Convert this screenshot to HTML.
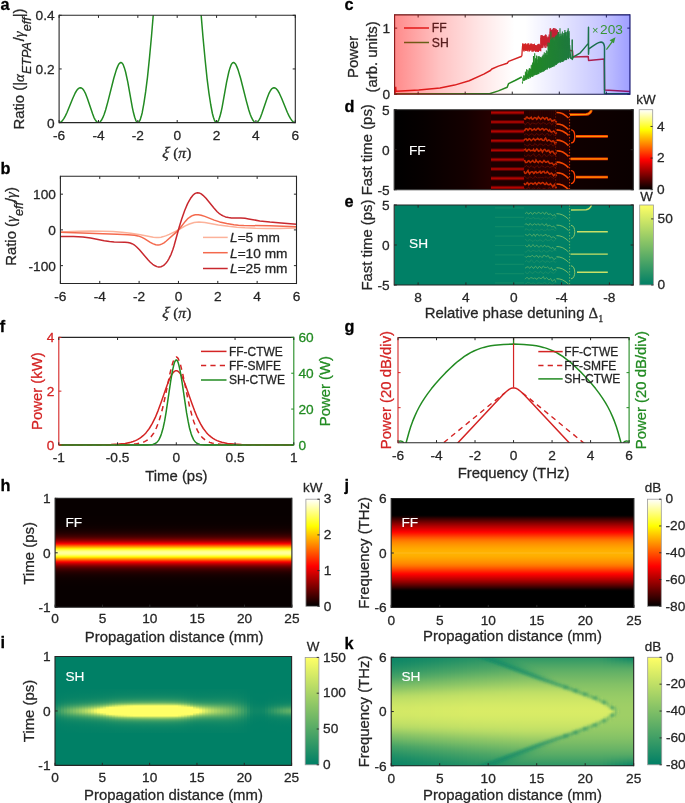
<!DOCTYPE html><html><head><meta charset="utf-8"><style>html,body{margin:0;padding:0;background:#fff;overflow:hidden}svg{display:block;will-change:transform}text{stroke-width:0.28px;stroke-linejoin:round}text[fill="#262626"]{stroke:#262626}text[fill="#000"]{stroke:#000}text[fill="#fff"]{stroke:#fff;stroke-width:0.15px}text[fill="#d42424"]{stroke:#d42424}text[fill="#228b22"]{stroke:#228b22}text[fill="#2e8b2e"]{stroke:#2e8b2e}</style></head><body><svg width="685" height="803" viewBox="0 0 685 803"><defs><clipPath id="ca"><rect x="59.1" y="15.3" width="236.2" height="107.3"/></clipPath><clipPath id="cb"><rect x="60.4" y="176.3" width="236.1" height="107.2"/></clipPath><clipPath id="cc"><rect x="394.6" y="14.9" width="235.3" height="79.3"/></clipPath><linearGradient id="cov" x1="0" y1="0" x2="1" y2="0"><stop offset="0" stop-color="#ff0000" stop-opacity="0.46"/><stop offset="0.193" stop-color="#ff0000" stop-opacity="0.235"/><stop offset="0.365" stop-color="#ff0000" stop-opacity="0.1"/><stop offset="0.51" stop-color="#ff0000" stop-opacity="0"/><stop offset="0.554" stop-color="#0000ff" stop-opacity="0"/><stop offset="0.703" stop-color="#0000ff" stop-opacity="0.1"/><stop offset="0.873" stop-color="#0000ff" stop-opacity="0.22"/><stop offset="1" stop-color="#0000ff" stop-opacity="0.38"/></linearGradient><clipPath id="cd"><rect x="394.2" y="109.7" width="239.1" height="80"/></clipPath><linearGradient id="dbg" x1="0" y1="0" x2="1" y2="0"><stop offset="0" stop-color="#000"/><stop offset="0.12" stop-color="#060000"/><stop offset="0.3" stop-color="#140000"/><stop offset="0.41" stop-color="#260000"/><stop offset="0.4101" stop-color="#180000"/><stop offset="1" stop-color="#0a0000"/></linearGradient><linearGradient id="cbd" x1="0" y1="0" x2="0" y2="1"><stop offset="0%" stop-color="#ffffff"/><stop offset="3.12%" stop-color="#ffffdf"/><stop offset="6.25%" stop-color="#ffffbf"/><stop offset="9.38%" stop-color="#ffff9f"/><stop offset="12.5%" stop-color="#ffff80"/><stop offset="15.62%" stop-color="#ffff60"/><stop offset="18.75%" stop-color="#ffff40"/><stop offset="21.88%" stop-color="#ffff20"/><stop offset="25%" stop-color="#ffff00"/><stop offset="28.12%" stop-color="#ffea00"/><stop offset="31.25%" stop-color="#ffd400"/><stop offset="34.38%" stop-color="#ffbf00"/><stop offset="37.5%" stop-color="#ffaa00"/><stop offset="40.62%" stop-color="#ff9500"/><stop offset="43.75%" stop-color="#ff8000"/><stop offset="46.88%" stop-color="#ff6a00"/><stop offset="50%" stop-color="#ff5500"/><stop offset="53.12%" stop-color="#ff4000"/><stop offset="56.25%" stop-color="#ff2a00"/><stop offset="59.38%" stop-color="#ff1500"/><stop offset="62.5%" stop-color="#ff0000"/><stop offset="65.62%" stop-color="#ea0000"/><stop offset="68.75%" stop-color="#d40000"/><stop offset="71.88%" stop-color="#bf0000"/><stop offset="75%" stop-color="#aa0000"/><stop offset="78.12%" stop-color="#950000"/><stop offset="81.25%" stop-color="#800000"/><stop offset="84.38%" stop-color="#6a0000"/><stop offset="87.5%" stop-color="#550000"/><stop offset="90.62%" stop-color="#400000"/><stop offset="93.75%" stop-color="#2a0000"/><stop offset="96.88%" stop-color="#150000"/><stop offset="100%" stop-color="#000000"/></linearGradient><clipPath id="ce"><rect x="394.2" y="205" width="239.1" height="80"/></clipPath><linearGradient id="cbe" x1="0" y1="0" x2="0" y2="1"><stop offset="0%" stop-color="#ffff66"/><stop offset="3.12%" stop-color="#f7fb66"/><stop offset="6.25%" stop-color="#eff766"/><stop offset="9.38%" stop-color="#e7f366"/><stop offset="12.5%" stop-color="#dfef66"/><stop offset="15.62%" stop-color="#d7eb66"/><stop offset="18.75%" stop-color="#cfe766"/><stop offset="21.88%" stop-color="#c7e366"/><stop offset="25%" stop-color="#bfdf66"/><stop offset="28.12%" stop-color="#b7db66"/><stop offset="31.25%" stop-color="#afd766"/><stop offset="34.38%" stop-color="#a7d366"/><stop offset="37.5%" stop-color="#9fcf66"/><stop offset="40.62%" stop-color="#97cb66"/><stop offset="43.75%" stop-color="#8fc766"/><stop offset="46.88%" stop-color="#87c366"/><stop offset="50%" stop-color="#80bf66"/><stop offset="53.12%" stop-color="#78bb66"/><stop offset="56.25%" stop-color="#70b766"/><stop offset="59.38%" stop-color="#68b366"/><stop offset="62.5%" stop-color="#60af66"/><stop offset="65.62%" stop-color="#58ab66"/><stop offset="68.75%" stop-color="#50a766"/><stop offset="71.88%" stop-color="#48a366"/><stop offset="75%" stop-color="#409f66"/><stop offset="78.12%" stop-color="#389b66"/><stop offset="81.25%" stop-color="#309766"/><stop offset="84.38%" stop-color="#289366"/><stop offset="87.5%" stop-color="#208f66"/><stop offset="90.62%" stop-color="#188b66"/><stop offset="93.75%" stop-color="#108766"/><stop offset="96.88%" stop-color="#088366"/><stop offset="100%" stop-color="#008066"/></linearGradient><clipPath id="cf"><rect x="58.8" y="337.4" width="235" height="107.5"/></clipPath><clipPath id="cf2"><rect x="59.4" y="336.4" width="233.8" height="109.5"/></clipPath><clipPath id="cg"><rect x="398" y="337.6" width="231.1" height="105.1"/></clipPath><linearGradient id="g1" x1="0" y1="0" x2="0" y2="1"><stop offset="0" stop-color="#070000"/><stop offset="0.009" stop-color="#070000"/><stop offset="0.018" stop-color="#070000"/><stop offset="0.028" stop-color="#070000"/><stop offset="0.037" stop-color="#070000"/><stop offset="0.046" stop-color="#070000"/><stop offset="0.055" stop-color="#070000"/><stop offset="0.064" stop-color="#070000"/><stop offset="0.073" stop-color="#070000"/><stop offset="0.083" stop-color="#070000"/><stop offset="0.092" stop-color="#070000"/><stop offset="0.101" stop-color="#070000"/><stop offset="0.11" stop-color="#070000"/><stop offset="0.119" stop-color="#070000"/><stop offset="0.128" stop-color="#070000"/><stop offset="0.138" stop-color="#070000"/><stop offset="0.147" stop-color="#070000"/><stop offset="0.156" stop-color="#070000"/><stop offset="0.165" stop-color="#080000"/><stop offset="0.174" stop-color="#080000"/><stop offset="0.183" stop-color="#080000"/><stop offset="0.193" stop-color="#080000"/><stop offset="0.202" stop-color="#090000"/><stop offset="0.211" stop-color="#090000"/><stop offset="0.22" stop-color="#0a0000"/><stop offset="0.229" stop-color="#0a0000"/><stop offset="0.239" stop-color="#0b0000"/><stop offset="0.248" stop-color="#0c0000"/><stop offset="0.257" stop-color="#0e0000"/><stop offset="0.266" stop-color="#0f0000"/><stop offset="0.275" stop-color="#110000"/><stop offset="0.284" stop-color="#140000"/><stop offset="0.294" stop-color="#170000"/><stop offset="0.303" stop-color="#1b0000"/><stop offset="0.312" stop-color="#200000"/><stop offset="0.321" stop-color="#260000"/><stop offset="0.33" stop-color="#2e0000"/><stop offset="0.339" stop-color="#370000"/><stop offset="0.349" stop-color="#420000"/><stop offset="0.358" stop-color="#500000"/><stop offset="0.367" stop-color="#610000"/><stop offset="0.376" stop-color="#750000"/><stop offset="0.385" stop-color="#8e0000"/><stop offset="0.394" stop-color="#aa0000"/><stop offset="0.404" stop-color="#cc0000"/><stop offset="0.413" stop-color="#f20000"/><stop offset="0.422" stop-color="#ff1e00"/><stop offset="0.431" stop-color="#ff4e00"/><stop offset="0.44" stop-color="#ff8000"/><stop offset="0.45" stop-color="#ffb400"/><stop offset="0.459" stop-color="#ffe600"/><stop offset="0.468" stop-color="#ffff20"/><stop offset="0.477" stop-color="#ffff5a"/><stop offset="0.486" stop-color="#ffff84"/><stop offset="0.495" stop-color="#ffff9a"/><stop offset="0.505" stop-color="#ffff9a"/><stop offset="0.514" stop-color="#ffff84"/><stop offset="0.523" stop-color="#ffff5a"/><stop offset="0.532" stop-color="#ffff20"/><stop offset="0.541" stop-color="#ffe600"/><stop offset="0.55" stop-color="#ffb400"/><stop offset="0.56" stop-color="#ff8000"/><stop offset="0.569" stop-color="#ff4e00"/><stop offset="0.578" stop-color="#ff1e00"/><stop offset="0.587" stop-color="#f20000"/><stop offset="0.596" stop-color="#cc0000"/><stop offset="0.606" stop-color="#aa0000"/><stop offset="0.615" stop-color="#8e0000"/><stop offset="0.624" stop-color="#750000"/><stop offset="0.633" stop-color="#610000"/><stop offset="0.642" stop-color="#500000"/><stop offset="0.651" stop-color="#420000"/><stop offset="0.661" stop-color="#370000"/><stop offset="0.67" stop-color="#2e0000"/><stop offset="0.679" stop-color="#260000"/><stop offset="0.688" stop-color="#200000"/><stop offset="0.697" stop-color="#1b0000"/><stop offset="0.706" stop-color="#170000"/><stop offset="0.716" stop-color="#140000"/><stop offset="0.725" stop-color="#110000"/><stop offset="0.734" stop-color="#0f0000"/><stop offset="0.743" stop-color="#0e0000"/><stop offset="0.752" stop-color="#0c0000"/><stop offset="0.761" stop-color="#0b0000"/><stop offset="0.771" stop-color="#0a0000"/><stop offset="0.78" stop-color="#0a0000"/><stop offset="0.789" stop-color="#090000"/><stop offset="0.798" stop-color="#090000"/><stop offset="0.807" stop-color="#080000"/><stop offset="0.817" stop-color="#080000"/><stop offset="0.826" stop-color="#080000"/><stop offset="0.835" stop-color="#080000"/><stop offset="0.844" stop-color="#070000"/><stop offset="0.853" stop-color="#070000"/><stop offset="0.862" stop-color="#070000"/><stop offset="0.872" stop-color="#070000"/><stop offset="0.881" stop-color="#070000"/><stop offset="0.89" stop-color="#070000"/><stop offset="0.899" stop-color="#070000"/><stop offset="0.908" stop-color="#070000"/><stop offset="0.917" stop-color="#070000"/><stop offset="0.927" stop-color="#070000"/><stop offset="0.936" stop-color="#070000"/><stop offset="0.945" stop-color="#070000"/><stop offset="0.954" stop-color="#070000"/><stop offset="0.963" stop-color="#070000"/><stop offset="0.972" stop-color="#070000"/><stop offset="0.982" stop-color="#070000"/><stop offset="0.991" stop-color="#070000"/><stop offset="1" stop-color="#070000"/></linearGradient><linearGradient id="cbh" x1="0" y1="0" x2="0" y2="1"><stop offset="0%" stop-color="#ffffff"/><stop offset="3.12%" stop-color="#ffffdf"/><stop offset="6.25%" stop-color="#ffffbf"/><stop offset="9.38%" stop-color="#ffff9f"/><stop offset="12.5%" stop-color="#ffff80"/><stop offset="15.62%" stop-color="#ffff60"/><stop offset="18.75%" stop-color="#ffff40"/><stop offset="21.88%" stop-color="#ffff20"/><stop offset="25%" stop-color="#ffff00"/><stop offset="28.12%" stop-color="#ffea00"/><stop offset="31.25%" stop-color="#ffd400"/><stop offset="34.38%" stop-color="#ffbf00"/><stop offset="37.5%" stop-color="#ffaa00"/><stop offset="40.62%" stop-color="#ff9500"/><stop offset="43.75%" stop-color="#ff8000"/><stop offset="46.88%" stop-color="#ff6a00"/><stop offset="50%" stop-color="#ff5500"/><stop offset="53.12%" stop-color="#ff4000"/><stop offset="56.25%" stop-color="#ff2a00"/><stop offset="59.38%" stop-color="#ff1500"/><stop offset="62.5%" stop-color="#ff0000"/><stop offset="65.62%" stop-color="#ea0000"/><stop offset="68.75%" stop-color="#d40000"/><stop offset="71.88%" stop-color="#bf0000"/><stop offset="75%" stop-color="#aa0000"/><stop offset="78.12%" stop-color="#950000"/><stop offset="81.25%" stop-color="#800000"/><stop offset="84.38%" stop-color="#6a0000"/><stop offset="87.5%" stop-color="#550000"/><stop offset="90.62%" stop-color="#400000"/><stop offset="93.75%" stop-color="#2a0000"/><stop offset="96.88%" stop-color="#150000"/><stop offset="100%" stop-color="#000000"/></linearGradient><linearGradient id="g2" x1="0" y1="0" x2="0" y2="1"><stop offset="0" stop-color="#018066"/><stop offset="0.038" stop-color="#018066"/><stop offset="0.077" stop-color="#018066"/><stop offset="0.115" stop-color="#028066"/><stop offset="0.154" stop-color="#028166"/><stop offset="0.192" stop-color="#038166"/><stop offset="0.231" stop-color="#048266"/><stop offset="0.269" stop-color="#078366"/><stop offset="0.308" stop-color="#0a8566"/><stop offset="0.346" stop-color="#0f8766"/><stop offset="0.385" stop-color="#168b66"/><stop offset="0.423" stop-color="#1f8f66"/><stop offset="0.462" stop-color="#279366"/><stop offset="0.5" stop-color="#2a9566"/><stop offset="0.538" stop-color="#279366"/><stop offset="0.577" stop-color="#1f8f66"/><stop offset="0.615" stop-color="#168b66"/><stop offset="0.654" stop-color="#0f8766"/><stop offset="0.692" stop-color="#0a8566"/><stop offset="0.731" stop-color="#078366"/><stop offset="0.769" stop-color="#048266"/><stop offset="0.808" stop-color="#038166"/><stop offset="0.846" stop-color="#028166"/><stop offset="0.885" stop-color="#028066"/><stop offset="0.923" stop-color="#018066"/><stop offset="0.962" stop-color="#018066"/><stop offset="1" stop-color="#018066"/></linearGradient><linearGradient id="g3" x1="0" y1="0" x2="0" y2="1"><stop offset="0" stop-color="#018066"/><stop offset="0.038" stop-color="#018066"/><stop offset="0.077" stop-color="#018066"/><stop offset="0.115" stop-color="#028166"/><stop offset="0.154" stop-color="#038166"/><stop offset="0.192" stop-color="#048266"/><stop offset="0.231" stop-color="#068366"/><stop offset="0.269" stop-color="#098466"/><stop offset="0.308" stop-color="#0e8666"/><stop offset="0.346" stop-color="#158a66"/><stop offset="0.385" stop-color="#1f8f66"/><stop offset="0.423" stop-color="#2b9566"/><stop offset="0.462" stop-color="#369b66"/><stop offset="0.5" stop-color="#3b9d66"/><stop offset="0.538" stop-color="#369b66"/><stop offset="0.577" stop-color="#2b9566"/><stop offset="0.615" stop-color="#1f8f66"/><stop offset="0.654" stop-color="#158a66"/><stop offset="0.692" stop-color="#0e8666"/><stop offset="0.731" stop-color="#098466"/><stop offset="0.769" stop-color="#068366"/><stop offset="0.808" stop-color="#048266"/><stop offset="0.846" stop-color="#038166"/><stop offset="0.885" stop-color="#028166"/><stop offset="0.923" stop-color="#018066"/><stop offset="0.962" stop-color="#018066"/><stop offset="1" stop-color="#018066"/></linearGradient><linearGradient id="g4" x1="0" y1="0" x2="0" y2="1"><stop offset="0" stop-color="#018066"/><stop offset="0.038" stop-color="#018066"/><stop offset="0.077" stop-color="#028066"/><stop offset="0.115" stop-color="#028166"/><stop offset="0.154" stop-color="#048166"/><stop offset="0.192" stop-color="#058266"/><stop offset="0.231" stop-color="#078366"/><stop offset="0.269" stop-color="#0b8566"/><stop offset="0.308" stop-color="#118866"/><stop offset="0.346" stop-color="#1a8c66"/><stop offset="0.385" stop-color="#279366"/><stop offset="0.423" stop-color="#379b66"/><stop offset="0.462" stop-color="#45a266"/><stop offset="0.5" stop-color="#4ba566"/><stop offset="0.538" stop-color="#45a266"/><stop offset="0.577" stop-color="#379b66"/><stop offset="0.615" stop-color="#279366"/><stop offset="0.654" stop-color="#1a8c66"/><stop offset="0.692" stop-color="#118866"/><stop offset="0.731" stop-color="#0b8566"/><stop offset="0.769" stop-color="#078366"/><stop offset="0.808" stop-color="#058266"/><stop offset="0.846" stop-color="#048166"/><stop offset="0.885" stop-color="#028166"/><stop offset="0.923" stop-color="#028066"/><stop offset="0.962" stop-color="#018066"/><stop offset="1" stop-color="#018066"/></linearGradient><linearGradient id="g5" x1="0" y1="0" x2="0" y2="1"><stop offset="0" stop-color="#018066"/><stop offset="0.038" stop-color="#018066"/><stop offset="0.077" stop-color="#028166"/><stop offset="0.115" stop-color="#038166"/><stop offset="0.154" stop-color="#048266"/><stop offset="0.192" stop-color="#068266"/><stop offset="0.231" stop-color="#098466"/><stop offset="0.269" stop-color="#0d8666"/><stop offset="0.308" stop-color="#148a66"/><stop offset="0.346" stop-color="#1f8f66"/><stop offset="0.385" stop-color="#2e9766"/><stop offset="0.423" stop-color="#41a066"/><stop offset="0.462" stop-color="#53a966"/><stop offset="0.5" stop-color="#5bad66"/><stop offset="0.538" stop-color="#53a966"/><stop offset="0.577" stop-color="#41a066"/><stop offset="0.615" stop-color="#2e9766"/><stop offset="0.654" stop-color="#1f8f66"/><stop offset="0.692" stop-color="#148a66"/><stop offset="0.731" stop-color="#0d8666"/><stop offset="0.769" stop-color="#098466"/><stop offset="0.808" stop-color="#068266"/><stop offset="0.846" stop-color="#048266"/><stop offset="0.885" stop-color="#038166"/><stop offset="0.923" stop-color="#028166"/><stop offset="0.962" stop-color="#018066"/><stop offset="1" stop-color="#018066"/></linearGradient><linearGradient id="g6" x1="0" y1="0" x2="0" y2="1"><stop offset="0" stop-color="#018066"/><stop offset="0.038" stop-color="#028066"/><stop offset="0.077" stop-color="#028166"/><stop offset="0.115" stop-color="#038166"/><stop offset="0.154" stop-color="#058266"/><stop offset="0.192" stop-color="#078366"/><stop offset="0.231" stop-color="#0a8466"/><stop offset="0.269" stop-color="#0f8766"/><stop offset="0.308" stop-color="#178b66"/><stop offset="0.346" stop-color="#239166"/><stop offset="0.385" stop-color="#359a66"/><stop offset="0.423" stop-color="#4ba566"/><stop offset="0.462" stop-color="#60b066"/><stop offset="0.5" stop-color="#69b466"/><stop offset="0.538" stop-color="#60b066"/><stop offset="0.577" stop-color="#4ba566"/><stop offset="0.615" stop-color="#359a66"/><stop offset="0.654" stop-color="#239166"/><stop offset="0.692" stop-color="#178b66"/><stop offset="0.731" stop-color="#0f8766"/><stop offset="0.769" stop-color="#0a8466"/><stop offset="0.808" stop-color="#078366"/><stop offset="0.846" stop-color="#058266"/><stop offset="0.885" stop-color="#038166"/><stop offset="0.923" stop-color="#028166"/><stop offset="0.962" stop-color="#028066"/><stop offset="1" stop-color="#018066"/></linearGradient><linearGradient id="g7" x1="0" y1="0" x2="0" y2="1"><stop offset="0" stop-color="#018066"/><stop offset="0.038" stop-color="#028066"/><stop offset="0.077" stop-color="#028166"/><stop offset="0.115" stop-color="#048166"/><stop offset="0.154" stop-color="#058266"/><stop offset="0.192" stop-color="#078366"/><stop offset="0.231" stop-color="#0b8566"/><stop offset="0.269" stop-color="#108866"/><stop offset="0.308" stop-color="#198c66"/><stop offset="0.346" stop-color="#279366"/><stop offset="0.385" stop-color="#3b9d66"/><stop offset="0.423" stop-color="#54aa66"/><stop offset="0.462" stop-color="#6cb666"/><stop offset="0.5" stop-color="#76bb66"/><stop offset="0.538" stop-color="#6cb666"/><stop offset="0.577" stop-color="#54aa66"/><stop offset="0.615" stop-color="#3b9d66"/><stop offset="0.654" stop-color="#279366"/><stop offset="0.692" stop-color="#198c66"/><stop offset="0.731" stop-color="#108866"/><stop offset="0.769" stop-color="#0b8566"/><stop offset="0.808" stop-color="#078366"/><stop offset="0.846" stop-color="#058266"/><stop offset="0.885" stop-color="#048166"/><stop offset="0.923" stop-color="#028166"/><stop offset="0.962" stop-color="#028066"/><stop offset="1" stop-color="#018066"/></linearGradient><linearGradient id="g8" x1="0" y1="0" x2="0" y2="1"><stop offset="0" stop-color="#018066"/><stop offset="0.038" stop-color="#028066"/><stop offset="0.077" stop-color="#038166"/><stop offset="0.115" stop-color="#048166"/><stop offset="0.154" stop-color="#058266"/><stop offset="0.192" stop-color="#088366"/><stop offset="0.231" stop-color="#0c8566"/><stop offset="0.269" stop-color="#128866"/><stop offset="0.308" stop-color="#1b8d66"/><stop offset="0.346" stop-color="#2a9566"/><stop offset="0.385" stop-color="#40a066"/><stop offset="0.423" stop-color="#5dae66"/><stop offset="0.462" stop-color="#78bb66"/><stop offset="0.5" stop-color="#83c166"/><stop offset="0.538" stop-color="#78bb66"/><stop offset="0.577" stop-color="#5dae66"/><stop offset="0.615" stop-color="#40a066"/><stop offset="0.654" stop-color="#2a9566"/><stop offset="0.692" stop-color="#1b8d66"/><stop offset="0.731" stop-color="#128866"/><stop offset="0.769" stop-color="#0c8566"/><stop offset="0.808" stop-color="#088366"/><stop offset="0.846" stop-color="#058266"/><stop offset="0.885" stop-color="#048166"/><stop offset="0.923" stop-color="#038166"/><stop offset="0.962" stop-color="#028066"/><stop offset="1" stop-color="#018066"/></linearGradient><linearGradient id="g9" x1="0" y1="0" x2="0" y2="1"><stop offset="0" stop-color="#018066"/><stop offset="0.038" stop-color="#028166"/><stop offset="0.077" stop-color="#038166"/><stop offset="0.115" stop-color="#048166"/><stop offset="0.154" stop-color="#068266"/><stop offset="0.192" stop-color="#088466"/><stop offset="0.231" stop-color="#0c8666"/><stop offset="0.269" stop-color="#138966"/><stop offset="0.308" stop-color="#1d8e66"/><stop offset="0.346" stop-color="#2d9666"/><stop offset="0.385" stop-color="#46a266"/><stop offset="0.423" stop-color="#65b266"/><stop offset="0.462" stop-color="#83c166"/><stop offset="0.5" stop-color="#90c766"/><stop offset="0.538" stop-color="#83c166"/><stop offset="0.577" stop-color="#65b266"/><stop offset="0.615" stop-color="#46a266"/><stop offset="0.654" stop-color="#2d9666"/><stop offset="0.692" stop-color="#1d8e66"/><stop offset="0.731" stop-color="#138966"/><stop offset="0.769" stop-color="#0c8666"/><stop offset="0.808" stop-color="#088466"/><stop offset="0.846" stop-color="#068266"/><stop offset="0.885" stop-color="#048166"/><stop offset="0.923" stop-color="#038166"/><stop offset="0.962" stop-color="#028166"/><stop offset="1" stop-color="#018066"/></linearGradient><linearGradient id="g10" x1="0" y1="0" x2="0" y2="1"><stop offset="0" stop-color="#028066"/><stop offset="0.038" stop-color="#028166"/><stop offset="0.077" stop-color="#038166"/><stop offset="0.115" stop-color="#048266"/><stop offset="0.154" stop-color="#068366"/><stop offset="0.192" stop-color="#098466"/><stop offset="0.231" stop-color="#0d8666"/><stop offset="0.269" stop-color="#148a66"/><stop offset="0.308" stop-color="#1f8f66"/><stop offset="0.346" stop-color="#319866"/><stop offset="0.385" stop-color="#4ba566"/><stop offset="0.423" stop-color="#6eb666"/><stop offset="0.462" stop-color="#8fc766"/><stop offset="0.5" stop-color="#9dce66"/><stop offset="0.538" stop-color="#8fc766"/><stop offset="0.577" stop-color="#6eb666"/><stop offset="0.615" stop-color="#4ba566"/><stop offset="0.654" stop-color="#319866"/><stop offset="0.692" stop-color="#1f8f66"/><stop offset="0.731" stop-color="#148a66"/><stop offset="0.769" stop-color="#0d8666"/><stop offset="0.808" stop-color="#098466"/><stop offset="0.846" stop-color="#068366"/><stop offset="0.885" stop-color="#048266"/><stop offset="0.923" stop-color="#038166"/><stop offset="0.962" stop-color="#028166"/><stop offset="1" stop-color="#028066"/></linearGradient><linearGradient id="g11" x1="0" y1="0" x2="0" y2="1"><stop offset="0" stop-color="#028066"/><stop offset="0.038" stop-color="#028166"/><stop offset="0.077" stop-color="#038166"/><stop offset="0.115" stop-color="#048266"/><stop offset="0.154" stop-color="#068366"/><stop offset="0.192" stop-color="#098466"/><stop offset="0.231" stop-color="#0e8666"/><stop offset="0.269" stop-color="#158a66"/><stop offset="0.308" stop-color="#219066"/><stop offset="0.346" stop-color="#349a66"/><stop offset="0.385" stop-color="#51a866"/><stop offset="0.423" stop-color="#77bb66"/><stop offset="0.462" stop-color="#9bcd66"/><stop offset="0.5" stop-color="#abd566"/><stop offset="0.538" stop-color="#9bcd66"/><stop offset="0.577" stop-color="#77bb66"/><stop offset="0.615" stop-color="#51a866"/><stop offset="0.654" stop-color="#349a66"/><stop offset="0.692" stop-color="#219066"/><stop offset="0.731" stop-color="#158a66"/><stop offset="0.769" stop-color="#0e8666"/><stop offset="0.808" stop-color="#098466"/><stop offset="0.846" stop-color="#068366"/><stop offset="0.885" stop-color="#048266"/><stop offset="0.923" stop-color="#038166"/><stop offset="0.962" stop-color="#028166"/><stop offset="1" stop-color="#028066"/></linearGradient><linearGradient id="g12" x1="0" y1="0" x2="0" y2="1"><stop offset="0" stop-color="#028066"/><stop offset="0.038" stop-color="#028166"/><stop offset="0.077" stop-color="#038166"/><stop offset="0.115" stop-color="#058266"/><stop offset="0.154" stop-color="#078366"/><stop offset="0.192" stop-color="#0a8466"/><stop offset="0.231" stop-color="#0f8766"/><stop offset="0.269" stop-color="#178b66"/><stop offset="0.308" stop-color="#239166"/><stop offset="0.346" stop-color="#389b66"/><stop offset="0.385" stop-color="#57ab66"/><stop offset="0.423" stop-color="#80c066"/><stop offset="0.462" stop-color="#a9d466"/><stop offset="0.5" stop-color="#badd66"/><stop offset="0.538" stop-color="#a9d466"/><stop offset="0.577" stop-color="#80c066"/><stop offset="0.615" stop-color="#57ab66"/><stop offset="0.654" stop-color="#389b66"/><stop offset="0.692" stop-color="#239166"/><stop offset="0.731" stop-color="#178b66"/><stop offset="0.769" stop-color="#0f8766"/><stop offset="0.808" stop-color="#0a8466"/><stop offset="0.846" stop-color="#078366"/><stop offset="0.885" stop-color="#058266"/><stop offset="0.923" stop-color="#038166"/><stop offset="0.962" stop-color="#028166"/><stop offset="1" stop-color="#028066"/></linearGradient><linearGradient id="g13" x1="0" y1="0" x2="0" y2="1"><stop offset="0" stop-color="#028066"/><stop offset="0.038" stop-color="#028166"/><stop offset="0.077" stop-color="#038166"/><stop offset="0.115" stop-color="#058266"/><stop offset="0.154" stop-color="#078366"/><stop offset="0.192" stop-color="#0a8566"/><stop offset="0.231" stop-color="#108766"/><stop offset="0.269" stop-color="#188c66"/><stop offset="0.308" stop-color="#269266"/><stop offset="0.346" stop-color="#3c9e66"/><stop offset="0.385" stop-color="#5eaf66"/><stop offset="0.423" stop-color="#8bc566"/><stop offset="0.462" stop-color="#b8db66"/><stop offset="0.5" stop-color="#cbe566"/><stop offset="0.538" stop-color="#b8db66"/><stop offset="0.577" stop-color="#8bc566"/><stop offset="0.615" stop-color="#5eaf66"/><stop offset="0.654" stop-color="#3c9e66"/><stop offset="0.692" stop-color="#269266"/><stop offset="0.731" stop-color="#188c66"/><stop offset="0.769" stop-color="#108766"/><stop offset="0.808" stop-color="#0a8566"/><stop offset="0.846" stop-color="#078366"/><stop offset="0.885" stop-color="#058266"/><stop offset="0.923" stop-color="#038166"/><stop offset="0.962" stop-color="#028166"/><stop offset="1" stop-color="#028066"/></linearGradient><linearGradient id="g14" x1="0" y1="0" x2="0" y2="1"><stop offset="0" stop-color="#028066"/><stop offset="0.038" stop-color="#038166"/><stop offset="0.077" stop-color="#048166"/><stop offset="0.115" stop-color="#058266"/><stop offset="0.154" stop-color="#088366"/><stop offset="0.192" stop-color="#0b8566"/><stop offset="0.231" stop-color="#118866"/><stop offset="0.269" stop-color="#1a8c66"/><stop offset="0.308" stop-color="#299466"/><stop offset="0.346" stop-color="#41a066"/><stop offset="0.385" stop-color="#66b266"/><stop offset="0.423" stop-color="#98cb66"/><stop offset="0.462" stop-color="#c9e466"/><stop offset="0.5" stop-color="#dfef66"/><stop offset="0.538" stop-color="#c9e466"/><stop offset="0.577" stop-color="#98cb66"/><stop offset="0.615" stop-color="#66b266"/><stop offset="0.654" stop-color="#41a066"/><stop offset="0.692" stop-color="#299466"/><stop offset="0.731" stop-color="#1a8c66"/><stop offset="0.769" stop-color="#118866"/><stop offset="0.808" stop-color="#0b8566"/><stop offset="0.846" stop-color="#088366"/><stop offset="0.885" stop-color="#058266"/><stop offset="0.923" stop-color="#048166"/><stop offset="0.962" stop-color="#038166"/><stop offset="1" stop-color="#028066"/></linearGradient><linearGradient id="g15" x1="0" y1="0" x2="0" y2="1"><stop offset="0" stop-color="#028066"/><stop offset="0.038" stop-color="#038166"/><stop offset="0.077" stop-color="#048166"/><stop offset="0.115" stop-color="#068266"/><stop offset="0.154" stop-color="#088466"/><stop offset="0.192" stop-color="#0c8566"/><stop offset="0.231" stop-color="#128866"/><stop offset="0.269" stop-color="#1c8d66"/><stop offset="0.308" stop-color="#2c9566"/><stop offset="0.346" stop-color="#46a266"/><stop offset="0.385" stop-color="#6eb766"/><stop offset="0.423" stop-color="#a6d266"/><stop offset="0.462" stop-color="#ddee66"/><stop offset="0.5" stop-color="#f5fa66"/><stop offset="0.538" stop-color="#ddee66"/><stop offset="0.577" stop-color="#a6d266"/><stop offset="0.615" stop-color="#6eb766"/><stop offset="0.654" stop-color="#46a266"/><stop offset="0.692" stop-color="#2c9566"/><stop offset="0.731" stop-color="#1c8d66"/><stop offset="0.769" stop-color="#128866"/><stop offset="0.808" stop-color="#0c8566"/><stop offset="0.846" stop-color="#088466"/><stop offset="0.885" stop-color="#068266"/><stop offset="0.923" stop-color="#048166"/><stop offset="0.962" stop-color="#038166"/><stop offset="1" stop-color="#028066"/></linearGradient><linearGradient id="g16" x1="0" y1="0" x2="0" y2="1"><stop offset="0" stop-color="#028066"/><stop offset="0.038" stop-color="#038166"/><stop offset="0.077" stop-color="#048266"/><stop offset="0.115" stop-color="#068266"/><stop offset="0.154" stop-color="#098466"/><stop offset="0.192" stop-color="#0d8666"/><stop offset="0.231" stop-color="#138966"/><stop offset="0.269" stop-color="#1e8e66"/><stop offset="0.308" stop-color="#2f9766"/><stop offset="0.346" stop-color="#4ba566"/><stop offset="0.385" stop-color="#78bc66"/><stop offset="0.423" stop-color="#b5da66"/><stop offset="0.462" stop-color="#f3f966"/><stop offset="0.5" stop-color="#ffff66"/><stop offset="0.538" stop-color="#f3f966"/><stop offset="0.577" stop-color="#b5da66"/><stop offset="0.615" stop-color="#78bc66"/><stop offset="0.654" stop-color="#4ba566"/><stop offset="0.692" stop-color="#2f9766"/><stop offset="0.731" stop-color="#1e8e66"/><stop offset="0.769" stop-color="#138966"/><stop offset="0.808" stop-color="#0d8666"/><stop offset="0.846" stop-color="#098466"/><stop offset="0.885" stop-color="#068266"/><stop offset="0.923" stop-color="#048266"/><stop offset="0.962" stop-color="#038166"/><stop offset="1" stop-color="#028066"/></linearGradient><linearGradient id="g17" x1="0" y1="0" x2="0" y2="1"><stop offset="0" stop-color="#028166"/><stop offset="0.038" stop-color="#038166"/><stop offset="0.077" stop-color="#048266"/><stop offset="0.115" stop-color="#068366"/><stop offset="0.154" stop-color="#098466"/><stop offset="0.192" stop-color="#0d8666"/><stop offset="0.231" stop-color="#148a66"/><stop offset="0.269" stop-color="#208f66"/><stop offset="0.308" stop-color="#329966"/><stop offset="0.346" stop-color="#51a866"/><stop offset="0.385" stop-color="#82c166"/><stop offset="0.423" stop-color="#c6e366"/><stop offset="0.462" stop-color="#ffff66"/><stop offset="0.5" stop-color="#ffff66"/><stop offset="0.538" stop-color="#ffff66"/><stop offset="0.577" stop-color="#c6e366"/><stop offset="0.615" stop-color="#82c166"/><stop offset="0.654" stop-color="#51a866"/><stop offset="0.692" stop-color="#329966"/><stop offset="0.731" stop-color="#208f66"/><stop offset="0.769" stop-color="#148a66"/><stop offset="0.808" stop-color="#0d8666"/><stop offset="0.846" stop-color="#098466"/><stop offset="0.885" stop-color="#068366"/><stop offset="0.923" stop-color="#048266"/><stop offset="0.962" stop-color="#038166"/><stop offset="1" stop-color="#028166"/></linearGradient><linearGradient id="g18" x1="0" y1="0" x2="0" y2="1"><stop offset="0" stop-color="#028166"/><stop offset="0.038" stop-color="#038166"/><stop offset="0.077" stop-color="#058266"/><stop offset="0.115" stop-color="#078366"/><stop offset="0.154" stop-color="#0a8466"/><stop offset="0.192" stop-color="#0e8766"/><stop offset="0.231" stop-color="#168a66"/><stop offset="0.269" stop-color="#229166"/><stop offset="0.308" stop-color="#369b66"/><stop offset="0.346" stop-color="#58ac66"/><stop offset="0.385" stop-color="#8fc766"/><stop offset="0.423" stop-color="#daed66"/><stop offset="0.462" stop-color="#ffff66"/><stop offset="0.5" stop-color="#ffff66"/><stop offset="0.538" stop-color="#ffff66"/><stop offset="0.577" stop-color="#daed66"/><stop offset="0.615" stop-color="#8fc766"/><stop offset="0.654" stop-color="#58ac66"/><stop offset="0.692" stop-color="#369b66"/><stop offset="0.731" stop-color="#229166"/><stop offset="0.769" stop-color="#168a66"/><stop offset="0.808" stop-color="#0e8766"/><stop offset="0.846" stop-color="#0a8466"/><stop offset="0.885" stop-color="#078366"/><stop offset="0.923" stop-color="#058266"/><stop offset="0.962" stop-color="#038166"/><stop offset="1" stop-color="#028166"/></linearGradient><linearGradient id="g19" x1="0" y1="0" x2="0" y2="1"><stop offset="0" stop-color="#028166"/><stop offset="0.038" stop-color="#038166"/><stop offset="0.077" stop-color="#058266"/><stop offset="0.115" stop-color="#078366"/><stop offset="0.154" stop-color="#0b8566"/><stop offset="0.192" stop-color="#108766"/><stop offset="0.231" stop-color="#188b66"/><stop offset="0.269" stop-color="#259266"/><stop offset="0.308" stop-color="#3c9d66"/><stop offset="0.346" stop-color="#62b066"/><stop offset="0.385" stop-color="#9ecf66"/><stop offset="0.423" stop-color="#f4f966"/><stop offset="0.462" stop-color="#ffff66"/><stop offset="0.5" stop-color="#ffff66"/><stop offset="0.538" stop-color="#ffff66"/><stop offset="0.577" stop-color="#f4f966"/><stop offset="0.615" stop-color="#9ecf66"/><stop offset="0.654" stop-color="#62b066"/><stop offset="0.692" stop-color="#3c9d66"/><stop offset="0.731" stop-color="#259266"/><stop offset="0.769" stop-color="#188b66"/><stop offset="0.808" stop-color="#108766"/><stop offset="0.846" stop-color="#0b8566"/><stop offset="0.885" stop-color="#078366"/><stop offset="0.923" stop-color="#058266"/><stop offset="0.962" stop-color="#038166"/><stop offset="1" stop-color="#028166"/></linearGradient><linearGradient id="g20" x1="0" y1="0" x2="0" y2="1"><stop offset="0" stop-color="#038166"/><stop offset="0.038" stop-color="#048166"/><stop offset="0.077" stop-color="#058266"/><stop offset="0.115" stop-color="#088366"/><stop offset="0.154" stop-color="#0b8566"/><stop offset="0.192" stop-color="#118866"/><stop offset="0.231" stop-color="#1a8d66"/><stop offset="0.269" stop-color="#299466"/><stop offset="0.308" stop-color="#42a066"/><stop offset="0.346" stop-color="#6cb566"/><stop offset="0.385" stop-color="#b0d766"/><stop offset="0.423" stop-color="#ffff66"/><stop offset="0.462" stop-color="#ffff66"/><stop offset="0.5" stop-color="#ffff66"/><stop offset="0.538" stop-color="#ffff66"/><stop offset="0.577" stop-color="#ffff66"/><stop offset="0.615" stop-color="#b0d766"/><stop offset="0.654" stop-color="#6cb566"/><stop offset="0.692" stop-color="#42a066"/><stop offset="0.731" stop-color="#299466"/><stop offset="0.769" stop-color="#1a8d66"/><stop offset="0.808" stop-color="#118866"/><stop offset="0.846" stop-color="#0b8566"/><stop offset="0.885" stop-color="#088366"/><stop offset="0.923" stop-color="#058266"/><stop offset="0.962" stop-color="#048166"/><stop offset="1" stop-color="#038166"/></linearGradient><linearGradient id="g21" x1="0" y1="0" x2="0" y2="1"><stop offset="0" stop-color="#038166"/><stop offset="0.038" stop-color="#048166"/><stop offset="0.077" stop-color="#068266"/><stop offset="0.115" stop-color="#088466"/><stop offset="0.154" stop-color="#0c8666"/><stop offset="0.192" stop-color="#128966"/><stop offset="0.231" stop-color="#1c8e66"/><stop offset="0.269" stop-color="#2c9666"/><stop offset="0.308" stop-color="#48a366"/><stop offset="0.346" stop-color="#76ba66"/><stop offset="0.385" stop-color="#c1e066"/><stop offset="0.423" stop-color="#ffff66"/><stop offset="0.462" stop-color="#ffff66"/><stop offset="0.5" stop-color="#ffff66"/><stop offset="0.538" stop-color="#ffff66"/><stop offset="0.577" stop-color="#ffff66"/><stop offset="0.615" stop-color="#c1e066"/><stop offset="0.654" stop-color="#76ba66"/><stop offset="0.692" stop-color="#48a366"/><stop offset="0.731" stop-color="#2c9666"/><stop offset="0.769" stop-color="#1c8e66"/><stop offset="0.808" stop-color="#128966"/><stop offset="0.846" stop-color="#0c8666"/><stop offset="0.885" stop-color="#088466"/><stop offset="0.923" stop-color="#068266"/><stop offset="0.962" stop-color="#048166"/><stop offset="1" stop-color="#038166"/></linearGradient><linearGradient id="g22" x1="0" y1="0" x2="0" y2="1"><stop offset="0" stop-color="#038166"/><stop offset="0.038" stop-color="#048266"/><stop offset="0.077" stop-color="#068366"/><stop offset="0.115" stop-color="#098466"/><stop offset="0.154" stop-color="#0d8666"/><stop offset="0.192" stop-color="#148966"/><stop offset="0.231" stop-color="#1e8f66"/><stop offset="0.269" stop-color="#2f9766"/><stop offset="0.308" stop-color="#4da666"/><stop offset="0.346" stop-color="#7fbf66"/><stop offset="0.385" stop-color="#d1e866"/><stop offset="0.423" stop-color="#ffff66"/><stop offset="0.462" stop-color="#ffff66"/><stop offset="0.5" stop-color="#ffff66"/><stop offset="0.538" stop-color="#ffff66"/><stop offset="0.577" stop-color="#ffff66"/><stop offset="0.615" stop-color="#d1e866"/><stop offset="0.654" stop-color="#7fbf66"/><stop offset="0.692" stop-color="#4da666"/><stop offset="0.731" stop-color="#2f9766"/><stop offset="0.769" stop-color="#1e8f66"/><stop offset="0.808" stop-color="#148966"/><stop offset="0.846" stop-color="#0d8666"/><stop offset="0.885" stop-color="#098466"/><stop offset="0.923" stop-color="#068366"/><stop offset="0.962" stop-color="#048266"/><stop offset="1" stop-color="#038166"/></linearGradient><linearGradient id="g23" x1="0" y1="0" x2="0" y2="1"><stop offset="0" stop-color="#038166"/><stop offset="0.038" stop-color="#048266"/><stop offset="0.077" stop-color="#068366"/><stop offset="0.115" stop-color="#098466"/><stop offset="0.154" stop-color="#0e8666"/><stop offset="0.192" stop-color="#158a66"/><stop offset="0.231" stop-color="#208f66"/><stop offset="0.269" stop-color="#329866"/><stop offset="0.308" stop-color="#51a866"/><stop offset="0.346" stop-color="#86c266"/><stop offset="0.385" stop-color="#ddee66"/><stop offset="0.423" stop-color="#ffff66"/><stop offset="0.462" stop-color="#ffff66"/><stop offset="0.5" stop-color="#ffff66"/><stop offset="0.538" stop-color="#ffff66"/><stop offset="0.577" stop-color="#ffff66"/><stop offset="0.615" stop-color="#ddee66"/><stop offset="0.654" stop-color="#86c266"/><stop offset="0.692" stop-color="#51a866"/><stop offset="0.731" stop-color="#329866"/><stop offset="0.769" stop-color="#208f66"/><stop offset="0.808" stop-color="#158a66"/><stop offset="0.846" stop-color="#0e8666"/><stop offset="0.885" stop-color="#098466"/><stop offset="0.923" stop-color="#068366"/><stop offset="0.962" stop-color="#048266"/><stop offset="1" stop-color="#038166"/></linearGradient><linearGradient id="g24" x1="0" y1="0" x2="0" y2="1"><stop offset="0" stop-color="#038166"/><stop offset="0.038" stop-color="#048266"/><stop offset="0.077" stop-color="#068366"/><stop offset="0.115" stop-color="#098466"/><stop offset="0.154" stop-color="#0e8766"/><stop offset="0.192" stop-color="#158a66"/><stop offset="0.231" stop-color="#219066"/><stop offset="0.269" stop-color="#339966"/><stop offset="0.308" stop-color="#53a966"/><stop offset="0.346" stop-color="#8ac566"/><stop offset="0.385" stop-color="#e6f266"/><stop offset="0.423" stop-color="#ffff66"/><stop offset="0.462" stop-color="#ffff66"/><stop offset="0.5" stop-color="#ffff66"/><stop offset="0.538" stop-color="#ffff66"/><stop offset="0.577" stop-color="#ffff66"/><stop offset="0.615" stop-color="#e6f266"/><stop offset="0.654" stop-color="#8ac566"/><stop offset="0.692" stop-color="#53a966"/><stop offset="0.731" stop-color="#339966"/><stop offset="0.769" stop-color="#219066"/><stop offset="0.808" stop-color="#158a66"/><stop offset="0.846" stop-color="#0e8766"/><stop offset="0.885" stop-color="#098466"/><stop offset="0.923" stop-color="#068366"/><stop offset="0.962" stop-color="#048266"/><stop offset="1" stop-color="#038166"/></linearGradient><linearGradient id="g25" x1="0" y1="0" x2="0" y2="1"><stop offset="0" stop-color="#038166"/><stop offset="0.038" stop-color="#048266"/><stop offset="0.077" stop-color="#078366"/><stop offset="0.115" stop-color="#0a8466"/><stop offset="0.154" stop-color="#0e8766"/><stop offset="0.192" stop-color="#168a66"/><stop offset="0.231" stop-color="#219066"/><stop offset="0.269" stop-color="#359a66"/><stop offset="0.308" stop-color="#56aa66"/><stop offset="0.346" stop-color="#8fc766"/><stop offset="0.385" stop-color="#edf666"/><stop offset="0.423" stop-color="#ffff66"/><stop offset="0.462" stop-color="#ffff66"/><stop offset="0.5" stop-color="#ffff66"/><stop offset="0.538" stop-color="#ffff66"/><stop offset="0.577" stop-color="#ffff66"/><stop offset="0.615" stop-color="#edf666"/><stop offset="0.654" stop-color="#8fc766"/><stop offset="0.692" stop-color="#56aa66"/><stop offset="0.731" stop-color="#359a66"/><stop offset="0.769" stop-color="#219066"/><stop offset="0.808" stop-color="#168a66"/><stop offset="0.846" stop-color="#0e8766"/><stop offset="0.885" stop-color="#0a8466"/><stop offset="0.923" stop-color="#078366"/><stop offset="0.962" stop-color="#048266"/><stop offset="1" stop-color="#038166"/></linearGradient><linearGradient id="g26" x1="0" y1="0" x2="0" y2="1"><stop offset="0" stop-color="#038166"/><stop offset="0.038" stop-color="#058266"/><stop offset="0.077" stop-color="#078366"/><stop offset="0.115" stop-color="#0a8466"/><stop offset="0.154" stop-color="#0f8766"/><stop offset="0.192" stop-color="#168b66"/><stop offset="0.231" stop-color="#229166"/><stop offset="0.269" stop-color="#369b66"/><stop offset="0.308" stop-color="#58ac66"/><stop offset="0.346" stop-color="#93c966"/><stop offset="0.385" stop-color="#f4fa66"/><stop offset="0.423" stop-color="#ffff66"/><stop offset="0.462" stop-color="#ffff66"/><stop offset="0.5" stop-color="#ffff66"/><stop offset="0.538" stop-color="#ffff66"/><stop offset="0.577" stop-color="#ffff66"/><stop offset="0.615" stop-color="#f4fa66"/><stop offset="0.654" stop-color="#93c966"/><stop offset="0.692" stop-color="#58ac66"/><stop offset="0.731" stop-color="#369b66"/><stop offset="0.769" stop-color="#229166"/><stop offset="0.808" stop-color="#168b66"/><stop offset="0.846" stop-color="#0f8766"/><stop offset="0.885" stop-color="#0a8466"/><stop offset="0.923" stop-color="#078366"/><stop offset="0.962" stop-color="#058266"/><stop offset="1" stop-color="#038166"/></linearGradient><linearGradient id="g27" x1="0" y1="0" x2="0" y2="1"><stop offset="0" stop-color="#038166"/><stop offset="0.038" stop-color="#058266"/><stop offset="0.077" stop-color="#078366"/><stop offset="0.115" stop-color="#0a8566"/><stop offset="0.154" stop-color="#0f8766"/><stop offset="0.192" stop-color="#178b66"/><stop offset="0.231" stop-color="#239166"/><stop offset="0.269" stop-color="#389b66"/><stop offset="0.308" stop-color="#5bad66"/><stop offset="0.346" stop-color="#97cb66"/><stop offset="0.385" stop-color="#fbfd66"/><stop offset="0.423" stop-color="#ffff66"/><stop offset="0.462" stop-color="#ffff66"/><stop offset="0.5" stop-color="#ffff66"/><stop offset="0.538" stop-color="#ffff66"/><stop offset="0.577" stop-color="#ffff66"/><stop offset="0.615" stop-color="#fbfd66"/><stop offset="0.654" stop-color="#97cb66"/><stop offset="0.692" stop-color="#5bad66"/><stop offset="0.731" stop-color="#389b66"/><stop offset="0.769" stop-color="#239166"/><stop offset="0.808" stop-color="#178b66"/><stop offset="0.846" stop-color="#0f8766"/><stop offset="0.885" stop-color="#0a8566"/><stop offset="0.923" stop-color="#078366"/><stop offset="0.962" stop-color="#058266"/><stop offset="1" stop-color="#038166"/></linearGradient><linearGradient id="g28" x1="0" y1="0" x2="0" y2="1"><stop offset="0" stop-color="#038166"/><stop offset="0.038" stop-color="#058266"/><stop offset="0.077" stop-color="#078366"/><stop offset="0.115" stop-color="#0a8566"/><stop offset="0.154" stop-color="#0f8766"/><stop offset="0.192" stop-color="#178b66"/><stop offset="0.231" stop-color="#249266"/><stop offset="0.269" stop-color="#399c66"/><stop offset="0.308" stop-color="#5dae66"/><stop offset="0.346" stop-color="#9acd66"/><stop offset="0.385" stop-color="#ffff66"/><stop offset="0.423" stop-color="#ffff66"/><stop offset="0.462" stop-color="#ffff66"/><stop offset="0.5" stop-color="#ffff66"/><stop offset="0.538" stop-color="#ffff66"/><stop offset="0.577" stop-color="#ffff66"/><stop offset="0.615" stop-color="#ffff66"/><stop offset="0.654" stop-color="#9acd66"/><stop offset="0.692" stop-color="#5dae66"/><stop offset="0.731" stop-color="#399c66"/><stop offset="0.769" stop-color="#249266"/><stop offset="0.808" stop-color="#178b66"/><stop offset="0.846" stop-color="#0f8766"/><stop offset="0.885" stop-color="#0a8566"/><stop offset="0.923" stop-color="#078366"/><stop offset="0.962" stop-color="#058266"/><stop offset="1" stop-color="#038166"/></linearGradient><linearGradient id="g29" x1="0" y1="0" x2="0" y2="1"><stop offset="0" stop-color="#038166"/><stop offset="0.038" stop-color="#058266"/><stop offset="0.077" stop-color="#078366"/><stop offset="0.115" stop-color="#0b8566"/><stop offset="0.154" stop-color="#108766"/><stop offset="0.192" stop-color="#188b66"/><stop offset="0.231" stop-color="#259266"/><stop offset="0.269" stop-color="#3a9d66"/><stop offset="0.308" stop-color="#5eaf66"/><stop offset="0.346" stop-color="#9dce66"/><stop offset="0.385" stop-color="#ffff66"/><stop offset="0.423" stop-color="#ffff66"/><stop offset="0.462" stop-color="#ffff66"/><stop offset="0.5" stop-color="#ffff66"/><stop offset="0.538" stop-color="#ffff66"/><stop offset="0.577" stop-color="#ffff66"/><stop offset="0.615" stop-color="#ffff66"/><stop offset="0.654" stop-color="#9dce66"/><stop offset="0.692" stop-color="#5eaf66"/><stop offset="0.731" stop-color="#3a9d66"/><stop offset="0.769" stop-color="#259266"/><stop offset="0.808" stop-color="#188b66"/><stop offset="0.846" stop-color="#108766"/><stop offset="0.885" stop-color="#0b8566"/><stop offset="0.923" stop-color="#078366"/><stop offset="0.962" stop-color="#058266"/><stop offset="1" stop-color="#038166"/></linearGradient><linearGradient id="g30" x1="0" y1="0" x2="0" y2="1"><stop offset="0" stop-color="#038166"/><stop offset="0.038" stop-color="#058266"/><stop offset="0.077" stop-color="#078366"/><stop offset="0.115" stop-color="#0b8566"/><stop offset="0.154" stop-color="#108766"/><stop offset="0.192" stop-color="#188c66"/><stop offset="0.231" stop-color="#259266"/><stop offset="0.269" stop-color="#3b9d66"/><stop offset="0.308" stop-color="#5faf66"/><stop offset="0.346" stop-color="#9fcf66"/><stop offset="0.385" stop-color="#ffff66"/><stop offset="0.423" stop-color="#ffff66"/><stop offset="0.462" stop-color="#ffff66"/><stop offset="0.5" stop-color="#ffff66"/><stop offset="0.538" stop-color="#ffff66"/><stop offset="0.577" stop-color="#ffff66"/><stop offset="0.615" stop-color="#ffff66"/><stop offset="0.654" stop-color="#9fcf66"/><stop offset="0.692" stop-color="#5faf66"/><stop offset="0.731" stop-color="#3b9d66"/><stop offset="0.769" stop-color="#259266"/><stop offset="0.808" stop-color="#188c66"/><stop offset="0.846" stop-color="#108766"/><stop offset="0.885" stop-color="#0b8566"/><stop offset="0.923" stop-color="#078366"/><stop offset="0.962" stop-color="#058266"/><stop offset="1" stop-color="#038166"/></linearGradient><linearGradient id="g31" x1="0" y1="0" x2="0" y2="1"><stop offset="0" stop-color="#038166"/><stop offset="0.038" stop-color="#058266"/><stop offset="0.077" stop-color="#078366"/><stop offset="0.115" stop-color="#0b8566"/><stop offset="0.154" stop-color="#108866"/><stop offset="0.192" stop-color="#188c66"/><stop offset="0.231" stop-color="#259266"/><stop offset="0.269" stop-color="#3b9d66"/><stop offset="0.308" stop-color="#60b066"/><stop offset="0.346" stop-color="#a0d066"/><stop offset="0.385" stop-color="#ffff66"/><stop offset="0.423" stop-color="#ffff66"/><stop offset="0.462" stop-color="#ffff66"/><stop offset="0.5" stop-color="#ffff66"/><stop offset="0.538" stop-color="#ffff66"/><stop offset="0.577" stop-color="#ffff66"/><stop offset="0.615" stop-color="#ffff66"/><stop offset="0.654" stop-color="#a0d066"/><stop offset="0.692" stop-color="#60b066"/><stop offset="0.731" stop-color="#3b9d66"/><stop offset="0.769" stop-color="#259266"/><stop offset="0.808" stop-color="#188c66"/><stop offset="0.846" stop-color="#108866"/><stop offset="0.885" stop-color="#0b8566"/><stop offset="0.923" stop-color="#078366"/><stop offset="0.962" stop-color="#058266"/><stop offset="1" stop-color="#038166"/></linearGradient><linearGradient id="g32" x1="0" y1="0" x2="0" y2="1"><stop offset="0" stop-color="#038166"/><stop offset="0.038" stop-color="#058266"/><stop offset="0.077" stop-color="#078366"/><stop offset="0.115" stop-color="#0b8566"/><stop offset="0.154" stop-color="#108866"/><stop offset="0.192" stop-color="#188c66"/><stop offset="0.231" stop-color="#269266"/><stop offset="0.269" stop-color="#3c9d66"/><stop offset="0.308" stop-color="#61b066"/><stop offset="0.346" stop-color="#a1d066"/><stop offset="0.385" stop-color="#ffff66"/><stop offset="0.423" stop-color="#ffff66"/><stop offset="0.462" stop-color="#ffff66"/><stop offset="0.5" stop-color="#ffff66"/><stop offset="0.538" stop-color="#ffff66"/><stop offset="0.577" stop-color="#ffff66"/><stop offset="0.615" stop-color="#ffff66"/><stop offset="0.654" stop-color="#a1d066"/><stop offset="0.692" stop-color="#61b066"/><stop offset="0.731" stop-color="#3c9d66"/><stop offset="0.769" stop-color="#269266"/><stop offset="0.808" stop-color="#188c66"/><stop offset="0.846" stop-color="#108866"/><stop offset="0.885" stop-color="#0b8566"/><stop offset="0.923" stop-color="#078366"/><stop offset="0.962" stop-color="#058266"/><stop offset="1" stop-color="#038166"/></linearGradient><linearGradient id="g33" x1="0" y1="0" x2="0" y2="1"><stop offset="0" stop-color="#038166"/><stop offset="0.038" stop-color="#058266"/><stop offset="0.077" stop-color="#078366"/><stop offset="0.115" stop-color="#0b8566"/><stop offset="0.154" stop-color="#108866"/><stop offset="0.192" stop-color="#198c66"/><stop offset="0.231" stop-color="#269266"/><stop offset="0.269" stop-color="#3c9d66"/><stop offset="0.308" stop-color="#62b066"/><stop offset="0.346" stop-color="#a2d166"/><stop offset="0.385" stop-color="#ffff66"/><stop offset="0.423" stop-color="#ffff66"/><stop offset="0.462" stop-color="#ffff66"/><stop offset="0.5" stop-color="#ffff66"/><stop offset="0.538" stop-color="#ffff66"/><stop offset="0.577" stop-color="#ffff66"/><stop offset="0.615" stop-color="#ffff66"/><stop offset="0.654" stop-color="#a2d166"/><stop offset="0.692" stop-color="#62b066"/><stop offset="0.731" stop-color="#3c9d66"/><stop offset="0.769" stop-color="#269266"/><stop offset="0.808" stop-color="#198c66"/><stop offset="0.846" stop-color="#108866"/><stop offset="0.885" stop-color="#0b8566"/><stop offset="0.923" stop-color="#078366"/><stop offset="0.962" stop-color="#058266"/><stop offset="1" stop-color="#038166"/></linearGradient><linearGradient id="g34" x1="0" y1="0" x2="0" y2="1"><stop offset="0" stop-color="#048166"/><stop offset="0.038" stop-color="#058266"/><stop offset="0.077" stop-color="#078366"/><stop offset="0.115" stop-color="#0b8566"/><stop offset="0.154" stop-color="#108866"/><stop offset="0.192" stop-color="#198c66"/><stop offset="0.231" stop-color="#269366"/><stop offset="0.269" stop-color="#3c9e66"/><stop offset="0.308" stop-color="#62b166"/><stop offset="0.346" stop-color="#a3d166"/><stop offset="0.385" stop-color="#ffff66"/><stop offset="0.423" stop-color="#ffff66"/><stop offset="0.462" stop-color="#ffff66"/><stop offset="0.5" stop-color="#ffff66"/><stop offset="0.538" stop-color="#ffff66"/><stop offset="0.577" stop-color="#ffff66"/><stop offset="0.615" stop-color="#ffff66"/><stop offset="0.654" stop-color="#a3d166"/><stop offset="0.692" stop-color="#62b166"/><stop offset="0.731" stop-color="#3c9e66"/><stop offset="0.769" stop-color="#269366"/><stop offset="0.808" stop-color="#198c66"/><stop offset="0.846" stop-color="#108866"/><stop offset="0.885" stop-color="#0b8566"/><stop offset="0.923" stop-color="#078366"/><stop offset="0.962" stop-color="#058266"/><stop offset="1" stop-color="#048166"/></linearGradient><linearGradient id="g35" x1="0" y1="0" x2="0" y2="1"><stop offset="0" stop-color="#048166"/><stop offset="0.038" stop-color="#058266"/><stop offset="0.077" stop-color="#088366"/><stop offset="0.115" stop-color="#0b8566"/><stop offset="0.154" stop-color="#118866"/><stop offset="0.192" stop-color="#198c66"/><stop offset="0.231" stop-color="#269366"/><stop offset="0.269" stop-color="#3d9e66"/><stop offset="0.308" stop-color="#63b166"/><stop offset="0.346" stop-color="#a4d166"/><stop offset="0.385" stop-color="#ffff66"/><stop offset="0.423" stop-color="#ffff66"/><stop offset="0.462" stop-color="#ffff66"/><stop offset="0.5" stop-color="#ffff66"/><stop offset="0.538" stop-color="#ffff66"/><stop offset="0.577" stop-color="#ffff66"/><stop offset="0.615" stop-color="#ffff66"/><stop offset="0.654" stop-color="#a4d166"/><stop offset="0.692" stop-color="#63b166"/><stop offset="0.731" stop-color="#3d9e66"/><stop offset="0.769" stop-color="#269366"/><stop offset="0.808" stop-color="#198c66"/><stop offset="0.846" stop-color="#118866"/><stop offset="0.885" stop-color="#0b8566"/><stop offset="0.923" stop-color="#088366"/><stop offset="0.962" stop-color="#058266"/><stop offset="1" stop-color="#048166"/></linearGradient><linearGradient id="g36" x1="0" y1="0" x2="0" y2="1"><stop offset="0" stop-color="#048166"/><stop offset="0.038" stop-color="#058266"/><stop offset="0.077" stop-color="#088366"/><stop offset="0.115" stop-color="#0b8566"/><stop offset="0.154" stop-color="#118866"/><stop offset="0.192" stop-color="#198c66"/><stop offset="0.231" stop-color="#279366"/><stop offset="0.269" stop-color="#3d9e66"/><stop offset="0.308" stop-color="#63b166"/><stop offset="0.346" stop-color="#a4d266"/><stop offset="0.385" stop-color="#ffff66"/><stop offset="0.423" stop-color="#ffff66"/><stop offset="0.462" stop-color="#ffff66"/><stop offset="0.5" stop-color="#ffff66"/><stop offset="0.538" stop-color="#ffff66"/><stop offset="0.577" stop-color="#ffff66"/><stop offset="0.615" stop-color="#ffff66"/><stop offset="0.654" stop-color="#a4d266"/><stop offset="0.692" stop-color="#63b166"/><stop offset="0.731" stop-color="#3d9e66"/><stop offset="0.769" stop-color="#279366"/><stop offset="0.808" stop-color="#198c66"/><stop offset="0.846" stop-color="#118866"/><stop offset="0.885" stop-color="#0b8566"/><stop offset="0.923" stop-color="#088366"/><stop offset="0.962" stop-color="#058266"/><stop offset="1" stop-color="#048166"/></linearGradient><linearGradient id="g37" x1="0" y1="0" x2="0" y2="1"><stop offset="0" stop-color="#048166"/><stop offset="0.038" stop-color="#058266"/><stop offset="0.077" stop-color="#088366"/><stop offset="0.115" stop-color="#0b8566"/><stop offset="0.154" stop-color="#118866"/><stop offset="0.192" stop-color="#198c66"/><stop offset="0.231" stop-color="#279366"/><stop offset="0.269" stop-color="#3d9e66"/><stop offset="0.308" stop-color="#63b166"/><stop offset="0.346" stop-color="#a4d266"/><stop offset="0.385" stop-color="#ffff66"/><stop offset="0.423" stop-color="#ffff66"/><stop offset="0.462" stop-color="#ffff66"/><stop offset="0.5" stop-color="#ffff66"/><stop offset="0.538" stop-color="#ffff66"/><stop offset="0.577" stop-color="#ffff66"/><stop offset="0.615" stop-color="#ffff66"/><stop offset="0.654" stop-color="#a4d266"/><stop offset="0.692" stop-color="#63b166"/><stop offset="0.731" stop-color="#3d9e66"/><stop offset="0.769" stop-color="#279366"/><stop offset="0.808" stop-color="#198c66"/><stop offset="0.846" stop-color="#118866"/><stop offset="0.885" stop-color="#0b8566"/><stop offset="0.923" stop-color="#088366"/><stop offset="0.962" stop-color="#058266"/><stop offset="1" stop-color="#048166"/></linearGradient><linearGradient id="g38" x1="0" y1="0" x2="0" y2="1"><stop offset="0" stop-color="#048166"/><stop offset="0.038" stop-color="#058266"/><stop offset="0.077" stop-color="#088366"/><stop offset="0.115" stop-color="#0b8566"/><stop offset="0.154" stop-color="#118866"/><stop offset="0.192" stop-color="#198c66"/><stop offset="0.231" stop-color="#279366"/><stop offset="0.269" stop-color="#3d9e66"/><stop offset="0.308" stop-color="#63b166"/><stop offset="0.346" stop-color="#a4d166"/><stop offset="0.385" stop-color="#ffff66"/><stop offset="0.423" stop-color="#ffff66"/><stop offset="0.462" stop-color="#ffff66"/><stop offset="0.5" stop-color="#ffff66"/><stop offset="0.538" stop-color="#ffff66"/><stop offset="0.577" stop-color="#ffff66"/><stop offset="0.615" stop-color="#ffff66"/><stop offset="0.654" stop-color="#a4d166"/><stop offset="0.692" stop-color="#63b166"/><stop offset="0.731" stop-color="#3d9e66"/><stop offset="0.769" stop-color="#279366"/><stop offset="0.808" stop-color="#198c66"/><stop offset="0.846" stop-color="#118866"/><stop offset="0.885" stop-color="#0b8566"/><stop offset="0.923" stop-color="#088366"/><stop offset="0.962" stop-color="#058266"/><stop offset="1" stop-color="#048166"/></linearGradient><linearGradient id="g39" x1="0" y1="0" x2="0" y2="1"><stop offset="0" stop-color="#048166"/><stop offset="0.038" stop-color="#058266"/><stop offset="0.077" stop-color="#088366"/><stop offset="0.115" stop-color="#0b8566"/><stop offset="0.154" stop-color="#108866"/><stop offset="0.192" stop-color="#198c66"/><stop offset="0.231" stop-color="#269366"/><stop offset="0.269" stop-color="#3c9e66"/><stop offset="0.308" stop-color="#62b066"/><stop offset="0.346" stop-color="#a2d166"/><stop offset="0.385" stop-color="#ffff66"/><stop offset="0.423" stop-color="#ffff66"/><stop offset="0.462" stop-color="#ffff66"/><stop offset="0.5" stop-color="#ffff66"/><stop offset="0.538" stop-color="#ffff66"/><stop offset="0.577" stop-color="#ffff66"/><stop offset="0.615" stop-color="#ffff66"/><stop offset="0.654" stop-color="#a2d166"/><stop offset="0.692" stop-color="#62b066"/><stop offset="0.731" stop-color="#3c9e66"/><stop offset="0.769" stop-color="#269366"/><stop offset="0.808" stop-color="#198c66"/><stop offset="0.846" stop-color="#108866"/><stop offset="0.885" stop-color="#0b8566"/><stop offset="0.923" stop-color="#088366"/><stop offset="0.962" stop-color="#058266"/><stop offset="1" stop-color="#048166"/></linearGradient><linearGradient id="g40" x1="0" y1="0" x2="0" y2="1"><stop offset="0" stop-color="#048166"/><stop offset="0.038" stop-color="#058266"/><stop offset="0.077" stop-color="#078366"/><stop offset="0.115" stop-color="#0b8566"/><stop offset="0.154" stop-color="#108866"/><stop offset="0.192" stop-color="#198c66"/><stop offset="0.231" stop-color="#269266"/><stop offset="0.269" stop-color="#3c9d66"/><stop offset="0.308" stop-color="#61b066"/><stop offset="0.346" stop-color="#a0d066"/><stop offset="0.385" stop-color="#ffff66"/><stop offset="0.423" stop-color="#ffff66"/><stop offset="0.462" stop-color="#ffff66"/><stop offset="0.5" stop-color="#ffff66"/><stop offset="0.538" stop-color="#ffff66"/><stop offset="0.577" stop-color="#ffff66"/><stop offset="0.615" stop-color="#ffff66"/><stop offset="0.654" stop-color="#a0d066"/><stop offset="0.692" stop-color="#61b066"/><stop offset="0.731" stop-color="#3c9d66"/><stop offset="0.769" stop-color="#269266"/><stop offset="0.808" stop-color="#198c66"/><stop offset="0.846" stop-color="#108866"/><stop offset="0.885" stop-color="#0b8566"/><stop offset="0.923" stop-color="#078366"/><stop offset="0.962" stop-color="#058266"/><stop offset="1" stop-color="#048166"/></linearGradient><linearGradient id="g41" x1="0" y1="0" x2="0" y2="1"><stop offset="0" stop-color="#038166"/><stop offset="0.038" stop-color="#058266"/><stop offset="0.077" stop-color="#078366"/><stop offset="0.115" stop-color="#0b8566"/><stop offset="0.154" stop-color="#108866"/><stop offset="0.192" stop-color="#188c66"/><stop offset="0.231" stop-color="#259266"/><stop offset="0.269" stop-color="#3b9d66"/><stop offset="0.308" stop-color="#60af66"/><stop offset="0.346" stop-color="#9ecf66"/><stop offset="0.385" stop-color="#ffff66"/><stop offset="0.423" stop-color="#ffff66"/><stop offset="0.462" stop-color="#ffff66"/><stop offset="0.5" stop-color="#ffff66"/><stop offset="0.538" stop-color="#ffff66"/><stop offset="0.577" stop-color="#ffff66"/><stop offset="0.615" stop-color="#ffff66"/><stop offset="0.654" stop-color="#9ecf66"/><stop offset="0.692" stop-color="#60af66"/><stop offset="0.731" stop-color="#3b9d66"/><stop offset="0.769" stop-color="#259266"/><stop offset="0.808" stop-color="#188c66"/><stop offset="0.846" stop-color="#108866"/><stop offset="0.885" stop-color="#0b8566"/><stop offset="0.923" stop-color="#078366"/><stop offset="0.962" stop-color="#058266"/><stop offset="1" stop-color="#038166"/></linearGradient><linearGradient id="g42" x1="0" y1="0" x2="0" y2="1"><stop offset="0" stop-color="#038166"/><stop offset="0.038" stop-color="#058266"/><stop offset="0.077" stop-color="#078366"/><stop offset="0.115" stop-color="#0b8566"/><stop offset="0.154" stop-color="#108766"/><stop offset="0.192" stop-color="#188b66"/><stop offset="0.231" stop-color="#249266"/><stop offset="0.269" stop-color="#399c66"/><stop offset="0.308" stop-color="#5dae66"/><stop offset="0.346" stop-color="#9acc66"/><stop offset="0.385" stop-color="#feff66"/><stop offset="0.423" stop-color="#ffff66"/><stop offset="0.462" stop-color="#ffff66"/><stop offset="0.5" stop-color="#ffff66"/><stop offset="0.538" stop-color="#ffff66"/><stop offset="0.577" stop-color="#ffff66"/><stop offset="0.615" stop-color="#feff66"/><stop offset="0.654" stop-color="#9acc66"/><stop offset="0.692" stop-color="#5dae66"/><stop offset="0.731" stop-color="#399c66"/><stop offset="0.769" stop-color="#249266"/><stop offset="0.808" stop-color="#188b66"/><stop offset="0.846" stop-color="#108766"/><stop offset="0.885" stop-color="#0b8566"/><stop offset="0.923" stop-color="#078366"/><stop offset="0.962" stop-color="#058266"/><stop offset="1" stop-color="#038166"/></linearGradient><linearGradient id="g43" x1="0" y1="0" x2="0" y2="1"><stop offset="0" stop-color="#038166"/><stop offset="0.038" stop-color="#058266"/><stop offset="0.077" stop-color="#078366"/><stop offset="0.115" stop-color="#0a8566"/><stop offset="0.154" stop-color="#0f8766"/><stop offset="0.192" stop-color="#178b66"/><stop offset="0.231" stop-color="#239166"/><stop offset="0.269" stop-color="#379b66"/><stop offset="0.308" stop-color="#59ac66"/><stop offset="0.346" stop-color="#93c966"/><stop offset="0.385" stop-color="#f2f966"/><stop offset="0.423" stop-color="#ffff66"/><stop offset="0.462" stop-color="#ffff66"/><stop offset="0.5" stop-color="#ffff66"/><stop offset="0.538" stop-color="#ffff66"/><stop offset="0.577" stop-color="#ffff66"/><stop offset="0.615" stop-color="#f2f966"/><stop offset="0.654" stop-color="#93c966"/><stop offset="0.692" stop-color="#59ac66"/><stop offset="0.731" stop-color="#379b66"/><stop offset="0.769" stop-color="#239166"/><stop offset="0.808" stop-color="#178b66"/><stop offset="0.846" stop-color="#0f8766"/><stop offset="0.885" stop-color="#0a8566"/><stop offset="0.923" stop-color="#078366"/><stop offset="0.962" stop-color="#058266"/><stop offset="1" stop-color="#038166"/></linearGradient><linearGradient id="g44" x1="0" y1="0" x2="0" y2="1"><stop offset="0" stop-color="#038166"/><stop offset="0.038" stop-color="#048266"/><stop offset="0.077" stop-color="#078366"/><stop offset="0.115" stop-color="#0a8466"/><stop offset="0.154" stop-color="#0e8766"/><stop offset="0.192" stop-color="#158a66"/><stop offset="0.231" stop-color="#219066"/><stop offset="0.269" stop-color="#349966"/><stop offset="0.308" stop-color="#53a966"/><stop offset="0.346" stop-color="#8ac466"/><stop offset="0.385" stop-color="#e3f166"/><stop offset="0.423" stop-color="#ffff66"/><stop offset="0.462" stop-color="#ffff66"/><stop offset="0.5" stop-color="#ffff66"/><stop offset="0.538" stop-color="#ffff66"/><stop offset="0.577" stop-color="#ffff66"/><stop offset="0.615" stop-color="#e3f166"/><stop offset="0.654" stop-color="#8ac466"/><stop offset="0.692" stop-color="#53a966"/><stop offset="0.731" stop-color="#349966"/><stop offset="0.769" stop-color="#219066"/><stop offset="0.808" stop-color="#158a66"/><stop offset="0.846" stop-color="#0e8766"/><stop offset="0.885" stop-color="#0a8466"/><stop offset="0.923" stop-color="#078366"/><stop offset="0.962" stop-color="#048266"/><stop offset="1" stop-color="#038166"/></linearGradient><linearGradient id="g45" x1="0" y1="0" x2="0" y2="1"><stop offset="0" stop-color="#038166"/><stop offset="0.038" stop-color="#048266"/><stop offset="0.077" stop-color="#068366"/><stop offset="0.115" stop-color="#098466"/><stop offset="0.154" stop-color="#0d8666"/><stop offset="0.192" stop-color="#148966"/><stop offset="0.231" stop-color="#1e8f66"/><stop offset="0.269" stop-color="#309766"/><stop offset="0.308" stop-color="#4da666"/><stop offset="0.346" stop-color="#80bf66"/><stop offset="0.385" stop-color="#d2e966"/><stop offset="0.423" stop-color="#ffff66"/><stop offset="0.462" stop-color="#ffff66"/><stop offset="0.5" stop-color="#ffff66"/><stop offset="0.538" stop-color="#ffff66"/><stop offset="0.577" stop-color="#ffff66"/><stop offset="0.615" stop-color="#d2e966"/><stop offset="0.654" stop-color="#80bf66"/><stop offset="0.692" stop-color="#4da666"/><stop offset="0.731" stop-color="#309766"/><stop offset="0.769" stop-color="#1e8f66"/><stop offset="0.808" stop-color="#148966"/><stop offset="0.846" stop-color="#0d8666"/><stop offset="0.885" stop-color="#098466"/><stop offset="0.923" stop-color="#068366"/><stop offset="0.962" stop-color="#048266"/><stop offset="1" stop-color="#038166"/></linearGradient><linearGradient id="g46" x1="0" y1="0" x2="0" y2="1"><stop offset="0" stop-color="#038166"/><stop offset="0.038" stop-color="#048166"/><stop offset="0.077" stop-color="#068266"/><stop offset="0.115" stop-color="#088466"/><stop offset="0.154" stop-color="#0c8566"/><stop offset="0.192" stop-color="#128866"/><stop offset="0.231" stop-color="#1b8d66"/><stop offset="0.269" stop-color="#2b9566"/><stop offset="0.308" stop-color="#46a266"/><stop offset="0.346" stop-color="#73b966"/><stop offset="0.385" stop-color="#bcde66"/><stop offset="0.423" stop-color="#ffff66"/><stop offset="0.462" stop-color="#ffff66"/><stop offset="0.5" stop-color="#ffff66"/><stop offset="0.538" stop-color="#ffff66"/><stop offset="0.577" stop-color="#ffff66"/><stop offset="0.615" stop-color="#bcde66"/><stop offset="0.654" stop-color="#73b966"/><stop offset="0.692" stop-color="#46a266"/><stop offset="0.731" stop-color="#2b9566"/><stop offset="0.769" stop-color="#1b8d66"/><stop offset="0.808" stop-color="#128866"/><stop offset="0.846" stop-color="#0c8566"/><stop offset="0.885" stop-color="#088466"/><stop offset="0.923" stop-color="#068266"/><stop offset="0.962" stop-color="#048166"/><stop offset="1" stop-color="#038166"/></linearGradient><linearGradient id="g47" x1="0" y1="0" x2="0" y2="1"><stop offset="0" stop-color="#028166"/><stop offset="0.038" stop-color="#038166"/><stop offset="0.077" stop-color="#058266"/><stop offset="0.115" stop-color="#078366"/><stop offset="0.154" stop-color="#0b8566"/><stop offset="0.192" stop-color="#108766"/><stop offset="0.231" stop-color="#188c66"/><stop offset="0.269" stop-color="#269266"/><stop offset="0.308" stop-color="#3d9e66"/><stop offset="0.346" stop-color="#64b166"/><stop offset="0.385" stop-color="#a3d166"/><stop offset="0.423" stop-color="#fdfe66"/><stop offset="0.462" stop-color="#ffff66"/><stop offset="0.5" stop-color="#ffff66"/><stop offset="0.538" stop-color="#ffff66"/><stop offset="0.577" stop-color="#fdfe66"/><stop offset="0.615" stop-color="#a3d166"/><stop offset="0.654" stop-color="#64b166"/><stop offset="0.692" stop-color="#3d9e66"/><stop offset="0.731" stop-color="#269266"/><stop offset="0.769" stop-color="#188c66"/><stop offset="0.808" stop-color="#108766"/><stop offset="0.846" stop-color="#0b8566"/><stop offset="0.885" stop-color="#078366"/><stop offset="0.923" stop-color="#058266"/><stop offset="0.962" stop-color="#038166"/><stop offset="1" stop-color="#028166"/></linearGradient><linearGradient id="g48" x1="0" y1="0" x2="0" y2="1"><stop offset="0" stop-color="#028166"/><stop offset="0.038" stop-color="#038166"/><stop offset="0.077" stop-color="#058266"/><stop offset="0.115" stop-color="#078366"/><stop offset="0.154" stop-color="#0a8466"/><stop offset="0.192" stop-color="#0e8766"/><stop offset="0.231" stop-color="#168a66"/><stop offset="0.269" stop-color="#229166"/><stop offset="0.308" stop-color="#379b66"/><stop offset="0.346" stop-color="#59ac66"/><stop offset="0.385" stop-color="#8fc766"/><stop offset="0.423" stop-color="#dbed66"/><stop offset="0.462" stop-color="#ffff66"/><stop offset="0.5" stop-color="#ffff66"/><stop offset="0.538" stop-color="#ffff66"/><stop offset="0.577" stop-color="#dbed66"/><stop offset="0.615" stop-color="#8fc766"/><stop offset="0.654" stop-color="#59ac66"/><stop offset="0.692" stop-color="#379b66"/><stop offset="0.731" stop-color="#229166"/><stop offset="0.769" stop-color="#168a66"/><stop offset="0.808" stop-color="#0e8766"/><stop offset="0.846" stop-color="#0a8466"/><stop offset="0.885" stop-color="#078366"/><stop offset="0.923" stop-color="#058266"/><stop offset="0.962" stop-color="#038166"/><stop offset="1" stop-color="#028166"/></linearGradient><linearGradient id="g49" x1="0" y1="0" x2="0" y2="1"><stop offset="0" stop-color="#028166"/><stop offset="0.038" stop-color="#038166"/><stop offset="0.077" stop-color="#048266"/><stop offset="0.115" stop-color="#068366"/><stop offset="0.154" stop-color="#098466"/><stop offset="0.192" stop-color="#0e8666"/><stop offset="0.231" stop-color="#158a66"/><stop offset="0.269" stop-color="#219066"/><stop offset="0.308" stop-color="#339966"/><stop offset="0.346" stop-color="#53a966"/><stop offset="0.385" stop-color="#83c166"/><stop offset="0.423" stop-color="#c5e266"/><stop offset="0.462" stop-color="#ffff66"/><stop offset="0.5" stop-color="#ffff66"/><stop offset="0.538" stop-color="#ffff66"/><stop offset="0.577" stop-color="#c5e266"/><stop offset="0.615" stop-color="#83c166"/><stop offset="0.654" stop-color="#53a966"/><stop offset="0.692" stop-color="#339966"/><stop offset="0.731" stop-color="#219066"/><stop offset="0.769" stop-color="#158a66"/><stop offset="0.808" stop-color="#0e8666"/><stop offset="0.846" stop-color="#098466"/><stop offset="0.885" stop-color="#068366"/><stop offset="0.923" stop-color="#048266"/><stop offset="0.962" stop-color="#038166"/><stop offset="1" stop-color="#028166"/></linearGradient><linearGradient id="g50" x1="0" y1="0" x2="0" y2="1"><stop offset="0" stop-color="#028166"/><stop offset="0.038" stop-color="#038166"/><stop offset="0.077" stop-color="#058266"/><stop offset="0.115" stop-color="#068366"/><stop offset="0.154" stop-color="#098466"/><stop offset="0.192" stop-color="#0e8666"/><stop offset="0.231" stop-color="#148a66"/><stop offset="0.269" stop-color="#1f8f66"/><stop offset="0.308" stop-color="#319866"/><stop offset="0.346" stop-color="#4ea666"/><stop offset="0.385" stop-color="#79bc66"/><stop offset="0.423" stop-color="#b3d966"/><stop offset="0.462" stop-color="#ebf566"/><stop offset="0.5" stop-color="#ffff66"/><stop offset="0.538" stop-color="#ebf566"/><stop offset="0.577" stop-color="#b3d966"/><stop offset="0.615" stop-color="#79bc66"/><stop offset="0.654" stop-color="#4ea666"/><stop offset="0.692" stop-color="#319866"/><stop offset="0.731" stop-color="#1f8f66"/><stop offset="0.769" stop-color="#148a66"/><stop offset="0.808" stop-color="#0e8666"/><stop offset="0.846" stop-color="#098466"/><stop offset="0.885" stop-color="#068366"/><stop offset="0.923" stop-color="#058266"/><stop offset="0.962" stop-color="#038166"/><stop offset="1" stop-color="#028166"/></linearGradient><linearGradient id="g51" x1="0" y1="0" x2="0" y2="1"><stop offset="0" stop-color="#028166"/><stop offset="0.038" stop-color="#038166"/><stop offset="0.077" stop-color="#058266"/><stop offset="0.115" stop-color="#068366"/><stop offset="0.154" stop-color="#098466"/><stop offset="0.192" stop-color="#0e8666"/><stop offset="0.231" stop-color="#148a66"/><stop offset="0.269" stop-color="#1f8f66"/><stop offset="0.308" stop-color="#2f9766"/><stop offset="0.346" stop-color="#4aa466"/><stop offset="0.385" stop-color="#71b866"/><stop offset="0.423" stop-color="#a4d266"/><stop offset="0.462" stop-color="#d4ea66"/><stop offset="0.5" stop-color="#e9f466"/><stop offset="0.538" stop-color="#d4ea66"/><stop offset="0.577" stop-color="#a4d266"/><stop offset="0.615" stop-color="#71b866"/><stop offset="0.654" stop-color="#4aa466"/><stop offset="0.692" stop-color="#2f9766"/><stop offset="0.731" stop-color="#1f8f66"/><stop offset="0.769" stop-color="#148a66"/><stop offset="0.808" stop-color="#0e8666"/><stop offset="0.846" stop-color="#098466"/><stop offset="0.885" stop-color="#068366"/><stop offset="0.923" stop-color="#058266"/><stop offset="0.962" stop-color="#038166"/><stop offset="1" stop-color="#028166"/></linearGradient><linearGradient id="g52" x1="0" y1="0" x2="0" y2="1"><stop offset="0" stop-color="#028166"/><stop offset="0.038" stop-color="#038166"/><stop offset="0.077" stop-color="#058266"/><stop offset="0.115" stop-color="#078366"/><stop offset="0.154" stop-color="#098466"/><stop offset="0.192" stop-color="#0e8666"/><stop offset="0.231" stop-color="#148a66"/><stop offset="0.269" stop-color="#1e8f66"/><stop offset="0.308" stop-color="#2e9766"/><stop offset="0.346" stop-color="#47a366"/><stop offset="0.385" stop-color="#6bb566"/><stop offset="0.423" stop-color="#98cc66"/><stop offset="0.462" stop-color="#c2e166"/><stop offset="0.5" stop-color="#d4ea66"/><stop offset="0.538" stop-color="#c2e166"/><stop offset="0.577" stop-color="#98cc66"/><stop offset="0.615" stop-color="#6bb566"/><stop offset="0.654" stop-color="#47a366"/><stop offset="0.692" stop-color="#2e9766"/><stop offset="0.731" stop-color="#1e8f66"/><stop offset="0.769" stop-color="#148a66"/><stop offset="0.808" stop-color="#0e8666"/><stop offset="0.846" stop-color="#098466"/><stop offset="0.885" stop-color="#078366"/><stop offset="0.923" stop-color="#058266"/><stop offset="0.962" stop-color="#038166"/><stop offset="1" stop-color="#028166"/></linearGradient><linearGradient id="g53" x1="0" y1="0" x2="0" y2="1"><stop offset="0" stop-color="#038166"/><stop offset="0.038" stop-color="#038166"/><stop offset="0.077" stop-color="#058266"/><stop offset="0.115" stop-color="#078366"/><stop offset="0.154" stop-color="#0a8466"/><stop offset="0.192" stop-color="#0e8666"/><stop offset="0.231" stop-color="#148a66"/><stop offset="0.269" stop-color="#1e8f66"/><stop offset="0.308" stop-color="#2d9666"/><stop offset="0.346" stop-color="#45a266"/><stop offset="0.385" stop-color="#66b366"/><stop offset="0.423" stop-color="#8fc766"/><stop offset="0.462" stop-color="#b4da66"/><stop offset="0.5" stop-color="#c4e266"/><stop offset="0.538" stop-color="#b4da66"/><stop offset="0.577" stop-color="#8fc766"/><stop offset="0.615" stop-color="#66b366"/><stop offset="0.654" stop-color="#45a266"/><stop offset="0.692" stop-color="#2d9666"/><stop offset="0.731" stop-color="#1e8f66"/><stop offset="0.769" stop-color="#148a66"/><stop offset="0.808" stop-color="#0e8666"/><stop offset="0.846" stop-color="#0a8466"/><stop offset="0.885" stop-color="#078366"/><stop offset="0.923" stop-color="#058266"/><stop offset="0.962" stop-color="#038166"/><stop offset="1" stop-color="#038166"/></linearGradient><linearGradient id="g54" x1="0" y1="0" x2="0" y2="1"><stop offset="0" stop-color="#038166"/><stop offset="0.038" stop-color="#048166"/><stop offset="0.077" stop-color="#058266"/><stop offset="0.115" stop-color="#078366"/><stop offset="0.154" stop-color="#0a8466"/><stop offset="0.192" stop-color="#0e8666"/><stop offset="0.231" stop-color="#148a66"/><stop offset="0.269" stop-color="#1e8e66"/><stop offset="0.308" stop-color="#2d9666"/><stop offset="0.346" stop-color="#43a166"/><stop offset="0.385" stop-color="#62b166"/><stop offset="0.423" stop-color="#88c366"/><stop offset="0.462" stop-color="#a9d466"/><stop offset="0.5" stop-color="#b7db66"/><stop offset="0.538" stop-color="#a9d466"/><stop offset="0.577" stop-color="#88c366"/><stop offset="0.615" stop-color="#62b166"/><stop offset="0.654" stop-color="#43a166"/><stop offset="0.692" stop-color="#2d9666"/><stop offset="0.731" stop-color="#1e8e66"/><stop offset="0.769" stop-color="#148a66"/><stop offset="0.808" stop-color="#0e8666"/><stop offset="0.846" stop-color="#0a8466"/><stop offset="0.885" stop-color="#078366"/><stop offset="0.923" stop-color="#058266"/><stop offset="0.962" stop-color="#048166"/><stop offset="1" stop-color="#038166"/></linearGradient><linearGradient id="g55" x1="0" y1="0" x2="0" y2="1"><stop offset="0" stop-color="#038166"/><stop offset="0.038" stop-color="#048166"/><stop offset="0.077" stop-color="#058266"/><stop offset="0.115" stop-color="#078366"/><stop offset="0.154" stop-color="#0a8466"/><stop offset="0.192" stop-color="#0e8766"/><stop offset="0.231" stop-color="#148a66"/><stop offset="0.269" stop-color="#1e8e66"/><stop offset="0.308" stop-color="#2c9666"/><stop offset="0.346" stop-color="#42a066"/><stop offset="0.385" stop-color="#5faf66"/><stop offset="0.423" stop-color="#81c066"/><stop offset="0.462" stop-color="#9fcf66"/><stop offset="0.5" stop-color="#abd566"/><stop offset="0.538" stop-color="#9fcf66"/><stop offset="0.577" stop-color="#81c066"/><stop offset="0.615" stop-color="#5faf66"/><stop offset="0.654" stop-color="#42a066"/><stop offset="0.692" stop-color="#2c9666"/><stop offset="0.731" stop-color="#1e8e66"/><stop offset="0.769" stop-color="#148a66"/><stop offset="0.808" stop-color="#0e8766"/><stop offset="0.846" stop-color="#0a8466"/><stop offset="0.885" stop-color="#078366"/><stop offset="0.923" stop-color="#058266"/><stop offset="0.962" stop-color="#048166"/><stop offset="1" stop-color="#038166"/></linearGradient><linearGradient id="g56" x1="0" y1="0" x2="0" y2="1"><stop offset="0" stop-color="#038166"/><stop offset="0.038" stop-color="#048166"/><stop offset="0.077" stop-color="#058266"/><stop offset="0.115" stop-color="#078366"/><stop offset="0.154" stop-color="#0a8566"/><stop offset="0.192" stop-color="#0e8766"/><stop offset="0.231" stop-color="#158a66"/><stop offset="0.269" stop-color="#1e8e66"/><stop offset="0.308" stop-color="#2c9666"/><stop offset="0.346" stop-color="#40a066"/><stop offset="0.385" stop-color="#5cad66"/><stop offset="0.423" stop-color="#7bbd66"/><stop offset="0.462" stop-color="#96ca66"/><stop offset="0.5" stop-color="#a1d066"/><stop offset="0.538" stop-color="#96ca66"/><stop offset="0.577" stop-color="#7bbd66"/><stop offset="0.615" stop-color="#5cad66"/><stop offset="0.654" stop-color="#40a066"/><stop offset="0.692" stop-color="#2c9666"/><stop offset="0.731" stop-color="#1e8e66"/><stop offset="0.769" stop-color="#158a66"/><stop offset="0.808" stop-color="#0e8766"/><stop offset="0.846" stop-color="#0a8566"/><stop offset="0.885" stop-color="#078366"/><stop offset="0.923" stop-color="#058266"/><stop offset="0.962" stop-color="#048166"/><stop offset="1" stop-color="#038166"/></linearGradient><linearGradient id="g57" x1="0" y1="0" x2="0" y2="1"><stop offset="0" stop-color="#038166"/><stop offset="0.038" stop-color="#048266"/><stop offset="0.077" stop-color="#068266"/><stop offset="0.115" stop-color="#088366"/><stop offset="0.154" stop-color="#0a8566"/><stop offset="0.192" stop-color="#0f8766"/><stop offset="0.231" stop-color="#158a66"/><stop offset="0.269" stop-color="#1e8f66"/><stop offset="0.308" stop-color="#2c9566"/><stop offset="0.346" stop-color="#3f9f66"/><stop offset="0.385" stop-color="#58ac66"/><stop offset="0.423" stop-color="#75ba66"/><stop offset="0.462" stop-color="#8dc666"/><stop offset="0.5" stop-color="#97cb66"/><stop offset="0.538" stop-color="#8dc666"/><stop offset="0.577" stop-color="#75ba66"/><stop offset="0.615" stop-color="#58ac66"/><stop offset="0.654" stop-color="#3f9f66"/><stop offset="0.692" stop-color="#2c9566"/><stop offset="0.731" stop-color="#1e8f66"/><stop offset="0.769" stop-color="#158a66"/><stop offset="0.808" stop-color="#0f8766"/><stop offset="0.846" stop-color="#0a8566"/><stop offset="0.885" stop-color="#088366"/><stop offset="0.923" stop-color="#068266"/><stop offset="0.962" stop-color="#048266"/><stop offset="1" stop-color="#038166"/></linearGradient><linearGradient id="g58" x1="0" y1="0" x2="0" y2="1"><stop offset="0" stop-color="#038166"/><stop offset="0.038" stop-color="#048266"/><stop offset="0.077" stop-color="#068266"/><stop offset="0.115" stop-color="#088366"/><stop offset="0.154" stop-color="#0b8566"/><stop offset="0.192" stop-color="#0f8766"/><stop offset="0.231" stop-color="#158a66"/><stop offset="0.269" stop-color="#1e8e66"/><stop offset="0.308" stop-color="#2b9566"/><stop offset="0.346" stop-color="#3d9e66"/><stop offset="0.385" stop-color="#55aa66"/><stop offset="0.423" stop-color="#6fb766"/><stop offset="0.462" stop-color="#85c266"/><stop offset="0.5" stop-color="#8dc666"/><stop offset="0.538" stop-color="#85c266"/><stop offset="0.577" stop-color="#6fb766"/><stop offset="0.615" stop-color="#55aa66"/><stop offset="0.654" stop-color="#3d9e66"/><stop offset="0.692" stop-color="#2b9566"/><stop offset="0.731" stop-color="#1e8e66"/><stop offset="0.769" stop-color="#158a66"/><stop offset="0.808" stop-color="#0f8766"/><stop offset="0.846" stop-color="#0b8566"/><stop offset="0.885" stop-color="#088366"/><stop offset="0.923" stop-color="#068266"/><stop offset="0.962" stop-color="#048266"/><stop offset="1" stop-color="#038166"/></linearGradient><linearGradient id="g59" x1="0" y1="0" x2="0" y2="1"><stop offset="0" stop-color="#038166"/><stop offset="0.038" stop-color="#048266"/><stop offset="0.077" stop-color="#068266"/><stop offset="0.115" stop-color="#088366"/><stop offset="0.154" stop-color="#0b8566"/><stop offset="0.192" stop-color="#0f8766"/><stop offset="0.231" stop-color="#158a66"/><stop offset="0.269" stop-color="#1d8e66"/><stop offset="0.308" stop-color="#2a9466"/><stop offset="0.346" stop-color="#3b9d66"/><stop offset="0.385" stop-color="#51a866"/><stop offset="0.423" stop-color="#69b466"/><stop offset="0.462" stop-color="#7cbe66"/><stop offset="0.5" stop-color="#84c166"/><stop offset="0.538" stop-color="#7cbe66"/><stop offset="0.577" stop-color="#69b466"/><stop offset="0.615" stop-color="#51a866"/><stop offset="0.654" stop-color="#3b9d66"/><stop offset="0.692" stop-color="#2a9466"/><stop offset="0.731" stop-color="#1d8e66"/><stop offset="0.769" stop-color="#158a66"/><stop offset="0.808" stop-color="#0f8766"/><stop offset="0.846" stop-color="#0b8566"/><stop offset="0.885" stop-color="#088366"/><stop offset="0.923" stop-color="#068266"/><stop offset="0.962" stop-color="#048266"/><stop offset="1" stop-color="#038166"/></linearGradient><linearGradient id="g60" x1="0" y1="0" x2="0" y2="1"><stop offset="0" stop-color="#038166"/><stop offset="0.038" stop-color="#048266"/><stop offset="0.077" stop-color="#068266"/><stop offset="0.115" stop-color="#088366"/><stop offset="0.154" stop-color="#0a8566"/><stop offset="0.192" stop-color="#0e8766"/><stop offset="0.231" stop-color="#148966"/><stop offset="0.269" stop-color="#1c8e66"/><stop offset="0.308" stop-color="#289366"/><stop offset="0.346" stop-color="#389b66"/><stop offset="0.385" stop-color="#4ca566"/><stop offset="0.423" stop-color="#61b066"/><stop offset="0.462" stop-color="#72b966"/><stop offset="0.5" stop-color="#79bc66"/><stop offset="0.538" stop-color="#72b966"/><stop offset="0.577" stop-color="#61b066"/><stop offset="0.615" stop-color="#4ca566"/><stop offset="0.654" stop-color="#389b66"/><stop offset="0.692" stop-color="#289366"/><stop offset="0.731" stop-color="#1c8e66"/><stop offset="0.769" stop-color="#148966"/><stop offset="0.808" stop-color="#0e8766"/><stop offset="0.846" stop-color="#0a8566"/><stop offset="0.885" stop-color="#088366"/><stop offset="0.923" stop-color="#068266"/><stop offset="0.962" stop-color="#048266"/><stop offset="1" stop-color="#038166"/></linearGradient><linearGradient id="g61" x1="0" y1="0" x2="0" y2="1"><stop offset="0" stop-color="#038166"/><stop offset="0.038" stop-color="#048266"/><stop offset="0.077" stop-color="#058266"/><stop offset="0.115" stop-color="#078366"/><stop offset="0.154" stop-color="#0a8466"/><stop offset="0.192" stop-color="#0d8666"/><stop offset="0.231" stop-color="#138966"/><stop offset="0.269" stop-color="#1a8d66"/><stop offset="0.308" stop-color="#259266"/><stop offset="0.346" stop-color="#339966"/><stop offset="0.385" stop-color="#45a266"/><stop offset="0.423" stop-color="#58ab66"/><stop offset="0.462" stop-color="#66b366"/><stop offset="0.5" stop-color="#6cb666"/><stop offset="0.538" stop-color="#66b366"/><stop offset="0.577" stop-color="#58ab66"/><stop offset="0.615" stop-color="#45a266"/><stop offset="0.654" stop-color="#339966"/><stop offset="0.692" stop-color="#259266"/><stop offset="0.731" stop-color="#1a8d66"/><stop offset="0.769" stop-color="#138966"/><stop offset="0.808" stop-color="#0d8666"/><stop offset="0.846" stop-color="#0a8466"/><stop offset="0.885" stop-color="#078366"/><stop offset="0.923" stop-color="#058266"/><stop offset="0.962" stop-color="#048266"/><stop offset="1" stop-color="#038166"/></linearGradient><linearGradient id="g62" x1="0" y1="0" x2="0" y2="1"><stop offset="0" stop-color="#038166"/><stop offset="0.038" stop-color="#048166"/><stop offset="0.077" stop-color="#058266"/><stop offset="0.115" stop-color="#078366"/><stop offset="0.154" stop-color="#098466"/><stop offset="0.192" stop-color="#0c8666"/><stop offset="0.231" stop-color="#118866"/><stop offset="0.269" stop-color="#188c66"/><stop offset="0.308" stop-color="#219066"/><stop offset="0.346" stop-color="#2e9666"/><stop offset="0.385" stop-color="#3d9e66"/><stop offset="0.423" stop-color="#4da666"/><stop offset="0.462" stop-color="#5aac66"/><stop offset="0.5" stop-color="#5faf66"/><stop offset="0.538" stop-color="#5aac66"/><stop offset="0.577" stop-color="#4da666"/><stop offset="0.615" stop-color="#3d9e66"/><stop offset="0.654" stop-color="#2e9666"/><stop offset="0.692" stop-color="#219066"/><stop offset="0.731" stop-color="#188c66"/><stop offset="0.769" stop-color="#118866"/><stop offset="0.808" stop-color="#0c8666"/><stop offset="0.846" stop-color="#098466"/><stop offset="0.885" stop-color="#078366"/><stop offset="0.923" stop-color="#058266"/><stop offset="0.962" stop-color="#048166"/><stop offset="1" stop-color="#038166"/></linearGradient><linearGradient id="g63" x1="0" y1="0" x2="0" y2="1"><stop offset="0" stop-color="#038166"/><stop offset="0.038" stop-color="#038166"/><stop offset="0.077" stop-color="#048266"/><stop offset="0.115" stop-color="#068266"/><stop offset="0.154" stop-color="#088466"/><stop offset="0.192" stop-color="#0b8566"/><stop offset="0.231" stop-color="#0f8766"/><stop offset="0.269" stop-color="#158a66"/><stop offset="0.308" stop-color="#1d8e66"/><stop offset="0.346" stop-color="#289366"/><stop offset="0.385" stop-color="#359a66"/><stop offset="0.423" stop-color="#42a066"/><stop offset="0.462" stop-color="#4ca666"/><stop offset="0.5" stop-color="#50a866"/><stop offset="0.538" stop-color="#4ca666"/><stop offset="0.577" stop-color="#42a066"/><stop offset="0.615" stop-color="#359a66"/><stop offset="0.654" stop-color="#289366"/><stop offset="0.692" stop-color="#1d8e66"/><stop offset="0.731" stop-color="#158a66"/><stop offset="0.769" stop-color="#0f8766"/><stop offset="0.808" stop-color="#0b8566"/><stop offset="0.846" stop-color="#088466"/><stop offset="0.885" stop-color="#068266"/><stop offset="0.923" stop-color="#048266"/><stop offset="0.962" stop-color="#038166"/><stop offset="1" stop-color="#038166"/></linearGradient><linearGradient id="g64" x1="0" y1="0" x2="0" y2="1"><stop offset="0" stop-color="#028166"/><stop offset="0.038" stop-color="#038166"/><stop offset="0.077" stop-color="#048166"/><stop offset="0.115" stop-color="#058266"/><stop offset="0.154" stop-color="#078366"/><stop offset="0.192" stop-color="#098466"/><stop offset="0.231" stop-color="#0d8666"/><stop offset="0.269" stop-color="#128866"/><stop offset="0.308" stop-color="#188c66"/><stop offset="0.346" stop-color="#219066"/><stop offset="0.385" stop-color="#2c9566"/><stop offset="0.423" stop-color="#369b66"/><stop offset="0.462" stop-color="#3f9f66"/><stop offset="0.5" stop-color="#42a166"/><stop offset="0.538" stop-color="#3f9f66"/><stop offset="0.577" stop-color="#369b66"/><stop offset="0.615" stop-color="#2c9566"/><stop offset="0.654" stop-color="#219066"/><stop offset="0.692" stop-color="#188c66"/><stop offset="0.731" stop-color="#128866"/><stop offset="0.769" stop-color="#0d8666"/><stop offset="0.808" stop-color="#098466"/><stop offset="0.846" stop-color="#078366"/><stop offset="0.885" stop-color="#058266"/><stop offset="0.923" stop-color="#048166"/><stop offset="0.962" stop-color="#038166"/><stop offset="1" stop-color="#028166"/></linearGradient><linearGradient id="g65" x1="0" y1="0" x2="0" y2="1"><stop offset="0" stop-color="#028066"/><stop offset="0.038" stop-color="#028166"/><stop offset="0.077" stop-color="#038166"/><stop offset="0.115" stop-color="#048166"/><stop offset="0.154" stop-color="#058266"/><stop offset="0.192" stop-color="#078366"/><stop offset="0.231" stop-color="#0a8466"/><stop offset="0.269" stop-color="#0e8666"/><stop offset="0.308" stop-color="#138966"/><stop offset="0.346" stop-color="#1a8c66"/><stop offset="0.385" stop-color="#229166"/><stop offset="0.423" stop-color="#2a9566"/><stop offset="0.462" stop-color="#319866"/><stop offset="0.5" stop-color="#349966"/><stop offset="0.538" stop-color="#319866"/><stop offset="0.577" stop-color="#2a9566"/><stop offset="0.615" stop-color="#229166"/><stop offset="0.654" stop-color="#1a8c66"/><stop offset="0.692" stop-color="#138966"/><stop offset="0.731" stop-color="#0e8666"/><stop offset="0.769" stop-color="#0a8466"/><stop offset="0.808" stop-color="#078366"/><stop offset="0.846" stop-color="#058266"/><stop offset="0.885" stop-color="#048166"/><stop offset="0.923" stop-color="#038166"/><stop offset="0.962" stop-color="#028166"/><stop offset="1" stop-color="#028066"/></linearGradient><linearGradient id="g66" x1="0" y1="0" x2="0" y2="1"><stop offset="0" stop-color="#018066"/><stop offset="0.038" stop-color="#018066"/><stop offset="0.077" stop-color="#028066"/><stop offset="0.115" stop-color="#028166"/><stop offset="0.154" stop-color="#038166"/><stop offset="0.192" stop-color="#048266"/><stop offset="0.231" stop-color="#068366"/><stop offset="0.269" stop-color="#088466"/><stop offset="0.308" stop-color="#0c8566"/><stop offset="0.346" stop-color="#108866"/><stop offset="0.385" stop-color="#168a66"/><stop offset="0.423" stop-color="#1b8d66"/><stop offset="0.462" stop-color="#208f66"/><stop offset="0.5" stop-color="#219066"/><stop offset="0.538" stop-color="#208f66"/><stop offset="0.577" stop-color="#1b8d66"/><stop offset="0.615" stop-color="#168a66"/><stop offset="0.654" stop-color="#108866"/><stop offset="0.692" stop-color="#0c8566"/><stop offset="0.731" stop-color="#088466"/><stop offset="0.769" stop-color="#068366"/><stop offset="0.808" stop-color="#048266"/><stop offset="0.846" stop-color="#038166"/><stop offset="0.885" stop-color="#028166"/><stop offset="0.923" stop-color="#028066"/><stop offset="0.962" stop-color="#018066"/><stop offset="1" stop-color="#018066"/></linearGradient><linearGradient id="g67" x1="0" y1="0" x2="0" y2="1"><stop offset="0" stop-color="#008066"/><stop offset="0.038" stop-color="#018066"/><stop offset="0.077" stop-color="#018066"/><stop offset="0.115" stop-color="#018066"/><stop offset="0.154" stop-color="#018066"/><stop offset="0.192" stop-color="#028166"/><stop offset="0.231" stop-color="#038166"/><stop offset="0.269" stop-color="#048266"/><stop offset="0.308" stop-color="#068266"/><stop offset="0.346" stop-color="#088466"/><stop offset="0.385" stop-color="#0b8566"/><stop offset="0.423" stop-color="#0e8766"/><stop offset="0.462" stop-color="#118866"/><stop offset="0.5" stop-color="#128966"/><stop offset="0.538" stop-color="#118866"/><stop offset="0.577" stop-color="#0e8766"/><stop offset="0.615" stop-color="#0b8566"/><stop offset="0.654" stop-color="#088466"/><stop offset="0.692" stop-color="#068266"/><stop offset="0.731" stop-color="#048266"/><stop offset="0.769" stop-color="#038166"/><stop offset="0.808" stop-color="#028166"/><stop offset="0.846" stop-color="#018066"/><stop offset="0.885" stop-color="#018066"/><stop offset="0.923" stop-color="#018066"/><stop offset="0.962" stop-color="#018066"/><stop offset="1" stop-color="#008066"/></linearGradient><linearGradient id="g68" x1="0" y1="0" x2="0" y2="1"><stop offset="0" stop-color="#008066"/><stop offset="0.038" stop-color="#008066"/><stop offset="0.077" stop-color="#008066"/><stop offset="0.115" stop-color="#018066"/><stop offset="0.154" stop-color="#018066"/><stop offset="0.192" stop-color="#018066"/><stop offset="0.231" stop-color="#028066"/><stop offset="0.269" stop-color="#038166"/><stop offset="0.308" stop-color="#048166"/><stop offset="0.346" stop-color="#068266"/><stop offset="0.385" stop-color="#088366"/><stop offset="0.423" stop-color="#0a8566"/><stop offset="0.462" stop-color="#0d8666"/><stop offset="0.5" stop-color="#0e8666"/><stop offset="0.538" stop-color="#0d8666"/><stop offset="0.577" stop-color="#0a8566"/><stop offset="0.615" stop-color="#088366"/><stop offset="0.654" stop-color="#068266"/><stop offset="0.692" stop-color="#048166"/><stop offset="0.731" stop-color="#038166"/><stop offset="0.769" stop-color="#028066"/><stop offset="0.808" stop-color="#018066"/><stop offset="0.846" stop-color="#018066"/><stop offset="0.885" stop-color="#018066"/><stop offset="0.923" stop-color="#008066"/><stop offset="0.962" stop-color="#008066"/><stop offset="1" stop-color="#008066"/></linearGradient><linearGradient id="g69" x1="0" y1="0" x2="0" y2="1"><stop offset="0" stop-color="#008066"/><stop offset="0.038" stop-color="#008066"/><stop offset="0.077" stop-color="#008066"/><stop offset="0.115" stop-color="#018066"/><stop offset="0.154" stop-color="#018066"/><stop offset="0.192" stop-color="#018066"/><stop offset="0.231" stop-color="#018066"/><stop offset="0.269" stop-color="#028166"/><stop offset="0.308" stop-color="#038166"/><stop offset="0.346" stop-color="#058266"/><stop offset="0.385" stop-color="#078366"/><stop offset="0.423" stop-color="#0a8566"/><stop offset="0.462" stop-color="#0d8666"/><stop offset="0.5" stop-color="#0e8666"/><stop offset="0.538" stop-color="#0d8666"/><stop offset="0.577" stop-color="#0a8566"/><stop offset="0.615" stop-color="#078366"/><stop offset="0.654" stop-color="#058266"/><stop offset="0.692" stop-color="#038166"/><stop offset="0.731" stop-color="#028166"/><stop offset="0.769" stop-color="#018066"/><stop offset="0.808" stop-color="#018066"/><stop offset="0.846" stop-color="#018066"/><stop offset="0.885" stop-color="#018066"/><stop offset="0.923" stop-color="#008066"/><stop offset="0.962" stop-color="#008066"/><stop offset="1" stop-color="#008066"/></linearGradient><linearGradient id="g70" x1="0" y1="0" x2="0" y2="1"><stop offset="0" stop-color="#008066"/><stop offset="0.038" stop-color="#008066"/><stop offset="0.077" stop-color="#008066"/><stop offset="0.115" stop-color="#008066"/><stop offset="0.154" stop-color="#018066"/><stop offset="0.192" stop-color="#018066"/><stop offset="0.231" stop-color="#018066"/><stop offset="0.269" stop-color="#028066"/><stop offset="0.308" stop-color="#038166"/><stop offset="0.346" stop-color="#048266"/><stop offset="0.385" stop-color="#078366"/><stop offset="0.423" stop-color="#0a8466"/><stop offset="0.462" stop-color="#0c8666"/><stop offset="0.5" stop-color="#0e8666"/><stop offset="0.538" stop-color="#0c8666"/><stop offset="0.577" stop-color="#0a8466"/><stop offset="0.615" stop-color="#078366"/><stop offset="0.654" stop-color="#048266"/><stop offset="0.692" stop-color="#038166"/><stop offset="0.731" stop-color="#028066"/><stop offset="0.769" stop-color="#018066"/><stop offset="0.808" stop-color="#018066"/><stop offset="0.846" stop-color="#018066"/><stop offset="0.885" stop-color="#008066"/><stop offset="0.923" stop-color="#008066"/><stop offset="0.962" stop-color="#008066"/><stop offset="1" stop-color="#008066"/></linearGradient><linearGradient id="g71" x1="0" y1="0" x2="0" y2="1"><stop offset="0" stop-color="#008066"/><stop offset="0.038" stop-color="#008066"/><stop offset="0.077" stop-color="#008066"/><stop offset="0.115" stop-color="#008066"/><stop offset="0.154" stop-color="#018066"/><stop offset="0.192" stop-color="#018066"/><stop offset="0.231" stop-color="#018066"/><stop offset="0.269" stop-color="#028166"/><stop offset="0.308" stop-color="#038166"/><stop offset="0.346" stop-color="#058266"/><stop offset="0.385" stop-color="#088366"/><stop offset="0.423" stop-color="#0b8566"/><stop offset="0.462" stop-color="#0f8766"/><stop offset="0.5" stop-color="#108866"/><stop offset="0.538" stop-color="#0f8766"/><stop offset="0.577" stop-color="#0b8566"/><stop offset="0.615" stop-color="#088366"/><stop offset="0.654" stop-color="#058266"/><stop offset="0.692" stop-color="#038166"/><stop offset="0.731" stop-color="#028166"/><stop offset="0.769" stop-color="#018066"/><stop offset="0.808" stop-color="#018066"/><stop offset="0.846" stop-color="#018066"/><stop offset="0.885" stop-color="#008066"/><stop offset="0.923" stop-color="#008066"/><stop offset="0.962" stop-color="#008066"/><stop offset="1" stop-color="#008066"/></linearGradient><linearGradient id="g72" x1="0" y1="0" x2="0" y2="1"><stop offset="0" stop-color="#008066"/><stop offset="0.038" stop-color="#008066"/><stop offset="0.077" stop-color="#008066"/><stop offset="0.115" stop-color="#018066"/><stop offset="0.154" stop-color="#018066"/><stop offset="0.192" stop-color="#018066"/><stop offset="0.231" stop-color="#028066"/><stop offset="0.269" stop-color="#038166"/><stop offset="0.308" stop-color="#058266"/><stop offset="0.346" stop-color="#078366"/><stop offset="0.385" stop-color="#0c8566"/><stop offset="0.423" stop-color="#118866"/><stop offset="0.462" stop-color="#178b66"/><stop offset="0.5" stop-color="#1a8c66"/><stop offset="0.538" stop-color="#178b66"/><stop offset="0.577" stop-color="#118866"/><stop offset="0.615" stop-color="#0c8566"/><stop offset="0.654" stop-color="#078366"/><stop offset="0.692" stop-color="#058266"/><stop offset="0.731" stop-color="#038166"/><stop offset="0.769" stop-color="#028066"/><stop offset="0.808" stop-color="#018066"/><stop offset="0.846" stop-color="#018066"/><stop offset="0.885" stop-color="#018066"/><stop offset="0.923" stop-color="#008066"/><stop offset="0.962" stop-color="#008066"/><stop offset="1" stop-color="#008066"/></linearGradient><linearGradient id="g73" x1="0" y1="0" x2="0" y2="1"><stop offset="0" stop-color="#008066"/><stop offset="0.038" stop-color="#008066"/><stop offset="0.077" stop-color="#018066"/><stop offset="0.115" stop-color="#018066"/><stop offset="0.154" stop-color="#018066"/><stop offset="0.192" stop-color="#028066"/><stop offset="0.231" stop-color="#038166"/><stop offset="0.269" stop-color="#048166"/><stop offset="0.308" stop-color="#068366"/><stop offset="0.346" stop-color="#0a8566"/><stop offset="0.385" stop-color="#108866"/><stop offset="0.423" stop-color="#188c66"/><stop offset="0.462" stop-color="#219066"/><stop offset="0.5" stop-color="#249266"/><stop offset="0.538" stop-color="#219066"/><stop offset="0.577" stop-color="#188c66"/><stop offset="0.615" stop-color="#108866"/><stop offset="0.654" stop-color="#0a8566"/><stop offset="0.692" stop-color="#068366"/><stop offset="0.731" stop-color="#048166"/><stop offset="0.769" stop-color="#038166"/><stop offset="0.808" stop-color="#028066"/><stop offset="0.846" stop-color="#018066"/><stop offset="0.885" stop-color="#018066"/><stop offset="0.923" stop-color="#018066"/><stop offset="0.962" stop-color="#008066"/><stop offset="1" stop-color="#008066"/></linearGradient><linearGradient id="g74" x1="0" y1="0" x2="0" y2="1"><stop offset="0" stop-color="#008066"/><stop offset="0.038" stop-color="#008066"/><stop offset="0.077" stop-color="#018066"/><stop offset="0.115" stop-color="#018066"/><stop offset="0.154" stop-color="#018066"/><stop offset="0.192" stop-color="#028066"/><stop offset="0.231" stop-color="#038166"/><stop offset="0.269" stop-color="#058266"/><stop offset="0.308" stop-color="#078366"/><stop offset="0.346" stop-color="#0c8666"/><stop offset="0.385" stop-color="#148966"/><stop offset="0.423" stop-color="#1e8f66"/><stop offset="0.462" stop-color="#299466"/><stop offset="0.5" stop-color="#2e9766"/><stop offset="0.538" stop-color="#299466"/><stop offset="0.577" stop-color="#1e8f66"/><stop offset="0.615" stop-color="#148966"/><stop offset="0.654" stop-color="#0c8666"/><stop offset="0.692" stop-color="#078366"/><stop offset="0.731" stop-color="#058266"/><stop offset="0.769" stop-color="#038166"/><stop offset="0.808" stop-color="#028066"/><stop offset="0.846" stop-color="#018066"/><stop offset="0.885" stop-color="#018066"/><stop offset="0.923" stop-color="#018066"/><stop offset="0.962" stop-color="#008066"/><stop offset="1" stop-color="#008066"/></linearGradient><linearGradient id="g75" x1="0" y1="0" x2="0" y2="1"><stop offset="0" stop-color="#008066"/><stop offset="0.038" stop-color="#008066"/><stop offset="0.077" stop-color="#018066"/><stop offset="0.115" stop-color="#018066"/><stop offset="0.154" stop-color="#028066"/><stop offset="0.192" stop-color="#028166"/><stop offset="0.231" stop-color="#038166"/><stop offset="0.269" stop-color="#058266"/><stop offset="0.308" stop-color="#098466"/><stop offset="0.346" stop-color="#0e8766"/><stop offset="0.385" stop-color="#188b66"/><stop offset="0.423" stop-color="#259266"/><stop offset="0.462" stop-color="#339966"/><stop offset="0.5" stop-color="#399c66"/><stop offset="0.538" stop-color="#339966"/><stop offset="0.577" stop-color="#259266"/><stop offset="0.615" stop-color="#188b66"/><stop offset="0.654" stop-color="#0e8766"/><stop offset="0.692" stop-color="#098466"/><stop offset="0.731" stop-color="#058266"/><stop offset="0.769" stop-color="#038166"/><stop offset="0.808" stop-color="#028166"/><stop offset="0.846" stop-color="#028066"/><stop offset="0.885" stop-color="#018066"/><stop offset="0.923" stop-color="#018066"/><stop offset="0.962" stop-color="#008066"/><stop offset="1" stop-color="#008066"/></linearGradient><linearGradient id="g76" x1="0" y1="0" x2="0" y2="1"><stop offset="0" stop-color="#008066"/><stop offset="0.038" stop-color="#018066"/><stop offset="0.077" stop-color="#018066"/><stop offset="0.115" stop-color="#018066"/><stop offset="0.154" stop-color="#028066"/><stop offset="0.192" stop-color="#038166"/><stop offset="0.231" stop-color="#048166"/><stop offset="0.269" stop-color="#068366"/><stop offset="0.308" stop-color="#0a8466"/><stop offset="0.346" stop-color="#118866"/><stop offset="0.385" stop-color="#1b8d66"/><stop offset="0.423" stop-color="#2b9566"/><stop offset="0.462" stop-color="#3c9e66"/><stop offset="0.5" stop-color="#44a166"/><stop offset="0.538" stop-color="#3c9e66"/><stop offset="0.577" stop-color="#2b9566"/><stop offset="0.615" stop-color="#1b8d66"/><stop offset="0.654" stop-color="#118866"/><stop offset="0.692" stop-color="#0a8466"/><stop offset="0.731" stop-color="#068366"/><stop offset="0.769" stop-color="#048166"/><stop offset="0.808" stop-color="#038166"/><stop offset="0.846" stop-color="#028066"/><stop offset="0.885" stop-color="#018066"/><stop offset="0.923" stop-color="#018066"/><stop offset="0.962" stop-color="#018066"/><stop offset="1" stop-color="#008066"/></linearGradient><linearGradient id="g77" x1="0" y1="0" x2="0" y2="1"><stop offset="0" stop-color="#008066"/><stop offset="0.038" stop-color="#018066"/><stop offset="0.077" stop-color="#018066"/><stop offset="0.115" stop-color="#018066"/><stop offset="0.154" stop-color="#028066"/><stop offset="0.192" stop-color="#038166"/><stop offset="0.231" stop-color="#048266"/><stop offset="0.269" stop-color="#078366"/><stop offset="0.308" stop-color="#0b8566"/><stop offset="0.346" stop-color="#128966"/><stop offset="0.385" stop-color="#1f8f66"/><stop offset="0.423" stop-color="#319866"/><stop offset="0.462" stop-color="#45a266"/><stop offset="0.5" stop-color="#4ea766"/><stop offset="0.538" stop-color="#45a266"/><stop offset="0.577" stop-color="#319866"/><stop offset="0.615" stop-color="#1f8f66"/><stop offset="0.654" stop-color="#128966"/><stop offset="0.692" stop-color="#0b8566"/><stop offset="0.731" stop-color="#078366"/><stop offset="0.769" stop-color="#048266"/><stop offset="0.808" stop-color="#038166"/><stop offset="0.846" stop-color="#028066"/><stop offset="0.885" stop-color="#018066"/><stop offset="0.923" stop-color="#018066"/><stop offset="0.962" stop-color="#018066"/><stop offset="1" stop-color="#008066"/></linearGradient><linearGradient id="g78" x1="0" y1="0" x2="0" y2="1"><stop offset="0" stop-color="#008066"/><stop offset="0.038" stop-color="#018066"/><stop offset="0.077" stop-color="#018066"/><stop offset="0.115" stop-color="#018066"/><stop offset="0.154" stop-color="#028066"/><stop offset="0.192" stop-color="#038166"/><stop offset="0.231" stop-color="#058266"/><stop offset="0.269" stop-color="#078366"/><stop offset="0.308" stop-color="#0c8566"/><stop offset="0.346" stop-color="#148966"/><stop offset="0.385" stop-color="#229066"/><stop offset="0.423" stop-color="#369b66"/><stop offset="0.462" stop-color="#4da666"/><stop offset="0.5" stop-color="#57ab66"/><stop offset="0.538" stop-color="#4da666"/><stop offset="0.577" stop-color="#369b66"/><stop offset="0.615" stop-color="#229066"/><stop offset="0.654" stop-color="#148966"/><stop offset="0.692" stop-color="#0c8566"/><stop offset="0.731" stop-color="#078366"/><stop offset="0.769" stop-color="#058266"/><stop offset="0.808" stop-color="#038166"/><stop offset="0.846" stop-color="#028066"/><stop offset="0.885" stop-color="#018066"/><stop offset="0.923" stop-color="#018066"/><stop offset="0.962" stop-color="#018066"/><stop offset="1" stop-color="#008066"/></linearGradient><linearGradient id="g79" x1="0" y1="0" x2="0" y2="1"><stop offset="0" stop-color="#008066"/><stop offset="0.038" stop-color="#018066"/><stop offset="0.077" stop-color="#018066"/><stop offset="0.115" stop-color="#018066"/><stop offset="0.154" stop-color="#028166"/><stop offset="0.192" stop-color="#038166"/><stop offset="0.231" stop-color="#058266"/><stop offset="0.269" stop-color="#088366"/><stop offset="0.308" stop-color="#0d8666"/><stop offset="0.346" stop-color="#158a66"/><stop offset="0.385" stop-color="#249166"/><stop offset="0.423" stop-color="#3a9d66"/><stop offset="0.462" stop-color="#53a966"/><stop offset="0.5" stop-color="#5eaf66"/><stop offset="0.538" stop-color="#53a966"/><stop offset="0.577" stop-color="#3a9d66"/><stop offset="0.615" stop-color="#249166"/><stop offset="0.654" stop-color="#158a66"/><stop offset="0.692" stop-color="#0d8666"/><stop offset="0.731" stop-color="#088366"/><stop offset="0.769" stop-color="#058266"/><stop offset="0.808" stop-color="#038166"/><stop offset="0.846" stop-color="#028166"/><stop offset="0.885" stop-color="#018066"/><stop offset="0.923" stop-color="#018066"/><stop offset="0.962" stop-color="#018066"/><stop offset="1" stop-color="#008066"/></linearGradient><linearGradient id="g80" x1="0" y1="0" x2="0" y2="1"><stop offset="0" stop-color="#008066"/><stop offset="0.038" stop-color="#018066"/><stop offset="0.077" stop-color="#018066"/><stop offset="0.115" stop-color="#018066"/><stop offset="0.154" stop-color="#028166"/><stop offset="0.192" stop-color="#038166"/><stop offset="0.231" stop-color="#058266"/><stop offset="0.269" stop-color="#088366"/><stop offset="0.308" stop-color="#0d8666"/><stop offset="0.346" stop-color="#168b66"/><stop offset="0.385" stop-color="#269266"/><stop offset="0.423" stop-color="#3d9e66"/><stop offset="0.462" stop-color="#57ab66"/><stop offset="0.5" stop-color="#64b166"/><stop offset="0.538" stop-color="#57ab66"/><stop offset="0.577" stop-color="#3d9e66"/><stop offset="0.615" stop-color="#269266"/><stop offset="0.654" stop-color="#168b66"/><stop offset="0.692" stop-color="#0d8666"/><stop offset="0.731" stop-color="#088366"/><stop offset="0.769" stop-color="#058266"/><stop offset="0.808" stop-color="#038166"/><stop offset="0.846" stop-color="#028166"/><stop offset="0.885" stop-color="#018066"/><stop offset="0.923" stop-color="#018066"/><stop offset="0.962" stop-color="#018066"/><stop offset="1" stop-color="#008066"/></linearGradient><linearGradient id="cbi" x1="0" y1="0" x2="0" y2="1"><stop offset="0%" stop-color="#ffff66"/><stop offset="3.12%" stop-color="#f7fb66"/><stop offset="6.25%" stop-color="#eff766"/><stop offset="9.38%" stop-color="#e7f366"/><stop offset="12.5%" stop-color="#dfef66"/><stop offset="15.62%" stop-color="#d7eb66"/><stop offset="18.75%" stop-color="#cfe766"/><stop offset="21.88%" stop-color="#c7e366"/><stop offset="25%" stop-color="#bfdf66"/><stop offset="28.12%" stop-color="#b7db66"/><stop offset="31.25%" stop-color="#afd766"/><stop offset="34.38%" stop-color="#a7d366"/><stop offset="37.5%" stop-color="#9fcf66"/><stop offset="40.62%" stop-color="#97cb66"/><stop offset="43.75%" stop-color="#8fc766"/><stop offset="46.88%" stop-color="#87c366"/><stop offset="50%" stop-color="#80bf66"/><stop offset="53.12%" stop-color="#78bb66"/><stop offset="56.25%" stop-color="#70b766"/><stop offset="59.38%" stop-color="#68b366"/><stop offset="62.5%" stop-color="#60af66"/><stop offset="65.62%" stop-color="#58ab66"/><stop offset="68.75%" stop-color="#50a766"/><stop offset="71.88%" stop-color="#48a366"/><stop offset="75%" stop-color="#409f66"/><stop offset="78.12%" stop-color="#389b66"/><stop offset="81.25%" stop-color="#309766"/><stop offset="84.38%" stop-color="#289366"/><stop offset="87.5%" stop-color="#208f66"/><stop offset="90.62%" stop-color="#188b66"/><stop offset="93.75%" stop-color="#108766"/><stop offset="96.88%" stop-color="#088366"/><stop offset="100%" stop-color="#008066"/></linearGradient><linearGradient id="g81" x1="0" y1="0" x2="0" y2="1"><stop offset="0" stop-color="#000000"/><stop offset="0.008" stop-color="#000000"/><stop offset="0.017" stop-color="#000000"/><stop offset="0.025" stop-color="#000000"/><stop offset="0.033" stop-color="#000000"/><stop offset="0.042" stop-color="#000000"/><stop offset="0.05" stop-color="#000000"/><stop offset="0.058" stop-color="#000000"/><stop offset="0.067" stop-color="#000000"/><stop offset="0.075" stop-color="#000000"/><stop offset="0.083" stop-color="#000000"/><stop offset="0.092" stop-color="#000000"/><stop offset="0.1" stop-color="#000000"/><stop offset="0.108" stop-color="#000000"/><stop offset="0.117" stop-color="#000000"/><stop offset="0.125" stop-color="#000000"/><stop offset="0.133" stop-color="#000000"/><stop offset="0.142" stop-color="#000000"/><stop offset="0.15" stop-color="#000000"/><stop offset="0.158" stop-color="#060000"/><stop offset="0.167" stop-color="#150000"/><stop offset="0.175" stop-color="#250000"/><stop offset="0.183" stop-color="#350000"/><stop offset="0.192" stop-color="#450000"/><stop offset="0.2" stop-color="#550000"/><stop offset="0.208" stop-color="#640000"/><stop offset="0.217" stop-color="#730000"/><stop offset="0.225" stop-color="#820000"/><stop offset="0.233" stop-color="#900000"/><stop offset="0.242" stop-color="#9e0000"/><stop offset="0.25" stop-color="#ac0000"/><stop offset="0.258" stop-color="#b90000"/><stop offset="0.267" stop-color="#c50000"/><stop offset="0.275" stop-color="#d20000"/><stop offset="0.283" stop-color="#de0000"/><stop offset="0.292" stop-color="#ea0000"/><stop offset="0.3" stop-color="#f70000"/><stop offset="0.308" stop-color="#ff0400"/><stop offset="0.317" stop-color="#ff1000"/><stop offset="0.325" stop-color="#ff1d00"/><stop offset="0.333" stop-color="#ff2a00"/><stop offset="0.342" stop-color="#ff3800"/><stop offset="0.35" stop-color="#ff4500"/><stop offset="0.358" stop-color="#ff5200"/><stop offset="0.367" stop-color="#ff5e00"/><stop offset="0.375" stop-color="#ff6a00"/><stop offset="0.383" stop-color="#ff7400"/><stop offset="0.392" stop-color="#ff7d00"/><stop offset="0.4" stop-color="#ff8500"/><stop offset="0.408" stop-color="#ff8b00"/><stop offset="0.417" stop-color="#ff9100"/><stop offset="0.425" stop-color="#ff9600"/><stop offset="0.433" stop-color="#ff9b00"/><stop offset="0.442" stop-color="#ffa000"/><stop offset="0.45" stop-color="#ffa400"/><stop offset="0.458" stop-color="#ffa800"/><stop offset="0.467" stop-color="#ffac00"/><stop offset="0.475" stop-color="#ffaf00"/><stop offset="0.483" stop-color="#ffb100"/><stop offset="0.492" stop-color="#ffb200"/><stop offset="0.5" stop-color="#ffb200"/><stop offset="0.508" stop-color="#ffb200"/><stop offset="0.517" stop-color="#ffb100"/><stop offset="0.525" stop-color="#ffaf00"/><stop offset="0.533" stop-color="#ffac00"/><stop offset="0.542" stop-color="#ffa800"/><stop offset="0.55" stop-color="#ffa400"/><stop offset="0.558" stop-color="#ffa000"/><stop offset="0.567" stop-color="#ff9b00"/><stop offset="0.575" stop-color="#ff9600"/><stop offset="0.583" stop-color="#ff9100"/><stop offset="0.592" stop-color="#ff8b00"/><stop offset="0.6" stop-color="#ff8500"/><stop offset="0.608" stop-color="#ff7d00"/><stop offset="0.617" stop-color="#ff7400"/><stop offset="0.625" stop-color="#ff6a00"/><stop offset="0.633" stop-color="#ff5e00"/><stop offset="0.642" stop-color="#ff5200"/><stop offset="0.65" stop-color="#ff4500"/><stop offset="0.658" stop-color="#ff3800"/><stop offset="0.667" stop-color="#ff2a00"/><stop offset="0.675" stop-color="#ff1d00"/><stop offset="0.683" stop-color="#ff1000"/><stop offset="0.692" stop-color="#ff0400"/><stop offset="0.7" stop-color="#f70000"/><stop offset="0.708" stop-color="#ea0000"/><stop offset="0.717" stop-color="#de0000"/><stop offset="0.725" stop-color="#d20000"/><stop offset="0.733" stop-color="#c50000"/><stop offset="0.742" stop-color="#b90000"/><stop offset="0.75" stop-color="#ac0000"/><stop offset="0.758" stop-color="#9e0000"/><stop offset="0.767" stop-color="#910000"/><stop offset="0.775" stop-color="#820000"/><stop offset="0.783" stop-color="#730000"/><stop offset="0.792" stop-color="#640000"/><stop offset="0.8" stop-color="#550000"/><stop offset="0.808" stop-color="#450000"/><stop offset="0.817" stop-color="#350000"/><stop offset="0.825" stop-color="#250000"/><stop offset="0.833" stop-color="#150000"/><stop offset="0.842" stop-color="#060000"/><stop offset="0.85" stop-color="#000000"/><stop offset="0.858" stop-color="#000000"/><stop offset="0.867" stop-color="#000000"/><stop offset="0.875" stop-color="#000000"/><stop offset="0.883" stop-color="#000000"/><stop offset="0.892" stop-color="#000000"/><stop offset="0.9" stop-color="#000000"/><stop offset="0.908" stop-color="#000000"/><stop offset="0.917" stop-color="#000000"/><stop offset="0.925" stop-color="#000000"/><stop offset="0.933" stop-color="#000000"/><stop offset="0.942" stop-color="#000000"/><stop offset="0.95" stop-color="#000000"/><stop offset="0.958" stop-color="#000000"/><stop offset="0.967" stop-color="#000000"/><stop offset="0.975" stop-color="#000000"/><stop offset="0.983" stop-color="#000000"/><stop offset="0.992" stop-color="#000000"/><stop offset="1" stop-color="#000000"/></linearGradient><linearGradient id="cbj" x1="0" y1="0" x2="0" y2="1"><stop offset="0%" stop-color="#ffffff"/><stop offset="3.12%" stop-color="#ffffdf"/><stop offset="6.25%" stop-color="#ffffbf"/><stop offset="9.38%" stop-color="#ffff9f"/><stop offset="12.5%" stop-color="#ffff80"/><stop offset="15.62%" stop-color="#ffff60"/><stop offset="18.75%" stop-color="#ffff40"/><stop offset="21.88%" stop-color="#ffff20"/><stop offset="25%" stop-color="#ffff00"/><stop offset="28.12%" stop-color="#ffea00"/><stop offset="31.25%" stop-color="#ffd400"/><stop offset="34.38%" stop-color="#ffbf00"/><stop offset="37.5%" stop-color="#ffaa00"/><stop offset="40.62%" stop-color="#ff9500"/><stop offset="43.75%" stop-color="#ff8000"/><stop offset="46.88%" stop-color="#ff6a00"/><stop offset="50%" stop-color="#ff5500"/><stop offset="53.12%" stop-color="#ff4000"/><stop offset="56.25%" stop-color="#ff2a00"/><stop offset="59.38%" stop-color="#ff1500"/><stop offset="62.5%" stop-color="#ff0000"/><stop offset="65.62%" stop-color="#ea0000"/><stop offset="68.75%" stop-color="#d40000"/><stop offset="71.88%" stop-color="#bf0000"/><stop offset="75%" stop-color="#aa0000"/><stop offset="78.12%" stop-color="#950000"/><stop offset="81.25%" stop-color="#800000"/><stop offset="84.38%" stop-color="#6a0000"/><stop offset="87.5%" stop-color="#550000"/><stop offset="90.62%" stop-color="#400000"/><stop offset="93.75%" stop-color="#2a0000"/><stop offset="96.88%" stop-color="#150000"/><stop offset="100%" stop-color="#000000"/></linearGradient><clipPath id="ck"><rect x="391.2" y="657.3" width="242.5" height="108.5"/></clipPath><linearGradient id="g82" x1="0" y1="0" x2="0" y2="1"><stop offset="0" stop-color="#0a8566"/><stop offset="0.036" stop-color="#118866"/><stop offset="0.071" stop-color="#198c66"/><stop offset="0.107" stop-color="#259266"/><stop offset="0.143" stop-color="#359a66"/><stop offset="0.179" stop-color="#45a266"/><stop offset="0.214" stop-color="#5aad66"/><stop offset="0.25" stop-color="#71b866"/><stop offset="0.286" stop-color="#87c366"/><stop offset="0.321" stop-color="#9ecf66"/><stop offset="0.357" stop-color="#b4d966"/><stop offset="0.393" stop-color="#c1e066"/><stop offset="0.429" stop-color="#cae466"/><stop offset="0.464" stop-color="#d0e866"/><stop offset="0.5" stop-color="#d3e966"/><stop offset="0.536" stop-color="#d0e866"/><stop offset="0.571" stop-color="#cae466"/><stop offset="0.607" stop-color="#c1e066"/><stop offset="0.643" stop-color="#b4d966"/><stop offset="0.679" stop-color="#9ecf66"/><stop offset="0.714" stop-color="#87c366"/><stop offset="0.75" stop-color="#71b866"/><stop offset="0.786" stop-color="#5aad66"/><stop offset="0.821" stop-color="#45a266"/><stop offset="0.857" stop-color="#359a66"/><stop offset="0.893" stop-color="#259266"/><stop offset="0.929" stop-color="#198c66"/><stop offset="0.964" stop-color="#118866"/><stop offset="1" stop-color="#0a8566"/></linearGradient><linearGradient id="g83" x1="0" y1="0" x2="0" y2="1"><stop offset="0" stop-color="#0c8566"/><stop offset="0.036" stop-color="#128966"/><stop offset="0.071" stop-color="#1b8d66"/><stop offset="0.107" stop-color="#279366"/><stop offset="0.143" stop-color="#369b66"/><stop offset="0.179" stop-color="#47a366"/><stop offset="0.214" stop-color="#5cae66"/><stop offset="0.25" stop-color="#73b966"/><stop offset="0.286" stop-color="#88c466"/><stop offset="0.321" stop-color="#a0cf66"/><stop offset="0.357" stop-color="#b5da66"/><stop offset="0.393" stop-color="#c2e066"/><stop offset="0.429" stop-color="#cae566"/><stop offset="0.464" stop-color="#d0e866"/><stop offset="0.5" stop-color="#d3e966"/><stop offset="0.536" stop-color="#d0e866"/><stop offset="0.571" stop-color="#cae566"/><stop offset="0.607" stop-color="#c2e066"/><stop offset="0.643" stop-color="#b5da66"/><stop offset="0.679" stop-color="#a0cf66"/><stop offset="0.714" stop-color="#88c466"/><stop offset="0.75" stop-color="#73b966"/><stop offset="0.786" stop-color="#5cae66"/><stop offset="0.821" stop-color="#47a366"/><stop offset="0.857" stop-color="#369b66"/><stop offset="0.893" stop-color="#279366"/><stop offset="0.929" stop-color="#1b8d66"/><stop offset="0.964" stop-color="#128966"/><stop offset="1" stop-color="#0c8566"/></linearGradient><linearGradient id="g84" x1="0" y1="0" x2="0" y2="1"><stop offset="0" stop-color="#0d8666"/><stop offset="0.036" stop-color="#138966"/><stop offset="0.071" stop-color="#1c8e66"/><stop offset="0.107" stop-color="#299466"/><stop offset="0.143" stop-color="#389c66"/><stop offset="0.179" stop-color="#49a466"/><stop offset="0.214" stop-color="#5eaf66"/><stop offset="0.25" stop-color="#75ba66"/><stop offset="0.286" stop-color="#8ac466"/><stop offset="0.321" stop-color="#a1d066"/><stop offset="0.357" stop-color="#b6da66"/><stop offset="0.393" stop-color="#c2e166"/><stop offset="0.429" stop-color="#cbe566"/><stop offset="0.464" stop-color="#d1e866"/><stop offset="0.5" stop-color="#d3e966"/><stop offset="0.536" stop-color="#d1e866"/><stop offset="0.571" stop-color="#cbe566"/><stop offset="0.607" stop-color="#c2e166"/><stop offset="0.643" stop-color="#b6da66"/><stop offset="0.679" stop-color="#a1d066"/><stop offset="0.714" stop-color="#8ac466"/><stop offset="0.75" stop-color="#75ba66"/><stop offset="0.786" stop-color="#5eaf66"/><stop offset="0.821" stop-color="#49a466"/><stop offset="0.857" stop-color="#389c66"/><stop offset="0.893" stop-color="#299466"/><stop offset="0.929" stop-color="#1c8e66"/><stop offset="0.964" stop-color="#138966"/><stop offset="1" stop-color="#0d8666"/></linearGradient><linearGradient id="g85" x1="0" y1="0" x2="0" y2="1"><stop offset="0" stop-color="#0e8666"/><stop offset="0.036" stop-color="#148a66"/><stop offset="0.071" stop-color="#1e8e66"/><stop offset="0.107" stop-color="#2b9566"/><stop offset="0.143" stop-color="#3a9d66"/><stop offset="0.179" stop-color="#4ba566"/><stop offset="0.214" stop-color="#61b066"/><stop offset="0.25" stop-color="#77bb66"/><stop offset="0.286" stop-color="#8cc566"/><stop offset="0.321" stop-color="#a2d166"/><stop offset="0.357" stop-color="#b7db66"/><stop offset="0.393" stop-color="#c3e166"/><stop offset="0.429" stop-color="#cbe566"/><stop offset="0.464" stop-color="#d1e866"/><stop offset="0.5" stop-color="#d4e966"/><stop offset="0.536" stop-color="#d1e866"/><stop offset="0.571" stop-color="#cbe566"/><stop offset="0.607" stop-color="#c3e166"/><stop offset="0.643" stop-color="#b7db66"/><stop offset="0.679" stop-color="#a2d166"/><stop offset="0.714" stop-color="#8cc566"/><stop offset="0.75" stop-color="#77bb66"/><stop offset="0.786" stop-color="#61b066"/><stop offset="0.821" stop-color="#4ba566"/><stop offset="0.857" stop-color="#3a9d66"/><stop offset="0.893" stop-color="#2b9566"/><stop offset="0.929" stop-color="#1e8e66"/><stop offset="0.964" stop-color="#148a66"/><stop offset="1" stop-color="#0e8666"/></linearGradient><linearGradient id="g86" x1="0" y1="0" x2="0" y2="1"><stop offset="0" stop-color="#0f8766"/><stop offset="0.036" stop-color="#168a66"/><stop offset="0.071" stop-color="#1f8f66"/><stop offset="0.107" stop-color="#2d9666"/><stop offset="0.143" stop-color="#3c9d66"/><stop offset="0.179" stop-color="#4da666"/><stop offset="0.214" stop-color="#63b166"/><stop offset="0.25" stop-color="#78bc66"/><stop offset="0.286" stop-color="#8dc666"/><stop offset="0.321" stop-color="#a4d166"/><stop offset="0.357" stop-color="#b8db66"/><stop offset="0.393" stop-color="#c3e166"/><stop offset="0.429" stop-color="#cbe566"/><stop offset="0.464" stop-color="#d1e866"/><stop offset="0.5" stop-color="#d4e966"/><stop offset="0.536" stop-color="#d1e866"/><stop offset="0.571" stop-color="#cbe566"/><stop offset="0.607" stop-color="#c3e166"/><stop offset="0.643" stop-color="#b8db66"/><stop offset="0.679" stop-color="#a4d166"/><stop offset="0.714" stop-color="#8dc666"/><stop offset="0.75" stop-color="#78bc66"/><stop offset="0.786" stop-color="#63b166"/><stop offset="0.821" stop-color="#4da666"/><stop offset="0.857" stop-color="#3c9d66"/><stop offset="0.893" stop-color="#2d9666"/><stop offset="0.929" stop-color="#1f8f66"/><stop offset="0.964" stop-color="#168a66"/><stop offset="1" stop-color="#0f8766"/></linearGradient><linearGradient id="g87" x1="0" y1="0" x2="0" y2="1"><stop offset="0" stop-color="#108866"/><stop offset="0.036" stop-color="#178b66"/><stop offset="0.071" stop-color="#219066"/><stop offset="0.107" stop-color="#2f9766"/><stop offset="0.143" stop-color="#3e9e66"/><stop offset="0.179" stop-color="#4fa766"/><stop offset="0.214" stop-color="#64b266"/><stop offset="0.25" stop-color="#7abc66"/><stop offset="0.286" stop-color="#8fc766"/><stop offset="0.321" stop-color="#a5d266"/><stop offset="0.357" stop-color="#b8dc66"/><stop offset="0.393" stop-color="#c4e166"/><stop offset="0.429" stop-color="#cce566"/><stop offset="0.464" stop-color="#d2e866"/><stop offset="0.5" stop-color="#d4ea66"/><stop offset="0.536" stop-color="#d2e866"/><stop offset="0.571" stop-color="#cce566"/><stop offset="0.607" stop-color="#c4e166"/><stop offset="0.643" stop-color="#b8dc66"/><stop offset="0.679" stop-color="#a5d266"/><stop offset="0.714" stop-color="#8fc766"/><stop offset="0.75" stop-color="#7abc66"/><stop offset="0.786" stop-color="#64b266"/><stop offset="0.821" stop-color="#4fa766"/><stop offset="0.857" stop-color="#3e9e66"/><stop offset="0.893" stop-color="#2f9766"/><stop offset="0.929" stop-color="#219066"/><stop offset="0.964" stop-color="#178b66"/><stop offset="1" stop-color="#108866"/></linearGradient><linearGradient id="g88" x1="0" y1="0" x2="0" y2="1"><stop offset="0" stop-color="#118866"/><stop offset="0.036" stop-color="#188c66"/><stop offset="0.071" stop-color="#239166"/><stop offset="0.107" stop-color="#309866"/><stop offset="0.143" stop-color="#3f9f66"/><stop offset="0.179" stop-color="#51a866"/><stop offset="0.214" stop-color="#66b366"/><stop offset="0.25" stop-color="#7cbd66"/><stop offset="0.286" stop-color="#90c866"/><stop offset="0.321" stop-color="#a6d366"/><stop offset="0.357" stop-color="#b9dc66"/><stop offset="0.393" stop-color="#c4e266"/><stop offset="0.429" stop-color="#cce666"/><stop offset="0.464" stop-color="#d2e966"/><stop offset="0.5" stop-color="#d4ea66"/><stop offset="0.536" stop-color="#d2e966"/><stop offset="0.571" stop-color="#cce666"/><stop offset="0.607" stop-color="#c4e266"/><stop offset="0.643" stop-color="#b9dc66"/><stop offset="0.679" stop-color="#a6d366"/><stop offset="0.714" stop-color="#90c866"/><stop offset="0.75" stop-color="#7cbd66"/><stop offset="0.786" stop-color="#66b366"/><stop offset="0.821" stop-color="#51a866"/><stop offset="0.857" stop-color="#3f9f66"/><stop offset="0.893" stop-color="#309866"/><stop offset="0.929" stop-color="#239166"/><stop offset="0.964" stop-color="#188c66"/><stop offset="1" stop-color="#118866"/></linearGradient><linearGradient id="g89" x1="0" y1="0" x2="0" y2="1"><stop offset="0" stop-color="#138966"/><stop offset="0.036" stop-color="#1a8c66"/><stop offset="0.071" stop-color="#249266"/><stop offset="0.107" stop-color="#329966"/><stop offset="0.143" stop-color="#41a066"/><stop offset="0.179" stop-color="#53a966"/><stop offset="0.214" stop-color="#68b466"/><stop offset="0.25" stop-color="#7dbe66"/><stop offset="0.286" stop-color="#92c866"/><stop offset="0.321" stop-color="#a8d366"/><stop offset="0.357" stop-color="#badd66"/><stop offset="0.393" stop-color="#c5e266"/><stop offset="0.429" stop-color="#cde666"/><stop offset="0.464" stop-color="#d3e966"/><stop offset="0.5" stop-color="#d5ea66"/><stop offset="0.536" stop-color="#d3e966"/><stop offset="0.571" stop-color="#cde666"/><stop offset="0.607" stop-color="#c5e266"/><stop offset="0.643" stop-color="#badd66"/><stop offset="0.679" stop-color="#a8d366"/><stop offset="0.714" stop-color="#92c866"/><stop offset="0.75" stop-color="#7dbe66"/><stop offset="0.786" stop-color="#68b466"/><stop offset="0.821" stop-color="#53a966"/><stop offset="0.857" stop-color="#41a066"/><stop offset="0.893" stop-color="#329966"/><stop offset="0.929" stop-color="#249266"/><stop offset="0.964" stop-color="#1a8c66"/><stop offset="1" stop-color="#138966"/></linearGradient><linearGradient id="g90" x1="0" y1="0" x2="0" y2="1"><stop offset="0" stop-color="#148966"/><stop offset="0.036" stop-color="#1b8d66"/><stop offset="0.071" stop-color="#269366"/><stop offset="0.107" stop-color="#349966"/><stop offset="0.143" stop-color="#43a166"/><stop offset="0.179" stop-color="#55aa66"/><stop offset="0.214" stop-color="#6ab566"/><stop offset="0.25" stop-color="#7fbf66"/><stop offset="0.286" stop-color="#93c966"/><stop offset="0.321" stop-color="#a9d466"/><stop offset="0.357" stop-color="#bbdd66"/><stop offset="0.393" stop-color="#c6e266"/><stop offset="0.429" stop-color="#cde666"/><stop offset="0.464" stop-color="#d3e966"/><stop offset="0.5" stop-color="#d5ea66"/><stop offset="0.536" stop-color="#d3e966"/><stop offset="0.571" stop-color="#cde666"/><stop offset="0.607" stop-color="#c6e266"/><stop offset="0.643" stop-color="#bbdd66"/><stop offset="0.679" stop-color="#a9d466"/><stop offset="0.714" stop-color="#93c966"/><stop offset="0.75" stop-color="#7fbf66"/><stop offset="0.786" stop-color="#6ab566"/><stop offset="0.821" stop-color="#55aa66"/><stop offset="0.857" stop-color="#43a166"/><stop offset="0.893" stop-color="#349966"/><stop offset="0.929" stop-color="#269366"/><stop offset="0.964" stop-color="#1b8d66"/><stop offset="1" stop-color="#148966"/></linearGradient><linearGradient id="g91" x1="0" y1="0" x2="0" y2="1"><stop offset="0" stop-color="#158a66"/><stop offset="0.036" stop-color="#1c8e66"/><stop offset="0.071" stop-color="#289366"/><stop offset="0.107" stop-color="#369a66"/><stop offset="0.143" stop-color="#45a266"/><stop offset="0.179" stop-color="#57ab66"/><stop offset="0.214" stop-color="#6cb666"/><stop offset="0.25" stop-color="#80c066"/><stop offset="0.286" stop-color="#95ca66"/><stop offset="0.321" stop-color="#aad566"/><stop offset="0.357" stop-color="#bcdd66"/><stop offset="0.393" stop-color="#c6e366"/><stop offset="0.429" stop-color="#cee666"/><stop offset="0.464" stop-color="#d3e966"/><stop offset="0.5" stop-color="#d5ea66"/><stop offset="0.536" stop-color="#d3e966"/><stop offset="0.571" stop-color="#cee666"/><stop offset="0.607" stop-color="#c6e366"/><stop offset="0.643" stop-color="#bcdd66"/><stop offset="0.679" stop-color="#aad566"/><stop offset="0.714" stop-color="#95ca66"/><stop offset="0.75" stop-color="#80c066"/><stop offset="0.786" stop-color="#6cb666"/><stop offset="0.821" stop-color="#57ab66"/><stop offset="0.857" stop-color="#45a266"/><stop offset="0.893" stop-color="#369a66"/><stop offset="0.929" stop-color="#289366"/><stop offset="0.964" stop-color="#1c8e66"/><stop offset="1" stop-color="#158a66"/></linearGradient><linearGradient id="g92" x1="0" y1="0" x2="0" y2="1"><stop offset="0" stop-color="#168a66"/><stop offset="0.036" stop-color="#1e8e66"/><stop offset="0.071" stop-color="#2a9466"/><stop offset="0.107" stop-color="#379b66"/><stop offset="0.143" stop-color="#47a366"/><stop offset="0.179" stop-color="#59ac66"/><stop offset="0.214" stop-color="#6eb666"/><stop offset="0.25" stop-color="#82c066"/><stop offset="0.286" stop-color="#96cb66"/><stop offset="0.321" stop-color="#acd566"/><stop offset="0.357" stop-color="#bdde66"/><stop offset="0.393" stop-color="#c7e366"/><stop offset="0.429" stop-color="#cee766"/><stop offset="0.464" stop-color="#d4e966"/><stop offset="0.5" stop-color="#d6ea66"/><stop offset="0.536" stop-color="#d4e966"/><stop offset="0.571" stop-color="#cee766"/><stop offset="0.607" stop-color="#c7e366"/><stop offset="0.643" stop-color="#bdde66"/><stop offset="0.679" stop-color="#acd566"/><stop offset="0.714" stop-color="#96cb66"/><stop offset="0.75" stop-color="#82c066"/><stop offset="0.786" stop-color="#6eb666"/><stop offset="0.821" stop-color="#59ac66"/><stop offset="0.857" stop-color="#47a366"/><stop offset="0.893" stop-color="#379b66"/><stop offset="0.929" stop-color="#2a9466"/><stop offset="0.964" stop-color="#1e8e66"/><stop offset="1" stop-color="#168a66"/></linearGradient><linearGradient id="g93" x1="0" y1="0" x2="0" y2="1"><stop offset="0" stop-color="#178b66"/><stop offset="0.036" stop-color="#1f8f66"/><stop offset="0.071" stop-color="#2b9566"/><stop offset="0.107" stop-color="#399c66"/><stop offset="0.143" stop-color="#48a466"/><stop offset="0.179" stop-color="#5bad66"/><stop offset="0.214" stop-color="#70b766"/><stop offset="0.25" stop-color="#83c166"/><stop offset="0.286" stop-color="#98cb66"/><stop offset="0.321" stop-color="#add666"/><stop offset="0.357" stop-color="#bede66"/><stop offset="0.393" stop-color="#c7e366"/><stop offset="0.429" stop-color="#cfe766"/><stop offset="0.464" stop-color="#d4ea66"/><stop offset="0.5" stop-color="#d6eb66"/><stop offset="0.536" stop-color="#d4ea66"/><stop offset="0.571" stop-color="#cfe766"/><stop offset="0.607" stop-color="#c7e366"/><stop offset="0.643" stop-color="#bede66"/><stop offset="0.679" stop-color="#add666"/><stop offset="0.714" stop-color="#98cb66"/><stop offset="0.75" stop-color="#83c166"/><stop offset="0.786" stop-color="#70b766"/><stop offset="0.821" stop-color="#5bad66"/><stop offset="0.857" stop-color="#48a466"/><stop offset="0.893" stop-color="#399c66"/><stop offset="0.929" stop-color="#2b9566"/><stop offset="0.964" stop-color="#1f8f66"/><stop offset="1" stop-color="#178b66"/></linearGradient><linearGradient id="g94" x1="0" y1="0" x2="0" y2="1"><stop offset="0" stop-color="#188c66"/><stop offset="0.036" stop-color="#219066"/><stop offset="0.071" stop-color="#2d9666"/><stop offset="0.107" stop-color="#3b9d66"/><stop offset="0.143" stop-color="#4aa566"/><stop offset="0.179" stop-color="#5dae66"/><stop offset="0.214" stop-color="#71b866"/><stop offset="0.25" stop-color="#85c266"/><stop offset="0.286" stop-color="#99cc66"/><stop offset="0.321" stop-color="#aed666"/><stop offset="0.357" stop-color="#bedf66"/><stop offset="0.393" stop-color="#c8e366"/><stop offset="0.429" stop-color="#cfe766"/><stop offset="0.464" stop-color="#d4ea66"/><stop offset="0.5" stop-color="#d6eb66"/><stop offset="0.536" stop-color="#d4ea66"/><stop offset="0.571" stop-color="#cfe766"/><stop offset="0.607" stop-color="#c8e366"/><stop offset="0.643" stop-color="#bedf66"/><stop offset="0.679" stop-color="#aed666"/><stop offset="0.714" stop-color="#99cc66"/><stop offset="0.75" stop-color="#85c266"/><stop offset="0.786" stop-color="#71b866"/><stop offset="0.821" stop-color="#5dae66"/><stop offset="0.857" stop-color="#4aa566"/><stop offset="0.893" stop-color="#3b9d66"/><stop offset="0.929" stop-color="#2d9666"/><stop offset="0.964" stop-color="#219066"/><stop offset="1" stop-color="#188c66"/></linearGradient><linearGradient id="g95" x1="0" y1="0" x2="0" y2="1"><stop offset="0" stop-color="#198c66"/><stop offset="0.036" stop-color="#239166"/><stop offset="0.071" stop-color="#2f9766"/><stop offset="0.107" stop-color="#3d9e66"/><stop offset="0.143" stop-color="#4ca666"/><stop offset="0.179" stop-color="#5faf66"/><stop offset="0.214" stop-color="#73b966"/><stop offset="0.25" stop-color="#86c366"/><stop offset="0.286" stop-color="#9bcd66"/><stop offset="0.321" stop-color="#afd766"/><stop offset="0.357" stop-color="#bfdf66"/><stop offset="0.393" stop-color="#c8e466"/><stop offset="0.429" stop-color="#d0e766"/><stop offset="0.464" stop-color="#d5ea66"/><stop offset="0.5" stop-color="#d7eb66"/><stop offset="0.536" stop-color="#d5ea66"/><stop offset="0.571" stop-color="#d0e766"/><stop offset="0.607" stop-color="#c8e466"/><stop offset="0.643" stop-color="#bfdf66"/><stop offset="0.679" stop-color="#afd766"/><stop offset="0.714" stop-color="#9bcd66"/><stop offset="0.75" stop-color="#86c366"/><stop offset="0.786" stop-color="#73b966"/><stop offset="0.821" stop-color="#5faf66"/><stop offset="0.857" stop-color="#4ca666"/><stop offset="0.893" stop-color="#3d9e66"/><stop offset="0.929" stop-color="#2f9766"/><stop offset="0.964" stop-color="#239166"/><stop offset="1" stop-color="#198c66"/></linearGradient><linearGradient id="g96" x1="0" y1="0" x2="0" y2="1"><stop offset="0" stop-color="#1b8d66"/><stop offset="0.036" stop-color="#249266"/><stop offset="0.071" stop-color="#309866"/><stop offset="0.107" stop-color="#3e9f66"/><stop offset="0.143" stop-color="#4ea666"/><stop offset="0.179" stop-color="#61b066"/><stop offset="0.214" stop-color="#75ba66"/><stop offset="0.25" stop-color="#88c366"/><stop offset="0.286" stop-color="#9cce66"/><stop offset="0.321" stop-color="#b0d866"/><stop offset="0.357" stop-color="#c0df66"/><stop offset="0.393" stop-color="#c9e466"/><stop offset="0.429" stop-color="#d0e766"/><stop offset="0.464" stop-color="#d5ea66"/><stop offset="0.5" stop-color="#d7eb66"/><stop offset="0.536" stop-color="#d5ea66"/><stop offset="0.571" stop-color="#d0e766"/><stop offset="0.607" stop-color="#c9e466"/><stop offset="0.643" stop-color="#c0df66"/><stop offset="0.679" stop-color="#b0d866"/><stop offset="0.714" stop-color="#9cce66"/><stop offset="0.75" stop-color="#88c366"/><stop offset="0.786" stop-color="#75ba66"/><stop offset="0.821" stop-color="#61b066"/><stop offset="0.857" stop-color="#4ea666"/><stop offset="0.893" stop-color="#3e9f66"/><stop offset="0.929" stop-color="#309866"/><stop offset="0.964" stop-color="#249266"/><stop offset="1" stop-color="#1b8d66"/></linearGradient><linearGradient id="g97" x1="0" y1="0" x2="0" y2="1"><stop offset="0" stop-color="#1c8d66"/><stop offset="0.036" stop-color="#269266"/><stop offset="0.071" stop-color="#329966"/><stop offset="0.107" stop-color="#409f66"/><stop offset="0.143" stop-color="#50a766"/><stop offset="0.179" stop-color="#63b166"/><stop offset="0.214" stop-color="#77bb66"/><stop offset="0.25" stop-color="#89c466"/><stop offset="0.286" stop-color="#9ece66"/><stop offset="0.321" stop-color="#b1d866"/><stop offset="0.357" stop-color="#c1e066"/><stop offset="0.393" stop-color="#c9e466"/><stop offset="0.429" stop-color="#d0e866"/><stop offset="0.464" stop-color="#d6ea66"/><stop offset="0.5" stop-color="#d7eb66"/><stop offset="0.536" stop-color="#d6ea66"/><stop offset="0.571" stop-color="#d0e866"/><stop offset="0.607" stop-color="#c9e466"/><stop offset="0.643" stop-color="#c1e066"/><stop offset="0.679" stop-color="#b1d866"/><stop offset="0.714" stop-color="#9ece66"/><stop offset="0.75" stop-color="#89c466"/><stop offset="0.786" stop-color="#77bb66"/><stop offset="0.821" stop-color="#63b166"/><stop offset="0.857" stop-color="#50a766"/><stop offset="0.893" stop-color="#409f66"/><stop offset="0.929" stop-color="#329966"/><stop offset="0.964" stop-color="#269266"/><stop offset="1" stop-color="#1c8d66"/></linearGradient><linearGradient id="g98" x1="0" y1="0" x2="0" y2="1"><stop offset="0" stop-color="#1d8e66"/><stop offset="0.036" stop-color="#279366"/><stop offset="0.071" stop-color="#349966"/><stop offset="0.107" stop-color="#42a066"/><stop offset="0.143" stop-color="#52a866"/><stop offset="0.179" stop-color="#65b266"/><stop offset="0.214" stop-color="#78bc66"/><stop offset="0.25" stop-color="#8bc566"/><stop offset="0.286" stop-color="#9fcf66"/><stop offset="0.321" stop-color="#b2d966"/><stop offset="0.357" stop-color="#c1e066"/><stop offset="0.393" stop-color="#cae466"/><stop offset="0.429" stop-color="#d1e866"/><stop offset="0.464" stop-color="#d6ea66"/><stop offset="0.5" stop-color="#d8eb66"/><stop offset="0.536" stop-color="#d6ea66"/><stop offset="0.571" stop-color="#d1e866"/><stop offset="0.607" stop-color="#cae466"/><stop offset="0.643" stop-color="#c1e066"/><stop offset="0.679" stop-color="#b2d966"/><stop offset="0.714" stop-color="#9fcf66"/><stop offset="0.75" stop-color="#8bc566"/><stop offset="0.786" stop-color="#78bc66"/><stop offset="0.821" stop-color="#65b266"/><stop offset="0.857" stop-color="#52a866"/><stop offset="0.893" stop-color="#42a066"/><stop offset="0.929" stop-color="#349966"/><stop offset="0.964" stop-color="#279366"/><stop offset="1" stop-color="#1d8e66"/></linearGradient><linearGradient id="g99" x1="0" y1="0" x2="0" y2="1"><stop offset="0" stop-color="#1f8f66"/><stop offset="0.036" stop-color="#299466"/><stop offset="0.071" stop-color="#369a66"/><stop offset="0.107" stop-color="#43a166"/><stop offset="0.143" stop-color="#53a966"/><stop offset="0.179" stop-color="#66b366"/><stop offset="0.214" stop-color="#7abc66"/><stop offset="0.25" stop-color="#8cc666"/><stop offset="0.286" stop-color="#a0d066"/><stop offset="0.321" stop-color="#b4d966"/><stop offset="0.357" stop-color="#c2e166"/><stop offset="0.393" stop-color="#cae566"/><stop offset="0.429" stop-color="#d1e866"/><stop offset="0.464" stop-color="#d6eb66"/><stop offset="0.5" stop-color="#d8ec66"/><stop offset="0.536" stop-color="#d6eb66"/><stop offset="0.571" stop-color="#d1e866"/><stop offset="0.607" stop-color="#cae566"/><stop offset="0.643" stop-color="#c2e166"/><stop offset="0.679" stop-color="#b4d966"/><stop offset="0.714" stop-color="#a0d066"/><stop offset="0.75" stop-color="#8cc666"/><stop offset="0.786" stop-color="#7abc66"/><stop offset="0.821" stop-color="#66b366"/><stop offset="0.857" stop-color="#53a966"/><stop offset="0.893" stop-color="#43a166"/><stop offset="0.929" stop-color="#369a66"/><stop offset="0.964" stop-color="#299466"/><stop offset="1" stop-color="#1f8f66"/></linearGradient><linearGradient id="g100" x1="0" y1="0" x2="0" y2="1"><stop offset="0" stop-color="#208f66"/><stop offset="0.036" stop-color="#2a9566"/><stop offset="0.071" stop-color="#379b66"/><stop offset="0.107" stop-color="#45a266"/><stop offset="0.143" stop-color="#55aa66"/><stop offset="0.179" stop-color="#68b466"/><stop offset="0.214" stop-color="#7bbd66"/><stop offset="0.25" stop-color="#8ec666"/><stop offset="0.286" stop-color="#a2d066"/><stop offset="0.321" stop-color="#b5da66"/><stop offset="0.357" stop-color="#c3e166"/><stop offset="0.393" stop-color="#cbe566"/><stop offset="0.429" stop-color="#d2e866"/><stop offset="0.464" stop-color="#d7eb66"/><stop offset="0.5" stop-color="#d8ec66"/><stop offset="0.536" stop-color="#d7eb66"/><stop offset="0.571" stop-color="#d2e866"/><stop offset="0.607" stop-color="#cbe566"/><stop offset="0.643" stop-color="#c3e166"/><stop offset="0.679" stop-color="#b5da66"/><stop offset="0.714" stop-color="#a2d066"/><stop offset="0.75" stop-color="#8ec666"/><stop offset="0.786" stop-color="#7bbd66"/><stop offset="0.821" stop-color="#68b466"/><stop offset="0.857" stop-color="#55aa66"/><stop offset="0.893" stop-color="#45a266"/><stop offset="0.929" stop-color="#379b66"/><stop offset="0.964" stop-color="#2a9566"/><stop offset="1" stop-color="#208f66"/></linearGradient><linearGradient id="g101" x1="0" y1="0" x2="0" y2="1"><stop offset="0" stop-color="#219066"/><stop offset="0.036" stop-color="#2c9666"/><stop offset="0.071" stop-color="#399c66"/><stop offset="0.107" stop-color="#47a366"/><stop offset="0.143" stop-color="#57ab66"/><stop offset="0.179" stop-color="#6ab466"/><stop offset="0.214" stop-color="#7dbe66"/><stop offset="0.25" stop-color="#8fc766"/><stop offset="0.286" stop-color="#a3d166"/><stop offset="0.321" stop-color="#b6da66"/><stop offset="0.357" stop-color="#c3e166"/><stop offset="0.393" stop-color="#cbe566"/><stop offset="0.429" stop-color="#d2e966"/><stop offset="0.464" stop-color="#d7eb66"/><stop offset="0.5" stop-color="#d9ec66"/><stop offset="0.536" stop-color="#d7eb66"/><stop offset="0.571" stop-color="#d2e966"/><stop offset="0.607" stop-color="#cbe566"/><stop offset="0.643" stop-color="#c3e166"/><stop offset="0.679" stop-color="#b6da66"/><stop offset="0.714" stop-color="#a3d166"/><stop offset="0.75" stop-color="#8fc766"/><stop offset="0.786" stop-color="#7dbe66"/><stop offset="0.821" stop-color="#6ab466"/><stop offset="0.857" stop-color="#57ab66"/><stop offset="0.893" stop-color="#47a366"/><stop offset="0.929" stop-color="#399c66"/><stop offset="0.964" stop-color="#2c9666"/><stop offset="1" stop-color="#219066"/></linearGradient><linearGradient id="g102" x1="0" y1="0" x2="0" y2="1"><stop offset="0" stop-color="#229166"/><stop offset="0.036" stop-color="#2d9666"/><stop offset="0.071" stop-color="#3a9d66"/><stop offset="0.107" stop-color="#48a366"/><stop offset="0.143" stop-color="#59ac66"/><stop offset="0.179" stop-color="#6bb566"/><stop offset="0.214" stop-color="#7ebf66"/><stop offset="0.25" stop-color="#90c866"/><stop offset="0.286" stop-color="#a4d166"/><stop offset="0.321" stop-color="#b6db66"/><stop offset="0.357" stop-color="#c4e166"/><stop offset="0.393" stop-color="#cce566"/><stop offset="0.429" stop-color="#d2e966"/><stop offset="0.464" stop-color="#d7eb66"/><stop offset="0.5" stop-color="#d9ec66"/><stop offset="0.536" stop-color="#d7eb66"/><stop offset="0.571" stop-color="#d2e966"/><stop offset="0.607" stop-color="#cce566"/><stop offset="0.643" stop-color="#c4e166"/><stop offset="0.679" stop-color="#b6db66"/><stop offset="0.714" stop-color="#a4d166"/><stop offset="0.75" stop-color="#90c866"/><stop offset="0.786" stop-color="#7ebf66"/><stop offset="0.821" stop-color="#6bb566"/><stop offset="0.857" stop-color="#59ac66"/><stop offset="0.893" stop-color="#48a366"/><stop offset="0.929" stop-color="#3a9d66"/><stop offset="0.964" stop-color="#2d9666"/><stop offset="1" stop-color="#229166"/></linearGradient><linearGradient id="g103" x1="0" y1="0" x2="0" y2="1"><stop offset="0" stop-color="#249166"/><stop offset="0.036" stop-color="#2f9766"/><stop offset="0.071" stop-color="#3b9d66"/><stop offset="0.107" stop-color="#49a466"/><stop offset="0.143" stop-color="#5aad66"/><stop offset="0.179" stop-color="#6db666"/><stop offset="0.214" stop-color="#7fbf66"/><stop offset="0.25" stop-color="#91c866"/><stop offset="0.286" stop-color="#a5d266"/><stop offset="0.321" stop-color="#b7db66"/><stop offset="0.357" stop-color="#c4e266"/><stop offset="0.393" stop-color="#cce566"/><stop offset="0.429" stop-color="#d2e966"/><stop offset="0.464" stop-color="#d7eb66"/><stop offset="0.5" stop-color="#d9ec66"/><stop offset="0.536" stop-color="#d7eb66"/><stop offset="0.571" stop-color="#d2e966"/><stop offset="0.607" stop-color="#cce566"/><stop offset="0.643" stop-color="#c4e266"/><stop offset="0.679" stop-color="#b7db66"/><stop offset="0.714" stop-color="#a5d266"/><stop offset="0.75" stop-color="#91c866"/><stop offset="0.786" stop-color="#7fbf66"/><stop offset="0.821" stop-color="#6db666"/><stop offset="0.857" stop-color="#5aad66"/><stop offset="0.893" stop-color="#49a466"/><stop offset="0.929" stop-color="#3b9d66"/><stop offset="0.964" stop-color="#2f9766"/><stop offset="1" stop-color="#249166"/></linearGradient><linearGradient id="g104" x1="0" y1="0" x2="0" y2="1"><stop offset="0" stop-color="#279366"/><stop offset="0.036" stop-color="#309766"/><stop offset="0.071" stop-color="#3d9e66"/><stop offset="0.107" stop-color="#4ba566"/><stop offset="0.143" stop-color="#5cad66"/><stop offset="0.179" stop-color="#6eb766"/><stop offset="0.214" stop-color="#80c066"/><stop offset="0.25" stop-color="#92c966"/><stop offset="0.286" stop-color="#a6d266"/><stop offset="0.321" stop-color="#b8db66"/><stop offset="0.357" stop-color="#c4e266"/><stop offset="0.393" stop-color="#cce566"/><stop offset="0.429" stop-color="#d2e966"/><stop offset="0.464" stop-color="#d7eb66"/><stop offset="0.5" stop-color="#d9ec66"/><stop offset="0.536" stop-color="#d7eb66"/><stop offset="0.571" stop-color="#d2e966"/><stop offset="0.607" stop-color="#cce566"/><stop offset="0.643" stop-color="#c4e266"/><stop offset="0.679" stop-color="#b8db66"/><stop offset="0.714" stop-color="#a6d266"/><stop offset="0.75" stop-color="#92c966"/><stop offset="0.786" stop-color="#80c066"/><stop offset="0.821" stop-color="#6eb766"/><stop offset="0.857" stop-color="#5cad66"/><stop offset="0.893" stop-color="#4ba566"/><stop offset="0.929" stop-color="#3d9e66"/><stop offset="0.964" stop-color="#309766"/><stop offset="1" stop-color="#279366"/></linearGradient><linearGradient id="g105" x1="0" y1="0" x2="0" y2="1"><stop offset="0" stop-color="#299466"/><stop offset="0.036" stop-color="#319866"/><stop offset="0.071" stop-color="#3e9f66"/><stop offset="0.107" stop-color="#4ca566"/><stop offset="0.143" stop-color="#5dae66"/><stop offset="0.179" stop-color="#6fb766"/><stop offset="0.214" stop-color="#82c066"/><stop offset="0.25" stop-color="#93c966"/><stop offset="0.286" stop-color="#a7d366"/><stop offset="0.321" stop-color="#b8dc66"/><stop offset="0.357" stop-color="#c5e266"/><stop offset="0.393" stop-color="#cce666"/><stop offset="0.429" stop-color="#d3e966"/><stop offset="0.464" stop-color="#d7eb66"/><stop offset="0.5" stop-color="#d9ec66"/><stop offset="0.536" stop-color="#d7eb66"/><stop offset="0.571" stop-color="#d3e966"/><stop offset="0.607" stop-color="#cce666"/><stop offset="0.643" stop-color="#c5e266"/><stop offset="0.679" stop-color="#b8dc66"/><stop offset="0.714" stop-color="#a7d366"/><stop offset="0.75" stop-color="#93c966"/><stop offset="0.786" stop-color="#82c066"/><stop offset="0.821" stop-color="#6fb766"/><stop offset="0.857" stop-color="#5dae66"/><stop offset="0.893" stop-color="#4ca566"/><stop offset="0.929" stop-color="#3e9f66"/><stop offset="0.964" stop-color="#319866"/><stop offset="1" stop-color="#299466"/></linearGradient><linearGradient id="g106" x1="0" y1="0" x2="0" y2="1"><stop offset="0" stop-color="#2c9566"/><stop offset="0.036" stop-color="#339966"/><stop offset="0.071" stop-color="#3f9f66"/><stop offset="0.107" stop-color="#4da666"/><stop offset="0.143" stop-color="#5eaf66"/><stop offset="0.179" stop-color="#71b866"/><stop offset="0.214" stop-color="#83c166"/><stop offset="0.25" stop-color="#95ca66"/><stop offset="0.286" stop-color="#a8d366"/><stop offset="0.321" stop-color="#b9dc66"/><stop offset="0.357" stop-color="#c5e266"/><stop offset="0.393" stop-color="#cce666"/><stop offset="0.429" stop-color="#d3e966"/><stop offset="0.464" stop-color="#d7eb66"/><stop offset="0.5" stop-color="#d9ec66"/><stop offset="0.536" stop-color="#d7eb66"/><stop offset="0.571" stop-color="#d3e966"/><stop offset="0.607" stop-color="#cce666"/><stop offset="0.643" stop-color="#c5e266"/><stop offset="0.679" stop-color="#b9dc66"/><stop offset="0.714" stop-color="#a8d366"/><stop offset="0.75" stop-color="#95ca66"/><stop offset="0.786" stop-color="#83c166"/><stop offset="0.821" stop-color="#71b866"/><stop offset="0.857" stop-color="#5eaf66"/><stop offset="0.893" stop-color="#4da666"/><stop offset="0.929" stop-color="#3f9f66"/><stop offset="0.964" stop-color="#339966"/><stop offset="1" stop-color="#2c9566"/></linearGradient><linearGradient id="g107" x1="0" y1="0" x2="0" y2="1"><stop offset="0" stop-color="#2d9666"/><stop offset="0.036" stop-color="#379b66"/><stop offset="0.071" stop-color="#40a066"/><stop offset="0.107" stop-color="#4fa766"/><stop offset="0.143" stop-color="#60af66"/><stop offset="0.179" stop-color="#72b966"/><stop offset="0.214" stop-color="#84c166"/><stop offset="0.25" stop-color="#96ca66"/><stop offset="0.286" stop-color="#a9d466"/><stop offset="0.321" stop-color="#b9dc66"/><stop offset="0.357" stop-color="#c5e266"/><stop offset="0.393" stop-color="#cce666"/><stop offset="0.429" stop-color="#d3e966"/><stop offset="0.464" stop-color="#d7eb66"/><stop offset="0.5" stop-color="#d9ec66"/><stop offset="0.536" stop-color="#d7eb66"/><stop offset="0.571" stop-color="#d3e966"/><stop offset="0.607" stop-color="#cce666"/><stop offset="0.643" stop-color="#c5e266"/><stop offset="0.679" stop-color="#b9dc66"/><stop offset="0.714" stop-color="#a9d466"/><stop offset="0.75" stop-color="#96ca66"/><stop offset="0.786" stop-color="#84c166"/><stop offset="0.821" stop-color="#72b966"/><stop offset="0.857" stop-color="#60af66"/><stop offset="0.893" stop-color="#4fa766"/><stop offset="0.929" stop-color="#40a066"/><stop offset="0.964" stop-color="#379b66"/><stop offset="1" stop-color="#2d9666"/></linearGradient><linearGradient id="g108" x1="0" y1="0" x2="0" y2="1"><stop offset="0" stop-color="#2d9666"/><stop offset="0.036" stop-color="#3a9c66"/><stop offset="0.071" stop-color="#42a066"/><stop offset="0.107" stop-color="#50a866"/><stop offset="0.143" stop-color="#61b066"/><stop offset="0.179" stop-color="#73b966"/><stop offset="0.214" stop-color="#85c266"/><stop offset="0.25" stop-color="#97cb66"/><stop offset="0.286" stop-color="#a9d466"/><stop offset="0.321" stop-color="#badd66"/><stop offset="0.357" stop-color="#c5e266"/><stop offset="0.393" stop-color="#cde666"/><stop offset="0.429" stop-color="#d3e966"/><stop offset="0.464" stop-color="#d7eb66"/><stop offset="0.5" stop-color="#d9ec66"/><stop offset="0.536" stop-color="#d7eb66"/><stop offset="0.571" stop-color="#d3e966"/><stop offset="0.607" stop-color="#cde666"/><stop offset="0.643" stop-color="#c5e266"/><stop offset="0.679" stop-color="#badd66"/><stop offset="0.714" stop-color="#a9d466"/><stop offset="0.75" stop-color="#97cb66"/><stop offset="0.786" stop-color="#85c266"/><stop offset="0.821" stop-color="#73b966"/><stop offset="0.857" stop-color="#61b066"/><stop offset="0.893" stop-color="#50a866"/><stop offset="0.929" stop-color="#42a066"/><stop offset="0.964" stop-color="#3a9c66"/><stop offset="1" stop-color="#2d9666"/></linearGradient><linearGradient id="g109" x1="0" y1="0" x2="0" y2="1"><stop offset="0" stop-color="#2d9666"/><stop offset="0.036" stop-color="#3c9d66"/><stop offset="0.071" stop-color="#45a266"/><stop offset="0.107" stop-color="#51a866"/><stop offset="0.143" stop-color="#63b166"/><stop offset="0.179" stop-color="#75ba66"/><stop offset="0.214" stop-color="#86c266"/><stop offset="0.25" stop-color="#98cb66"/><stop offset="0.286" stop-color="#aad566"/><stop offset="0.321" stop-color="#bbdd66"/><stop offset="0.357" stop-color="#c6e266"/><stop offset="0.393" stop-color="#cde666"/><stop offset="0.429" stop-color="#d3e966"/><stop offset="0.464" stop-color="#d7eb66"/><stop offset="0.5" stop-color="#d9ec66"/><stop offset="0.536" stop-color="#d7eb66"/><stop offset="0.571" stop-color="#d3e966"/><stop offset="0.607" stop-color="#cde666"/><stop offset="0.643" stop-color="#c6e266"/><stop offset="0.679" stop-color="#bbdd66"/><stop offset="0.714" stop-color="#aad566"/><stop offset="0.75" stop-color="#98cb66"/><stop offset="0.786" stop-color="#86c266"/><stop offset="0.821" stop-color="#75ba66"/><stop offset="0.857" stop-color="#63b166"/><stop offset="0.893" stop-color="#51a866"/><stop offset="0.929" stop-color="#45a266"/><stop offset="0.964" stop-color="#3c9d66"/><stop offset="1" stop-color="#2d9666"/></linearGradient><linearGradient id="g110" x1="0" y1="0" x2="0" y2="1"><stop offset="0" stop-color="#2d9666"/><stop offset="0.036" stop-color="#3c9e66"/><stop offset="0.071" stop-color="#47a366"/><stop offset="0.107" stop-color="#53a966"/><stop offset="0.143" stop-color="#64b166"/><stop offset="0.179" stop-color="#76ba66"/><stop offset="0.214" stop-color="#87c366"/><stop offset="0.25" stop-color="#99cc66"/><stop offset="0.286" stop-color="#abd566"/><stop offset="0.321" stop-color="#bbdd66"/><stop offset="0.357" stop-color="#c6e266"/><stop offset="0.393" stop-color="#cde666"/><stop offset="0.429" stop-color="#d3e966"/><stop offset="0.464" stop-color="#d7eb66"/><stop offset="0.5" stop-color="#d9ec66"/><stop offset="0.536" stop-color="#d7eb66"/><stop offset="0.571" stop-color="#d3e966"/><stop offset="0.607" stop-color="#cde666"/><stop offset="0.643" stop-color="#c6e266"/><stop offset="0.679" stop-color="#bbdd66"/><stop offset="0.714" stop-color="#abd566"/><stop offset="0.75" stop-color="#99cc66"/><stop offset="0.786" stop-color="#87c366"/><stop offset="0.821" stop-color="#76ba66"/><stop offset="0.857" stop-color="#64b166"/><stop offset="0.893" stop-color="#53a966"/><stop offset="0.929" stop-color="#47a366"/><stop offset="0.964" stop-color="#3c9e66"/><stop offset="1" stop-color="#2d9666"/></linearGradient><linearGradient id="g111" x1="0" y1="0" x2="0" y2="1"><stop offset="0" stop-color="#2d9666"/><stop offset="0.036" stop-color="#3c9e66"/><stop offset="0.071" stop-color="#4aa466"/><stop offset="0.107" stop-color="#54aa66"/><stop offset="0.143" stop-color="#65b266"/><stop offset="0.179" stop-color="#77bb66"/><stop offset="0.214" stop-color="#88c366"/><stop offset="0.25" stop-color="#9acc66"/><stop offset="0.286" stop-color="#acd566"/><stop offset="0.321" stop-color="#bcdd66"/><stop offset="0.357" stop-color="#c6e366"/><stop offset="0.393" stop-color="#cde666"/><stop offset="0.429" stop-color="#d3e966"/><stop offset="0.464" stop-color="#d7eb66"/><stop offset="0.5" stop-color="#d9ec66"/><stop offset="0.536" stop-color="#d7eb66"/><stop offset="0.571" stop-color="#d3e966"/><stop offset="0.607" stop-color="#cde666"/><stop offset="0.643" stop-color="#c6e366"/><stop offset="0.679" stop-color="#bcdd66"/><stop offset="0.714" stop-color="#acd566"/><stop offset="0.75" stop-color="#9acc66"/><stop offset="0.786" stop-color="#88c366"/><stop offset="0.821" stop-color="#77bb66"/><stop offset="0.857" stop-color="#65b266"/><stop offset="0.893" stop-color="#54aa66"/><stop offset="0.929" stop-color="#4aa466"/><stop offset="0.964" stop-color="#3c9e66"/><stop offset="1" stop-color="#2d9666"/></linearGradient><linearGradient id="g112" x1="0" y1="0" x2="0" y2="1"><stop offset="0" stop-color="#2d9666"/><stop offset="0.036" stop-color="#3c9e66"/><stop offset="0.071" stop-color="#4ba566"/><stop offset="0.107" stop-color="#57ab66"/><stop offset="0.143" stop-color="#67b366"/><stop offset="0.179" stop-color="#78bc66"/><stop offset="0.214" stop-color="#89c466"/><stop offset="0.25" stop-color="#9bcd66"/><stop offset="0.286" stop-color="#add666"/><stop offset="0.321" stop-color="#bcde66"/><stop offset="0.357" stop-color="#c6e366"/><stop offset="0.393" stop-color="#cde666"/><stop offset="0.429" stop-color="#d3e966"/><stop offset="0.464" stop-color="#d7eb66"/><stop offset="0.5" stop-color="#d9ec66"/><stop offset="0.536" stop-color="#d7eb66"/><stop offset="0.571" stop-color="#d3e966"/><stop offset="0.607" stop-color="#cde666"/><stop offset="0.643" stop-color="#c6e366"/><stop offset="0.679" stop-color="#bcde66"/><stop offset="0.714" stop-color="#add666"/><stop offset="0.75" stop-color="#9bcd66"/><stop offset="0.786" stop-color="#89c466"/><stop offset="0.821" stop-color="#78bc66"/><stop offset="0.857" stop-color="#67b366"/><stop offset="0.893" stop-color="#57ab66"/><stop offset="0.929" stop-color="#4ba566"/><stop offset="0.964" stop-color="#3c9e66"/><stop offset="1" stop-color="#2d9666"/></linearGradient><linearGradient id="g113" x1="0" y1="0" x2="0" y2="1"><stop offset="0" stop-color="#2d9666"/><stop offset="0.036" stop-color="#3c9e66"/><stop offset="0.071" stop-color="#4ba566"/><stop offset="0.107" stop-color="#58ab66"/><stop offset="0.143" stop-color="#68b366"/><stop offset="0.179" stop-color="#79bc66"/><stop offset="0.214" stop-color="#8ac466"/><stop offset="0.25" stop-color="#9ccd66"/><stop offset="0.286" stop-color="#add666"/><stop offset="0.321" stop-color="#bdde66"/><stop offset="0.357" stop-color="#c6e366"/><stop offset="0.393" stop-color="#cde666"/><stop offset="0.429" stop-color="#d3e966"/><stop offset="0.464" stop-color="#d7eb66"/><stop offset="0.5" stop-color="#d9ec66"/><stop offset="0.536" stop-color="#d7eb66"/><stop offset="0.571" stop-color="#d3e966"/><stop offset="0.607" stop-color="#cde666"/><stop offset="0.643" stop-color="#c6e366"/><stop offset="0.679" stop-color="#bdde66"/><stop offset="0.714" stop-color="#add666"/><stop offset="0.75" stop-color="#9ccd66"/><stop offset="0.786" stop-color="#8ac466"/><stop offset="0.821" stop-color="#79bc66"/><stop offset="0.857" stop-color="#68b366"/><stop offset="0.893" stop-color="#58ab66"/><stop offset="0.929" stop-color="#4ba566"/><stop offset="0.964" stop-color="#3c9e66"/><stop offset="1" stop-color="#2d9666"/></linearGradient><linearGradient id="g114" x1="0" y1="0" x2="0" y2="1"><stop offset="0" stop-color="#2d9666"/><stop offset="0.036" stop-color="#3c9e66"/><stop offset="0.071" stop-color="#4ba566"/><stop offset="0.107" stop-color="#59ac66"/><stop offset="0.143" stop-color="#68b466"/><stop offset="0.179" stop-color="#7bbd66"/><stop offset="0.214" stop-color="#8bc566"/><stop offset="0.25" stop-color="#9cce66"/><stop offset="0.286" stop-color="#aed766"/><stop offset="0.321" stop-color="#bdde66"/><stop offset="0.357" stop-color="#c7e366"/><stop offset="0.393" stop-color="#cde666"/><stop offset="0.429" stop-color="#d3e966"/><stop offset="0.464" stop-color="#d7eb66"/><stop offset="0.5" stop-color="#d9ec66"/><stop offset="0.536" stop-color="#d7eb66"/><stop offset="0.571" stop-color="#d3e966"/><stop offset="0.607" stop-color="#cde666"/><stop offset="0.643" stop-color="#c7e366"/><stop offset="0.679" stop-color="#bdde66"/><stop offset="0.714" stop-color="#aed766"/><stop offset="0.75" stop-color="#9cce66"/><stop offset="0.786" stop-color="#8bc566"/><stop offset="0.821" stop-color="#7bbd66"/><stop offset="0.857" stop-color="#68b466"/><stop offset="0.893" stop-color="#59ac66"/><stop offset="0.929" stop-color="#4ba566"/><stop offset="0.964" stop-color="#3c9e66"/><stop offset="1" stop-color="#2d9666"/></linearGradient><linearGradient id="g115" x1="0" y1="0" x2="0" y2="1"><stop offset="0" stop-color="#2d9666"/><stop offset="0.036" stop-color="#3c9e66"/><stop offset="0.071" stop-color="#4ba566"/><stop offset="0.107" stop-color="#59ac66"/><stop offset="0.143" stop-color="#68b366"/><stop offset="0.179" stop-color="#7cbd66"/><stop offset="0.214" stop-color="#8cc566"/><stop offset="0.25" stop-color="#9dce66"/><stop offset="0.286" stop-color="#afd766"/><stop offset="0.321" stop-color="#bede66"/><stop offset="0.357" stop-color="#c7e366"/><stop offset="0.393" stop-color="#cee666"/><stop offset="0.429" stop-color="#d3e966"/><stop offset="0.464" stop-color="#d7eb66"/><stop offset="0.5" stop-color="#d9ec66"/><stop offset="0.536" stop-color="#d7eb66"/><stop offset="0.571" stop-color="#d3e966"/><stop offset="0.607" stop-color="#cee666"/><stop offset="0.643" stop-color="#c7e366"/><stop offset="0.679" stop-color="#bede66"/><stop offset="0.714" stop-color="#afd766"/><stop offset="0.75" stop-color="#9dce66"/><stop offset="0.786" stop-color="#8cc566"/><stop offset="0.821" stop-color="#7cbd66"/><stop offset="0.857" stop-color="#68b366"/><stop offset="0.893" stop-color="#59ac66"/><stop offset="0.929" stop-color="#4ba566"/><stop offset="0.964" stop-color="#3c9e66"/><stop offset="1" stop-color="#2d9666"/></linearGradient><linearGradient id="g116" x1="0" y1="0" x2="0" y2="1"><stop offset="0" stop-color="#2d9666"/><stop offset="0.036" stop-color="#3c9e66"/><stop offset="0.071" stop-color="#4ba566"/><stop offset="0.107" stop-color="#59ac66"/><stop offset="0.143" stop-color="#66b366"/><stop offset="0.179" stop-color="#7cbd66"/><stop offset="0.214" stop-color="#8cc666"/><stop offset="0.25" stop-color="#9ece66"/><stop offset="0.286" stop-color="#afd766"/><stop offset="0.321" stop-color="#bede66"/><stop offset="0.357" stop-color="#c7e366"/><stop offset="0.393" stop-color="#cee666"/><stop offset="0.429" stop-color="#d3e966"/><stop offset="0.464" stop-color="#d7eb66"/><stop offset="0.5" stop-color="#d9ec66"/><stop offset="0.536" stop-color="#d7eb66"/><stop offset="0.571" stop-color="#d3e966"/><stop offset="0.607" stop-color="#cee666"/><stop offset="0.643" stop-color="#c7e366"/><stop offset="0.679" stop-color="#bede66"/><stop offset="0.714" stop-color="#afd766"/><stop offset="0.75" stop-color="#9ece66"/><stop offset="0.786" stop-color="#8cc666"/><stop offset="0.821" stop-color="#7cbd66"/><stop offset="0.857" stop-color="#66b366"/><stop offset="0.893" stop-color="#59ac66"/><stop offset="0.929" stop-color="#4ba566"/><stop offset="0.964" stop-color="#3c9e66"/><stop offset="1" stop-color="#2d9666"/></linearGradient><linearGradient id="g117" x1="0" y1="0" x2="0" y2="1"><stop offset="0" stop-color="#2d9666"/><stop offset="0.036" stop-color="#3c9e66"/><stop offset="0.071" stop-color="#4ba566"/><stop offset="0.107" stop-color="#59ac66"/><stop offset="0.143" stop-color="#65b266"/><stop offset="0.179" stop-color="#78bc66"/><stop offset="0.214" stop-color="#8cc666"/><stop offset="0.25" stop-color="#9ece66"/><stop offset="0.286" stop-color="#afd766"/><stop offset="0.321" stop-color="#bede66"/><stop offset="0.357" stop-color="#c7e366"/><stop offset="0.393" stop-color="#cee666"/><stop offset="0.429" stop-color="#d3e966"/><stop offset="0.464" stop-color="#d7eb66"/><stop offset="0.5" stop-color="#d9ec66"/><stop offset="0.536" stop-color="#d7eb66"/><stop offset="0.571" stop-color="#d3e966"/><stop offset="0.607" stop-color="#cee666"/><stop offset="0.643" stop-color="#c7e366"/><stop offset="0.679" stop-color="#bede66"/><stop offset="0.714" stop-color="#afd766"/><stop offset="0.75" stop-color="#9ece66"/><stop offset="0.786" stop-color="#8cc666"/><stop offset="0.821" stop-color="#78bc66"/><stop offset="0.857" stop-color="#65b266"/><stop offset="0.893" stop-color="#59ac66"/><stop offset="0.929" stop-color="#4ba566"/><stop offset="0.964" stop-color="#3c9e66"/><stop offset="1" stop-color="#2d9666"/></linearGradient><linearGradient id="g118" x1="0" y1="0" x2="0" y2="1"><stop offset="0" stop-color="#2d9666"/><stop offset="0.036" stop-color="#3c9e66"/><stop offset="0.071" stop-color="#4ba566"/><stop offset="0.107" stop-color="#59ac66"/><stop offset="0.143" stop-color="#65b266"/><stop offset="0.179" stop-color="#75ba66"/><stop offset="0.214" stop-color="#8cc666"/><stop offset="0.25" stop-color="#9ece66"/><stop offset="0.286" stop-color="#afd766"/><stop offset="0.321" stop-color="#bede66"/><stop offset="0.357" stop-color="#c7e366"/><stop offset="0.393" stop-color="#cee666"/><stop offset="0.429" stop-color="#d3e966"/><stop offset="0.464" stop-color="#d7eb66"/><stop offset="0.5" stop-color="#d9ec66"/><stop offset="0.536" stop-color="#d7eb66"/><stop offset="0.571" stop-color="#d3e966"/><stop offset="0.607" stop-color="#cee666"/><stop offset="0.643" stop-color="#c7e366"/><stop offset="0.679" stop-color="#bede66"/><stop offset="0.714" stop-color="#afd766"/><stop offset="0.75" stop-color="#9ece66"/><stop offset="0.786" stop-color="#8cc666"/><stop offset="0.821" stop-color="#75ba66"/><stop offset="0.857" stop-color="#65b266"/><stop offset="0.893" stop-color="#59ac66"/><stop offset="0.929" stop-color="#4ba566"/><stop offset="0.964" stop-color="#3c9e66"/><stop offset="1" stop-color="#2d9666"/></linearGradient><linearGradient id="g119" x1="0" y1="0" x2="0" y2="1"><stop offset="0" stop-color="#2d9666"/><stop offset="0.036" stop-color="#3c9e66"/><stop offset="0.071" stop-color="#4ba566"/><stop offset="0.107" stop-color="#59ac66"/><stop offset="0.143" stop-color="#65b266"/><stop offset="0.179" stop-color="#72b866"/><stop offset="0.214" stop-color="#8ac466"/><stop offset="0.25" stop-color="#9ece66"/><stop offset="0.286" stop-color="#afd766"/><stop offset="0.321" stop-color="#bede66"/><stop offset="0.357" stop-color="#c7e366"/><stop offset="0.393" stop-color="#cee666"/><stop offset="0.429" stop-color="#d3e966"/><stop offset="0.464" stop-color="#d7eb66"/><stop offset="0.5" stop-color="#d9ec66"/><stop offset="0.536" stop-color="#d7eb66"/><stop offset="0.571" stop-color="#d3e966"/><stop offset="0.607" stop-color="#cee666"/><stop offset="0.643" stop-color="#c7e366"/><stop offset="0.679" stop-color="#bede66"/><stop offset="0.714" stop-color="#afd766"/><stop offset="0.75" stop-color="#9ece66"/><stop offset="0.786" stop-color="#8ac466"/><stop offset="0.821" stop-color="#72b866"/><stop offset="0.857" stop-color="#65b266"/><stop offset="0.893" stop-color="#59ac66"/><stop offset="0.929" stop-color="#4ba566"/><stop offset="0.964" stop-color="#3c9e66"/><stop offset="1" stop-color="#2d9666"/></linearGradient><linearGradient id="g120" x1="0" y1="0" x2="0" y2="1"><stop offset="0" stop-color="#2d9666"/><stop offset="0.036" stop-color="#3c9e66"/><stop offset="0.071" stop-color="#4ba566"/><stop offset="0.107" stop-color="#59ac66"/><stop offset="0.143" stop-color="#65b266"/><stop offset="0.179" stop-color="#70b766"/><stop offset="0.214" stop-color="#85c266"/><stop offset="0.25" stop-color="#9ece66"/><stop offset="0.286" stop-color="#afd766"/><stop offset="0.321" stop-color="#bede66"/><stop offset="0.357" stop-color="#c7e366"/><stop offset="0.393" stop-color="#cee666"/><stop offset="0.429" stop-color="#d3e966"/><stop offset="0.464" stop-color="#d7eb66"/><stop offset="0.5" stop-color="#d9ec66"/><stop offset="0.536" stop-color="#d7eb66"/><stop offset="0.571" stop-color="#d3e966"/><stop offset="0.607" stop-color="#cee666"/><stop offset="0.643" stop-color="#c7e366"/><stop offset="0.679" stop-color="#bede66"/><stop offset="0.714" stop-color="#afd766"/><stop offset="0.75" stop-color="#9ece66"/><stop offset="0.786" stop-color="#85c266"/><stop offset="0.821" stop-color="#70b766"/><stop offset="0.857" stop-color="#65b266"/><stop offset="0.893" stop-color="#59ac66"/><stop offset="0.929" stop-color="#4ba566"/><stop offset="0.964" stop-color="#3c9e66"/><stop offset="1" stop-color="#2d9666"/></linearGradient><linearGradient id="g121" x1="0" y1="0" x2="0" y2="1"><stop offset="0" stop-color="#2d9666"/><stop offset="0.036" stop-color="#3c9e66"/><stop offset="0.071" stop-color="#4ba566"/><stop offset="0.107" stop-color="#59ac66"/><stop offset="0.143" stop-color="#65b266"/><stop offset="0.179" stop-color="#70b766"/><stop offset="0.214" stop-color="#80bf66"/><stop offset="0.25" stop-color="#9ece66"/><stop offset="0.286" stop-color="#afd766"/><stop offset="0.321" stop-color="#bede66"/><stop offset="0.357" stop-color="#c7e366"/><stop offset="0.393" stop-color="#cee666"/><stop offset="0.429" stop-color="#d3e966"/><stop offset="0.464" stop-color="#d7eb66"/><stop offset="0.5" stop-color="#d9ec66"/><stop offset="0.536" stop-color="#d7eb66"/><stop offset="0.571" stop-color="#d3e966"/><stop offset="0.607" stop-color="#cee666"/><stop offset="0.643" stop-color="#c7e366"/><stop offset="0.679" stop-color="#bede66"/><stop offset="0.714" stop-color="#afd766"/><stop offset="0.75" stop-color="#9ece66"/><stop offset="0.786" stop-color="#80bf66"/><stop offset="0.821" stop-color="#70b766"/><stop offset="0.857" stop-color="#65b266"/><stop offset="0.893" stop-color="#59ac66"/><stop offset="0.929" stop-color="#4ba566"/><stop offset="0.964" stop-color="#3c9e66"/><stop offset="1" stop-color="#2d9666"/></linearGradient><linearGradient id="g122" x1="0" y1="0" x2="0" y2="1"><stop offset="0" stop-color="#2d9666"/><stop offset="0.036" stop-color="#3c9e66"/><stop offset="0.071" stop-color="#4ba566"/><stop offset="0.107" stop-color="#59ac66"/><stop offset="0.143" stop-color="#65b266"/><stop offset="0.179" stop-color="#70b766"/><stop offset="0.214" stop-color="#7bbd66"/><stop offset="0.25" stop-color="#98cc66"/><stop offset="0.286" stop-color="#afd766"/><stop offset="0.321" stop-color="#bede66"/><stop offset="0.357" stop-color="#c7e366"/><stop offset="0.393" stop-color="#cee666"/><stop offset="0.429" stop-color="#d3e966"/><stop offset="0.464" stop-color="#d7eb66"/><stop offset="0.5" stop-color="#d9ec66"/><stop offset="0.536" stop-color="#d7eb66"/><stop offset="0.571" stop-color="#d3e966"/><stop offset="0.607" stop-color="#cee666"/><stop offset="0.643" stop-color="#c7e366"/><stop offset="0.679" stop-color="#bede66"/><stop offset="0.714" stop-color="#afd766"/><stop offset="0.75" stop-color="#98cc66"/><stop offset="0.786" stop-color="#7bbd66"/><stop offset="0.821" stop-color="#70b766"/><stop offset="0.857" stop-color="#65b266"/><stop offset="0.893" stop-color="#59ac66"/><stop offset="0.929" stop-color="#4ba566"/><stop offset="0.964" stop-color="#3c9e66"/><stop offset="1" stop-color="#2d9666"/></linearGradient><linearGradient id="g123" x1="0" y1="0" x2="0" y2="1"><stop offset="0" stop-color="#2d9666"/><stop offset="0.036" stop-color="#3c9e66"/><stop offset="0.071" stop-color="#4ba566"/><stop offset="0.107" stop-color="#59ac66"/><stop offset="0.143" stop-color="#65b266"/><stop offset="0.179" stop-color="#70b766"/><stop offset="0.214" stop-color="#7abc66"/><stop offset="0.25" stop-color="#91c866"/><stop offset="0.286" stop-color="#afd766"/><stop offset="0.321" stop-color="#bede66"/><stop offset="0.357" stop-color="#c7e366"/><stop offset="0.393" stop-color="#cee666"/><stop offset="0.429" stop-color="#d3e966"/><stop offset="0.464" stop-color="#d7eb66"/><stop offset="0.5" stop-color="#d9ec66"/><stop offset="0.536" stop-color="#d7eb66"/><stop offset="0.571" stop-color="#d3e966"/><stop offset="0.607" stop-color="#cee666"/><stop offset="0.643" stop-color="#c7e366"/><stop offset="0.679" stop-color="#bede66"/><stop offset="0.714" stop-color="#afd766"/><stop offset="0.75" stop-color="#91c866"/><stop offset="0.786" stop-color="#7abc66"/><stop offset="0.821" stop-color="#70b766"/><stop offset="0.857" stop-color="#65b266"/><stop offset="0.893" stop-color="#59ac66"/><stop offset="0.929" stop-color="#4ba566"/><stop offset="0.964" stop-color="#3c9e66"/><stop offset="1" stop-color="#2d9666"/></linearGradient><linearGradient id="g124" x1="0" y1="0" x2="0" y2="1"><stop offset="0" stop-color="#2d9666"/><stop offset="0.036" stop-color="#3c9e66"/><stop offset="0.071" stop-color="#4ba566"/><stop offset="0.107" stop-color="#59ac66"/><stop offset="0.143" stop-color="#65b266"/><stop offset="0.179" stop-color="#70b766"/><stop offset="0.214" stop-color="#7abc66"/><stop offset="0.25" stop-color="#8bc566"/><stop offset="0.286" stop-color="#afd766"/><stop offset="0.321" stop-color="#bede66"/><stop offset="0.357" stop-color="#c7e366"/><stop offset="0.393" stop-color="#cee666"/><stop offset="0.429" stop-color="#d3e966"/><stop offset="0.464" stop-color="#d7eb66"/><stop offset="0.5" stop-color="#d9ec66"/><stop offset="0.536" stop-color="#d7eb66"/><stop offset="0.571" stop-color="#d3e966"/><stop offset="0.607" stop-color="#cee666"/><stop offset="0.643" stop-color="#c7e366"/><stop offset="0.679" stop-color="#bede66"/><stop offset="0.714" stop-color="#afd766"/><stop offset="0.75" stop-color="#8bc566"/><stop offset="0.786" stop-color="#7abc66"/><stop offset="0.821" stop-color="#70b766"/><stop offset="0.857" stop-color="#65b266"/><stop offset="0.893" stop-color="#59ac66"/><stop offset="0.929" stop-color="#4ba566"/><stop offset="0.964" stop-color="#3c9e66"/><stop offset="1" stop-color="#2d9666"/></linearGradient><linearGradient id="g125" x1="0" y1="0" x2="0" y2="1"><stop offset="0" stop-color="#2d9666"/><stop offset="0.036" stop-color="#3c9e66"/><stop offset="0.071" stop-color="#4ba566"/><stop offset="0.107" stop-color="#59ac66"/><stop offset="0.143" stop-color="#65b266"/><stop offset="0.179" stop-color="#70b766"/><stop offset="0.214" stop-color="#7abc66"/><stop offset="0.25" stop-color="#84c166"/><stop offset="0.286" stop-color="#a6d366"/><stop offset="0.321" stop-color="#bede66"/><stop offset="0.357" stop-color="#c7e366"/><stop offset="0.393" stop-color="#cee666"/><stop offset="0.429" stop-color="#d3e966"/><stop offset="0.464" stop-color="#d7eb66"/><stop offset="0.5" stop-color="#d9ec66"/><stop offset="0.536" stop-color="#d7eb66"/><stop offset="0.571" stop-color="#d3e966"/><stop offset="0.607" stop-color="#cee666"/><stop offset="0.643" stop-color="#c7e366"/><stop offset="0.679" stop-color="#bede66"/><stop offset="0.714" stop-color="#a6d366"/><stop offset="0.75" stop-color="#84c166"/><stop offset="0.786" stop-color="#7abc66"/><stop offset="0.821" stop-color="#70b766"/><stop offset="0.857" stop-color="#65b266"/><stop offset="0.893" stop-color="#59ac66"/><stop offset="0.929" stop-color="#4ba566"/><stop offset="0.964" stop-color="#3c9e66"/><stop offset="1" stop-color="#2d9666"/></linearGradient><linearGradient id="g126" x1="0" y1="0" x2="0" y2="1"><stop offset="0" stop-color="#2d9666"/><stop offset="0.036" stop-color="#3c9e66"/><stop offset="0.071" stop-color="#4ba566"/><stop offset="0.107" stop-color="#59ac66"/><stop offset="0.143" stop-color="#65b266"/><stop offset="0.179" stop-color="#70b766"/><stop offset="0.214" stop-color="#7abc66"/><stop offset="0.25" stop-color="#83c166"/><stop offset="0.286" stop-color="#9dce66"/><stop offset="0.321" stop-color="#bede66"/><stop offset="0.357" stop-color="#c7e366"/><stop offset="0.393" stop-color="#cee666"/><stop offset="0.429" stop-color="#d3e966"/><stop offset="0.464" stop-color="#d7eb66"/><stop offset="0.5" stop-color="#d9ec66"/><stop offset="0.536" stop-color="#d7eb66"/><stop offset="0.571" stop-color="#d3e966"/><stop offset="0.607" stop-color="#cee666"/><stop offset="0.643" stop-color="#c7e366"/><stop offset="0.679" stop-color="#bede66"/><stop offset="0.714" stop-color="#9dce66"/><stop offset="0.75" stop-color="#83c166"/><stop offset="0.786" stop-color="#7abc66"/><stop offset="0.821" stop-color="#70b766"/><stop offset="0.857" stop-color="#65b266"/><stop offset="0.893" stop-color="#59ac66"/><stop offset="0.929" stop-color="#4ba566"/><stop offset="0.964" stop-color="#3c9e66"/><stop offset="1" stop-color="#2d9666"/></linearGradient><linearGradient id="g127" x1="0" y1="0" x2="0" y2="1"><stop offset="0" stop-color="#2d9666"/><stop offset="0.036" stop-color="#3c9e66"/><stop offset="0.071" stop-color="#4ba566"/><stop offset="0.107" stop-color="#59ac66"/><stop offset="0.143" stop-color="#65b266"/><stop offset="0.179" stop-color="#70b766"/><stop offset="0.214" stop-color="#7abc66"/><stop offset="0.25" stop-color="#83c166"/><stop offset="0.286" stop-color="#93c966"/><stop offset="0.321" stop-color="#bcdd66"/><stop offset="0.357" stop-color="#c7e366"/><stop offset="0.393" stop-color="#cee666"/><stop offset="0.429" stop-color="#d3e966"/><stop offset="0.464" stop-color="#d7eb66"/><stop offset="0.5" stop-color="#d9ec66"/><stop offset="0.536" stop-color="#d7eb66"/><stop offset="0.571" stop-color="#d3e966"/><stop offset="0.607" stop-color="#cee666"/><stop offset="0.643" stop-color="#c7e366"/><stop offset="0.679" stop-color="#bcdd66"/><stop offset="0.714" stop-color="#93c966"/><stop offset="0.75" stop-color="#83c166"/><stop offset="0.786" stop-color="#7abc66"/><stop offset="0.821" stop-color="#70b766"/><stop offset="0.857" stop-color="#65b266"/><stop offset="0.893" stop-color="#59ac66"/><stop offset="0.929" stop-color="#4ba566"/><stop offset="0.964" stop-color="#3c9e66"/><stop offset="1" stop-color="#2d9666"/></linearGradient><linearGradient id="g128" x1="0" y1="0" x2="0" y2="1"><stop offset="0" stop-color="#2d9666"/><stop offset="0.036" stop-color="#3c9e66"/><stop offset="0.071" stop-color="#4ba566"/><stop offset="0.107" stop-color="#59ac66"/><stop offset="0.143" stop-color="#65b266"/><stop offset="0.179" stop-color="#70b766"/><stop offset="0.214" stop-color="#7abc66"/><stop offset="0.25" stop-color="#83c166"/><stop offset="0.286" stop-color="#8ac566"/><stop offset="0.321" stop-color="#afd766"/><stop offset="0.357" stop-color="#c7e366"/><stop offset="0.393" stop-color="#cee666"/><stop offset="0.429" stop-color="#d3e966"/><stop offset="0.464" stop-color="#d7eb66"/><stop offset="0.5" stop-color="#d9ec66"/><stop offset="0.536" stop-color="#d7eb66"/><stop offset="0.571" stop-color="#d3e966"/><stop offset="0.607" stop-color="#cee666"/><stop offset="0.643" stop-color="#c7e366"/><stop offset="0.679" stop-color="#afd766"/><stop offset="0.714" stop-color="#8ac566"/><stop offset="0.75" stop-color="#83c166"/><stop offset="0.786" stop-color="#7abc66"/><stop offset="0.821" stop-color="#70b766"/><stop offset="0.857" stop-color="#65b266"/><stop offset="0.893" stop-color="#59ac66"/><stop offset="0.929" stop-color="#4ba566"/><stop offset="0.964" stop-color="#3c9e66"/><stop offset="1" stop-color="#2d9666"/></linearGradient><linearGradient id="g129" x1="0" y1="0" x2="0" y2="1"><stop offset="0" stop-color="#2d9666"/><stop offset="0.036" stop-color="#3c9e66"/><stop offset="0.071" stop-color="#4ba566"/><stop offset="0.107" stop-color="#59ac66"/><stop offset="0.143" stop-color="#65b266"/><stop offset="0.179" stop-color="#70b766"/><stop offset="0.214" stop-color="#7abc66"/><stop offset="0.25" stop-color="#83c166"/><stop offset="0.286" stop-color="#8ac566"/><stop offset="0.321" stop-color="#a3d166"/><stop offset="0.357" stop-color="#c7e366"/><stop offset="0.393" stop-color="#cee666"/><stop offset="0.429" stop-color="#d3e966"/><stop offset="0.464" stop-color="#d7eb66"/><stop offset="0.5" stop-color="#d9ec66"/><stop offset="0.536" stop-color="#d7eb66"/><stop offset="0.571" stop-color="#d3e966"/><stop offset="0.607" stop-color="#cee666"/><stop offset="0.643" stop-color="#c7e366"/><stop offset="0.679" stop-color="#a3d166"/><stop offset="0.714" stop-color="#8ac566"/><stop offset="0.75" stop-color="#83c166"/><stop offset="0.786" stop-color="#7abc66"/><stop offset="0.821" stop-color="#70b766"/><stop offset="0.857" stop-color="#65b266"/><stop offset="0.893" stop-color="#59ac66"/><stop offset="0.929" stop-color="#4ba566"/><stop offset="0.964" stop-color="#3c9e66"/><stop offset="1" stop-color="#2d9666"/></linearGradient><linearGradient id="g130" x1="0" y1="0" x2="0" y2="1"><stop offset="0" stop-color="#2d9666"/><stop offset="0.036" stop-color="#3c9e66"/><stop offset="0.071" stop-color="#4ba566"/><stop offset="0.107" stop-color="#59ac66"/><stop offset="0.143" stop-color="#65b266"/><stop offset="0.179" stop-color="#70b766"/><stop offset="0.214" stop-color="#7abc66"/><stop offset="0.25" stop-color="#83c166"/><stop offset="0.286" stop-color="#8ac566"/><stop offset="0.321" stop-color="#97cb66"/><stop offset="0.357" stop-color="#bfdf66"/><stop offset="0.393" stop-color="#cee666"/><stop offset="0.429" stop-color="#d3e966"/><stop offset="0.464" stop-color="#d7eb66"/><stop offset="0.5" stop-color="#d9ec66"/><stop offset="0.536" stop-color="#d7eb66"/><stop offset="0.571" stop-color="#d3e966"/><stop offset="0.607" stop-color="#cee666"/><stop offset="0.643" stop-color="#bfdf66"/><stop offset="0.679" stop-color="#97cb66"/><stop offset="0.714" stop-color="#8ac566"/><stop offset="0.75" stop-color="#83c166"/><stop offset="0.786" stop-color="#7abc66"/><stop offset="0.821" stop-color="#70b766"/><stop offset="0.857" stop-color="#65b266"/><stop offset="0.893" stop-color="#59ac66"/><stop offset="0.929" stop-color="#4ba566"/><stop offset="0.964" stop-color="#3c9e66"/><stop offset="1" stop-color="#2d9666"/></linearGradient><linearGradient id="g131" x1="0" y1="0" x2="0" y2="1"><stop offset="0" stop-color="#2d9666"/><stop offset="0.036" stop-color="#3c9e66"/><stop offset="0.071" stop-color="#4ba566"/><stop offset="0.107" stop-color="#59ac66"/><stop offset="0.143" stop-color="#65b266"/><stop offset="0.179" stop-color="#70b766"/><stop offset="0.214" stop-color="#7abc66"/><stop offset="0.25" stop-color="#83c166"/><stop offset="0.286" stop-color="#8ac566"/><stop offset="0.321" stop-color="#91c866"/><stop offset="0.357" stop-color="#b2d866"/><stop offset="0.393" stop-color="#cee666"/><stop offset="0.429" stop-color="#d3e966"/><stop offset="0.464" stop-color="#d7eb66"/><stop offset="0.5" stop-color="#d9ec66"/><stop offset="0.536" stop-color="#d7eb66"/><stop offset="0.571" stop-color="#d3e966"/><stop offset="0.607" stop-color="#cee666"/><stop offset="0.643" stop-color="#b2d866"/><stop offset="0.679" stop-color="#91c866"/><stop offset="0.714" stop-color="#8ac566"/><stop offset="0.75" stop-color="#83c166"/><stop offset="0.786" stop-color="#7abc66"/><stop offset="0.821" stop-color="#70b766"/><stop offset="0.857" stop-color="#65b266"/><stop offset="0.893" stop-color="#59ac66"/><stop offset="0.929" stop-color="#4ba566"/><stop offset="0.964" stop-color="#3c9e66"/><stop offset="1" stop-color="#2d9666"/></linearGradient><linearGradient id="g132" x1="0" y1="0" x2="0" y2="1"><stop offset="0" stop-color="#2d9666"/><stop offset="0.036" stop-color="#3c9e66"/><stop offset="0.071" stop-color="#4ba566"/><stop offset="0.107" stop-color="#59ac66"/><stop offset="0.143" stop-color="#65b266"/><stop offset="0.179" stop-color="#70b766"/><stop offset="0.214" stop-color="#7abc66"/><stop offset="0.25" stop-color="#83c166"/><stop offset="0.286" stop-color="#8ac566"/><stop offset="0.321" stop-color="#91c866"/><stop offset="0.357" stop-color="#a3d166"/><stop offset="0.393" stop-color="#cde666"/><stop offset="0.429" stop-color="#d3e966"/><stop offset="0.464" stop-color="#d7eb66"/><stop offset="0.5" stop-color="#d9ec66"/><stop offset="0.536" stop-color="#d7eb66"/><stop offset="0.571" stop-color="#d3e966"/><stop offset="0.607" stop-color="#cde666"/><stop offset="0.643" stop-color="#a3d166"/><stop offset="0.679" stop-color="#91c866"/><stop offset="0.714" stop-color="#8ac566"/><stop offset="0.75" stop-color="#83c166"/><stop offset="0.786" stop-color="#7abc66"/><stop offset="0.821" stop-color="#70b766"/><stop offset="0.857" stop-color="#65b266"/><stop offset="0.893" stop-color="#59ac66"/><stop offset="0.929" stop-color="#4ba566"/><stop offset="0.964" stop-color="#3c9e66"/><stop offset="1" stop-color="#2d9666"/></linearGradient><linearGradient id="g133" x1="0" y1="0" x2="0" y2="1"><stop offset="0" stop-color="#2d9666"/><stop offset="0.036" stop-color="#3c9e66"/><stop offset="0.071" stop-color="#4ba566"/><stop offset="0.107" stop-color="#59ac66"/><stop offset="0.143" stop-color="#65b266"/><stop offset="0.179" stop-color="#70b766"/><stop offset="0.214" stop-color="#7abc66"/><stop offset="0.25" stop-color="#83c166"/><stop offset="0.286" stop-color="#8ac566"/><stop offset="0.321" stop-color="#91c866"/><stop offset="0.357" stop-color="#96cb66"/><stop offset="0.393" stop-color="#bdde66"/><stop offset="0.429" stop-color="#d3e966"/><stop offset="0.464" stop-color="#d7eb66"/><stop offset="0.5" stop-color="#d9ec66"/><stop offset="0.536" stop-color="#d7eb66"/><stop offset="0.571" stop-color="#d3e966"/><stop offset="0.607" stop-color="#bdde66"/><stop offset="0.643" stop-color="#96cb66"/><stop offset="0.679" stop-color="#91c866"/><stop offset="0.714" stop-color="#8ac566"/><stop offset="0.75" stop-color="#83c166"/><stop offset="0.786" stop-color="#7abc66"/><stop offset="0.821" stop-color="#70b766"/><stop offset="0.857" stop-color="#65b266"/><stop offset="0.893" stop-color="#59ac66"/><stop offset="0.929" stop-color="#4ba566"/><stop offset="0.964" stop-color="#3c9e66"/><stop offset="1" stop-color="#2d9666"/></linearGradient><linearGradient id="g134" x1="0" y1="0" x2="0" y2="1"><stop offset="0" stop-color="#2b9566"/><stop offset="0.036" stop-color="#3c9d66"/><stop offset="0.071" stop-color="#4ba566"/><stop offset="0.107" stop-color="#59ac66"/><stop offset="0.143" stop-color="#65b266"/><stop offset="0.179" stop-color="#70b766"/><stop offset="0.214" stop-color="#7abc66"/><stop offset="0.25" stop-color="#83c166"/><stop offset="0.286" stop-color="#8ac566"/><stop offset="0.321" stop-color="#91c866"/><stop offset="0.357" stop-color="#96cb66"/><stop offset="0.393" stop-color="#abd566"/><stop offset="0.429" stop-color="#d3e966"/><stop offset="0.464" stop-color="#d7eb66"/><stop offset="0.5" stop-color="#d9ec66"/><stop offset="0.536" stop-color="#d7eb66"/><stop offset="0.571" stop-color="#d3e966"/><stop offset="0.607" stop-color="#abd566"/><stop offset="0.643" stop-color="#96cb66"/><stop offset="0.679" stop-color="#91c866"/><stop offset="0.714" stop-color="#8ac566"/><stop offset="0.75" stop-color="#83c166"/><stop offset="0.786" stop-color="#7abc66"/><stop offset="0.821" stop-color="#70b766"/><stop offset="0.857" stop-color="#65b266"/><stop offset="0.893" stop-color="#59ac66"/><stop offset="0.929" stop-color="#4ba566"/><stop offset="0.964" stop-color="#3c9d66"/><stop offset="1" stop-color="#2b9566"/></linearGradient><linearGradient id="g135" x1="0" y1="0" x2="0" y2="1"><stop offset="0" stop-color="#279366"/><stop offset="0.036" stop-color="#399c66"/><stop offset="0.071" stop-color="#4aa466"/><stop offset="0.107" stop-color="#58ac66"/><stop offset="0.143" stop-color="#65b266"/><stop offset="0.179" stop-color="#70b766"/><stop offset="0.214" stop-color="#7abc66"/><stop offset="0.25" stop-color="#83c166"/><stop offset="0.286" stop-color="#8ac566"/><stop offset="0.321" stop-color="#91c866"/><stop offset="0.357" stop-color="#96cb66"/><stop offset="0.393" stop-color="#9acd66"/><stop offset="0.429" stop-color="#c1e066"/><stop offset="0.464" stop-color="#d7eb66"/><stop offset="0.5" stop-color="#d9ec66"/><stop offset="0.536" stop-color="#d7eb66"/><stop offset="0.571" stop-color="#c1e066"/><stop offset="0.607" stop-color="#9acd66"/><stop offset="0.643" stop-color="#96cb66"/><stop offset="0.679" stop-color="#91c866"/><stop offset="0.714" stop-color="#8ac566"/><stop offset="0.75" stop-color="#83c166"/><stop offset="0.786" stop-color="#7abc66"/><stop offset="0.821" stop-color="#70b766"/><stop offset="0.857" stop-color="#65b266"/><stop offset="0.893" stop-color="#58ac66"/><stop offset="0.929" stop-color="#4aa466"/><stop offset="0.964" stop-color="#399c66"/><stop offset="1" stop-color="#279366"/></linearGradient><linearGradient id="g136" x1="0" y1="0" x2="0" y2="1"><stop offset="0" stop-color="#229166"/><stop offset="0.036" stop-color="#369b66"/><stop offset="0.071" stop-color="#49a466"/><stop offset="0.107" stop-color="#58ac66"/><stop offset="0.143" stop-color="#65b266"/><stop offset="0.179" stop-color="#70b766"/><stop offset="0.214" stop-color="#7abc66"/><stop offset="0.25" stop-color="#83c166"/><stop offset="0.286" stop-color="#8ac566"/><stop offset="0.321" stop-color="#91c866"/><stop offset="0.357" stop-color="#96cb66"/><stop offset="0.393" stop-color="#9acd66"/><stop offset="0.429" stop-color="#a8d466"/><stop offset="0.464" stop-color="#d3e966"/><stop offset="0.5" stop-color="#d9ec66"/><stop offset="0.536" stop-color="#d3e966"/><stop offset="0.571" stop-color="#a8d466"/><stop offset="0.607" stop-color="#9acd66"/><stop offset="0.643" stop-color="#96cb66"/><stop offset="0.679" stop-color="#91c866"/><stop offset="0.714" stop-color="#8ac566"/><stop offset="0.75" stop-color="#83c166"/><stop offset="0.786" stop-color="#7abc66"/><stop offset="0.821" stop-color="#70b766"/><stop offset="0.857" stop-color="#65b266"/><stop offset="0.893" stop-color="#58ac66"/><stop offset="0.929" stop-color="#49a466"/><stop offset="0.964" stop-color="#369b66"/><stop offset="1" stop-color="#229166"/></linearGradient><linearGradient id="g137" x1="0" y1="0" x2="0" y2="1"><stop offset="0" stop-color="#1e8e66"/><stop offset="0.036" stop-color="#349966"/><stop offset="0.071" stop-color="#47a366"/><stop offset="0.107" stop-color="#58ac66"/><stop offset="0.143" stop-color="#65b266"/><stop offset="0.179" stop-color="#70b766"/><stop offset="0.214" stop-color="#7abc66"/><stop offset="0.25" stop-color="#83c166"/><stop offset="0.286" stop-color="#8ac566"/><stop offset="0.321" stop-color="#91c866"/><stop offset="0.357" stop-color="#96cb66"/><stop offset="0.393" stop-color="#9acd66"/><stop offset="0.429" stop-color="#9dce66"/><stop offset="0.464" stop-color="#b3d966"/><stop offset="0.5" stop-color="#d5ea66"/><stop offset="0.536" stop-color="#b3d966"/><stop offset="0.571" stop-color="#9dce66"/><stop offset="0.607" stop-color="#9acd66"/><stop offset="0.643" stop-color="#96cb66"/><stop offset="0.679" stop-color="#91c866"/><stop offset="0.714" stop-color="#8ac566"/><stop offset="0.75" stop-color="#83c166"/><stop offset="0.786" stop-color="#7abc66"/><stop offset="0.821" stop-color="#70b766"/><stop offset="0.857" stop-color="#65b266"/><stop offset="0.893" stop-color="#58ac66"/><stop offset="0.929" stop-color="#47a366"/><stop offset="0.964" stop-color="#349966"/><stop offset="1" stop-color="#1e8e66"/></linearGradient><linearGradient id="g138" x1="0" y1="0" x2="0" y2="1"><stop offset="0" stop-color="#198c66"/><stop offset="0.036" stop-color="#319866"/><stop offset="0.071" stop-color="#46a366"/><stop offset="0.107" stop-color="#58ac66"/><stop offset="0.143" stop-color="#65b266"/><stop offset="0.179" stop-color="#70b766"/><stop offset="0.214" stop-color="#7abc66"/><stop offset="0.25" stop-color="#83c166"/><stop offset="0.286" stop-color="#8ac566"/><stop offset="0.321" stop-color="#91c866"/><stop offset="0.357" stop-color="#96cb66"/><stop offset="0.393" stop-color="#9acd66"/><stop offset="0.429" stop-color="#9dce66"/><stop offset="0.464" stop-color="#9fcf66"/><stop offset="0.5" stop-color="#b2d966"/><stop offset="0.536" stop-color="#9fcf66"/><stop offset="0.571" stop-color="#9dce66"/><stop offset="0.607" stop-color="#9acd66"/><stop offset="0.643" stop-color="#96cb66"/><stop offset="0.679" stop-color="#91c866"/><stop offset="0.714" stop-color="#8ac566"/><stop offset="0.75" stop-color="#83c166"/><stop offset="0.786" stop-color="#7abc66"/><stop offset="0.821" stop-color="#70b766"/><stop offset="0.857" stop-color="#65b266"/><stop offset="0.893" stop-color="#58ac66"/><stop offset="0.929" stop-color="#46a366"/><stop offset="0.964" stop-color="#319866"/><stop offset="1" stop-color="#198c66"/></linearGradient><linearGradient id="g139" x1="0" y1="0" x2="0" y2="1"><stop offset="0" stop-color="#158a66"/><stop offset="0.036" stop-color="#2f9766"/><stop offset="0.071" stop-color="#45a266"/><stop offset="0.107" stop-color="#58ab66"/><stop offset="0.143" stop-color="#65b266"/><stop offset="0.179" stop-color="#70b766"/><stop offset="0.214" stop-color="#7abc66"/><stop offset="0.25" stop-color="#83c166"/><stop offset="0.286" stop-color="#8ac566"/><stop offset="0.321" stop-color="#91c866"/><stop offset="0.357" stop-color="#96cb66"/><stop offset="0.393" stop-color="#9acd66"/><stop offset="0.429" stop-color="#9dce66"/><stop offset="0.464" stop-color="#9fcf66"/><stop offset="0.5" stop-color="#9fcf66"/><stop offset="0.536" stop-color="#9fcf66"/><stop offset="0.571" stop-color="#9dce66"/><stop offset="0.607" stop-color="#9acd66"/><stop offset="0.643" stop-color="#96cb66"/><stop offset="0.679" stop-color="#91c866"/><stop offset="0.714" stop-color="#8ac566"/><stop offset="0.75" stop-color="#83c166"/><stop offset="0.786" stop-color="#7abc66"/><stop offset="0.821" stop-color="#70b766"/><stop offset="0.857" stop-color="#65b266"/><stop offset="0.893" stop-color="#58ab66"/><stop offset="0.929" stop-color="#45a266"/><stop offset="0.964" stop-color="#2f9766"/><stop offset="1" stop-color="#158a66"/></linearGradient><linearGradient id="g140" x1="0" y1="0" x2="0" y2="1"><stop offset="0" stop-color="#108866"/><stop offset="0.036" stop-color="#2c9566"/><stop offset="0.071" stop-color="#44a266"/><stop offset="0.107" stop-color="#58ab66"/><stop offset="0.143" stop-color="#65b266"/><stop offset="0.179" stop-color="#70b766"/><stop offset="0.214" stop-color="#7abc66"/><stop offset="0.25" stop-color="#83c166"/><stop offset="0.286" stop-color="#8ac566"/><stop offset="0.321" stop-color="#91c866"/><stop offset="0.357" stop-color="#96cb66"/><stop offset="0.393" stop-color="#9acd66"/><stop offset="0.429" stop-color="#9dce66"/><stop offset="0.464" stop-color="#9fcf66"/><stop offset="0.5" stop-color="#9fcf66"/><stop offset="0.536" stop-color="#9fcf66"/><stop offset="0.571" stop-color="#9dce66"/><stop offset="0.607" stop-color="#9acd66"/><stop offset="0.643" stop-color="#96cb66"/><stop offset="0.679" stop-color="#91c866"/><stop offset="0.714" stop-color="#8ac566"/><stop offset="0.75" stop-color="#83c166"/><stop offset="0.786" stop-color="#7abc66"/><stop offset="0.821" stop-color="#70b766"/><stop offset="0.857" stop-color="#65b266"/><stop offset="0.893" stop-color="#58ab66"/><stop offset="0.929" stop-color="#44a266"/><stop offset="0.964" stop-color="#2c9566"/><stop offset="1" stop-color="#108866"/></linearGradient><linearGradient id="g141" x1="0" y1="0" x2="0" y2="1"><stop offset="0" stop-color="#0c8566"/><stop offset="0.036" stop-color="#299466"/><stop offset="0.071" stop-color="#43a166"/><stop offset="0.107" stop-color="#58ab66"/><stop offset="0.143" stop-color="#65b266"/><stop offset="0.179" stop-color="#70b766"/><stop offset="0.214" stop-color="#7abc66"/><stop offset="0.25" stop-color="#83c166"/><stop offset="0.286" stop-color="#8ac566"/><stop offset="0.321" stop-color="#91c866"/><stop offset="0.357" stop-color="#96cb66"/><stop offset="0.393" stop-color="#9acd66"/><stop offset="0.429" stop-color="#9dce66"/><stop offset="0.464" stop-color="#9fcf66"/><stop offset="0.5" stop-color="#9fcf66"/><stop offset="0.536" stop-color="#9fcf66"/><stop offset="0.571" stop-color="#9dce66"/><stop offset="0.607" stop-color="#9acd66"/><stop offset="0.643" stop-color="#96cb66"/><stop offset="0.679" stop-color="#91c866"/><stop offset="0.714" stop-color="#8ac566"/><stop offset="0.75" stop-color="#83c166"/><stop offset="0.786" stop-color="#7abc66"/><stop offset="0.821" stop-color="#70b766"/><stop offset="0.857" stop-color="#65b266"/><stop offset="0.893" stop-color="#58ab66"/><stop offset="0.929" stop-color="#43a166"/><stop offset="0.964" stop-color="#299466"/><stop offset="1" stop-color="#0c8566"/></linearGradient><linearGradient id="g142" x1="0" y1="0" x2="0" y2="1"><stop offset="0" stop-color="#088366"/><stop offset="0.036" stop-color="#279366"/><stop offset="0.071" stop-color="#42a166"/><stop offset="0.107" stop-color="#58ab66"/><stop offset="0.143" stop-color="#65b266"/><stop offset="0.179" stop-color="#70b766"/><stop offset="0.214" stop-color="#7abc66"/><stop offset="0.25" stop-color="#83c166"/><stop offset="0.286" stop-color="#8ac566"/><stop offset="0.321" stop-color="#91c866"/><stop offset="0.357" stop-color="#96cb66"/><stop offset="0.393" stop-color="#9acd66"/><stop offset="0.429" stop-color="#9dce66"/><stop offset="0.464" stop-color="#9fcf66"/><stop offset="0.5" stop-color="#9fcf66"/><stop offset="0.536" stop-color="#9fcf66"/><stop offset="0.571" stop-color="#9dce66"/><stop offset="0.607" stop-color="#9acd66"/><stop offset="0.643" stop-color="#96cb66"/><stop offset="0.679" stop-color="#91c866"/><stop offset="0.714" stop-color="#8ac566"/><stop offset="0.75" stop-color="#83c166"/><stop offset="0.786" stop-color="#7abc66"/><stop offset="0.821" stop-color="#70b766"/><stop offset="0.857" stop-color="#65b266"/><stop offset="0.893" stop-color="#58ab66"/><stop offset="0.929" stop-color="#42a166"/><stop offset="0.964" stop-color="#279366"/><stop offset="1" stop-color="#088366"/></linearGradient><filter id="kb1" x="-0.2" y="-0.2" width="1.4" height="1.4"><feGaussianBlur stdDeviation="1.6"/></filter><linearGradient id="klg2" gradientUnits="userSpaceOnUse" x1="460" y1="0" x2="555" y2="0"><stop offset="0" stop-color="#0a8566" stop-opacity="0.4"/><stop offset="0.6" stop-color="#0a8566" stop-opacity="0.3"/><stop offset="1" stop-color="#0a8566" stop-opacity="0"/></linearGradient><filter id="kb3" x="-0.3" y="-0.3" width="1.6" height="1.6"><feGaussianBlur stdDeviation="2.5"/></filter><filter id="kb2" x="-0.5" y="-0.5" width="2" height="2"><feGaussianBlur stdDeviation="0.9"/></filter><linearGradient id="klg" gradientUnits="userSpaceOnUse" x1="470" y1="0" x2="620" y2="0"><stop offset="0" stop-color="#0a8566" stop-opacity="0.95"/><stop offset="0.45" stop-color="#14896a" stop-opacity="0.8"/><stop offset="1" stop-color="#3a9c66" stop-opacity="0.35"/></linearGradient><linearGradient id="cbk" x1="0" y1="0" x2="0" y2="1"><stop offset="0%" stop-color="#ffff66"/><stop offset="3.12%" stop-color="#f7fb66"/><stop offset="6.25%" stop-color="#eff766"/><stop offset="9.38%" stop-color="#e7f366"/><stop offset="12.5%" stop-color="#dfef66"/><stop offset="15.62%" stop-color="#d7eb66"/><stop offset="18.75%" stop-color="#cfe766"/><stop offset="21.88%" stop-color="#c7e366"/><stop offset="25%" stop-color="#bfdf66"/><stop offset="28.12%" stop-color="#b7db66"/><stop offset="31.25%" stop-color="#afd766"/><stop offset="34.38%" stop-color="#a7d366"/><stop offset="37.5%" stop-color="#9fcf66"/><stop offset="40.62%" stop-color="#97cb66"/><stop offset="43.75%" stop-color="#8fc766"/><stop offset="46.88%" stop-color="#87c366"/><stop offset="50%" stop-color="#80bf66"/><stop offset="53.12%" stop-color="#78bb66"/><stop offset="56.25%" stop-color="#70b766"/><stop offset="59.38%" stop-color="#68b366"/><stop offset="62.5%" stop-color="#60af66"/><stop offset="65.62%" stop-color="#58ab66"/><stop offset="68.75%" stop-color="#50a766"/><stop offset="71.88%" stop-color="#48a366"/><stop offset="75%" stop-color="#409f66"/><stop offset="78.12%" stop-color="#389b66"/><stop offset="81.25%" stop-color="#309766"/><stop offset="84.38%" stop-color="#289366"/><stop offset="87.5%" stop-color="#208f66"/><stop offset="90.62%" stop-color="#188b66"/><stop offset="93.75%" stop-color="#108766"/><stop offset="96.88%" stop-color="#088366"/><stop offset="100%" stop-color="#008066"/></linearGradient></defs><rect x="0" y="0" width="685" height="803" fill="#fff"/>
<path d="M59.1,122.6 L60.3,122.3 L61.5,121.6 L62.6,120.4 L64,118.4 L65.4,115.9 L67,112.5 L72.7,98.5 L75.2,93 L76.6,90.6 L78,88.9 L79.2,88 L80.4,87.7 L81.5,88 L82.7,88.9 L83.9,90.5 L85.3,93.1 L87.4,98.6 L92.6,113.8 L93.9,117.3 L95.1,119.6 L96.5,121.5 L97.7,122.4 L98.3,122.6 L98.9,122.6 L99.5,122.3 L100.2,121.7 L101.4,120.3 L102.8,117.7 L104.2,114.2 L105.6,110 L108.1,100.9 L113.8,78.2 L116.4,69.6 L117.6,66.6 L118.7,64.3 L119.9,62.9 L120.5,62.6 L120.9,62.5 L121.5,62.7 L122.1,63.1 L122.7,63.9 L123.3,64.9 L124.4,67.9 L125.6,72 L127.8,82.2 L132.3,107.3 L133.5,112.8 L134.7,117.3 L135.9,120.5 L136.8,122.1 L137.4,122.5 L137.8,122.6 L138.2,122.5 L138.8,122.1 L139.6,120.9 L140.4,119.1 L141.2,116.6 L142.2,112.7 L143.9,103.3 L145.7,91.4 L147.5,77.1 L149.4,58.6 L151.4,37.3 L153.4,13.2 L153.6,12.3 L200.8,12.3 L201,13.2 L203,37.3 L205.2,60.5 L207.1,78.8 L208.9,92.9 L210.7,104.5 L212.4,113.5 L213.4,117.3 L214.2,119.6 L215,121.3 L215.8,122.3 L216.4,122.6 L216.8,122.6 L217.2,122.4 L217.7,121.8 L218.7,120.1 L219.9,116.6 L220.9,112.8 L222.1,107.3 L226.6,82.2 L228.8,72 L230,67.9 L231.1,64.9 L231.7,63.9 L232.3,63.1 L232.9,62.7 L233.5,62.5 L233.9,62.6 L234.5,62.9 L235.7,64.3 L236.8,66.6 L238,69.6 L240.6,78.2 L246.3,100.9 L248.8,110 L250.2,114.2 L251.6,117.7 L253,120.3 L254.2,121.7 L254.9,122.3 L255.5,122.6 L256.1,122.6 L256.7,122.4 L257.9,121.5 L259.3,119.6 L260.5,117.3 L261.8,113.8 L267,98.6 L269.1,93.1 L270.5,90.5 L271.7,88.9 L272.9,88 L274,87.7 L275.2,88 L276.4,88.9 L277.8,90.6 L279.2,93 L281.7,98.5 L287.4,112.5 L289,115.9 L290.4,118.4 L291.8,120.4 L292.9,121.6 L294.1,122.3 L295.3,122.6" fill="none" stroke="#228b22" stroke-width="1.5" stroke-linejoin="round" clip-path="url(#ca)"/>
<line x1="59.1" y1="15.3" x2="295.3" y2="15.3" stroke="#262626" stroke-width="1.1"/>
<line x1="59.1" y1="122.6" x2="295.3" y2="122.6" stroke="#262626" stroke-width="1.1"/>
<line x1="59.1" y1="14.75" x2="59.1" y2="123.15" stroke="#262626" stroke-width="1.1"/>
<line x1="295.3" y1="14.75" x2="295.3" y2="123.15" stroke="#262626" stroke-width="1.1"/>
<line x1="59.1" y1="122.6" x2="59.1" y2="120" stroke="#262626" stroke-width="1.0"/>
<line x1="59.1" y1="15.3" x2="59.1" y2="17.9" stroke="#262626" stroke-width="1.0"/>
<text x="59.1" y="139.6" font-size="13.7" text-anchor="middle" fill="#262626" style="font-family:'Liberation Sans',sans-serif">-6</text>
<line x1="98.47" y1="122.6" x2="98.47" y2="120" stroke="#262626" stroke-width="1.0"/>
<line x1="98.47" y1="15.3" x2="98.47" y2="17.9" stroke="#262626" stroke-width="1.0"/>
<text x="98.47" y="139.6" font-size="13.7" text-anchor="middle" fill="#262626" style="font-family:'Liberation Sans',sans-serif">-4</text>
<line x1="137.83" y1="122.6" x2="137.83" y2="120" stroke="#262626" stroke-width="1.0"/>
<line x1="137.83" y1="15.3" x2="137.83" y2="17.9" stroke="#262626" stroke-width="1.0"/>
<text x="137.83" y="139.6" font-size="13.7" text-anchor="middle" fill="#262626" style="font-family:'Liberation Sans',sans-serif">-2</text>
<line x1="177.2" y1="122.6" x2="177.2" y2="120" stroke="#262626" stroke-width="1.0"/>
<line x1="177.2" y1="15.3" x2="177.2" y2="17.9" stroke="#262626" stroke-width="1.0"/>
<text x="177.2" y="139.6" font-size="13.7" text-anchor="middle" fill="#262626" style="font-family:'Liberation Sans',sans-serif">0</text>
<line x1="216.57" y1="122.6" x2="216.57" y2="120" stroke="#262626" stroke-width="1.0"/>
<line x1="216.57" y1="15.3" x2="216.57" y2="17.9" stroke="#262626" stroke-width="1.0"/>
<text x="216.57" y="139.6" font-size="13.7" text-anchor="middle" fill="#262626" style="font-family:'Liberation Sans',sans-serif">2</text>
<line x1="255.93" y1="122.6" x2="255.93" y2="120" stroke="#262626" stroke-width="1.0"/>
<line x1="255.93" y1="15.3" x2="255.93" y2="17.9" stroke="#262626" stroke-width="1.0"/>
<text x="255.93" y="139.6" font-size="13.7" text-anchor="middle" fill="#262626" style="font-family:'Liberation Sans',sans-serif">4</text>
<line x1="295.3" y1="122.6" x2="295.3" y2="120" stroke="#262626" stroke-width="1.0"/>
<line x1="295.3" y1="15.3" x2="295.3" y2="17.9" stroke="#262626" stroke-width="1.0"/>
<text x="295.3" y="139.6" font-size="13.7" text-anchor="middle" fill="#262626" style="font-family:'Liberation Sans',sans-serif">6</text>
<line x1="59.1" y1="122.6" x2="61.7" y2="122.6" stroke="#262626" stroke-width="1.0"/>
<line x1="295.3" y1="122.6" x2="292.7" y2="122.6" stroke="#262626" stroke-width="1.0"/>
<text x="54.6" y="127.5" font-size="13.7" text-anchor="end" fill="#262626" style="font-family:'Liberation Sans',sans-serif">0</text>
<line x1="59.1" y1="68.95" x2="61.7" y2="68.95" stroke="#262626" stroke-width="1.0"/>
<line x1="295.3" y1="68.95" x2="292.7" y2="68.95" stroke="#262626" stroke-width="1.0"/>
<text x="54.6" y="73.85" font-size="13.7" text-anchor="end" fill="#262626" style="font-family:'Liberation Sans',sans-serif">0.2</text>
<line x1="59.1" y1="15.3" x2="61.7" y2="15.3" stroke="#262626" stroke-width="1.0"/>
<line x1="295.3" y1="15.3" x2="292.7" y2="15.3" stroke="#262626" stroke-width="1.0"/>
<text x="54.6" y="20.2" font-size="13.7" text-anchor="end" fill="#262626" style="font-family:'Liberation Sans',sans-serif">0.4</text>
<text x="0.5" y="9.6" font-size="16.3" font-weight="bold" fill="#000" style="font-family:'Liberation Sans',sans-serif">a</text>
<path d="M60.4,231.9 L77.6,231.3 L90.6,231.1 L102.4,231.2 L113.1,231.6 L121.9,232.2 L130.8,233.2 L140.3,234.7 L153.3,237.2 L156.3,237.5 L158.6,237.5 L161,237.2 L163.4,236.6 L166.3,235.6 L169.3,234.4 L176.4,231 L185.3,225.9 L189.4,224 L191.8,223.2 L194.1,222.6 L196.5,222.2 L198.9,222.1 L201.8,222.2 L204.8,222.6 L218.4,224.9 L228.5,226.3 L236.7,227.2 L245,227.8 L255.7,228.3 L266.9,228.5 L279.3,228.4 L296.5,228.1" fill="none" stroke="#fcb29a" stroke-width="1.5" stroke-linejoin="round" clip-path="url(#cb)"/>
<path d="M60.4,232.3 L117.2,234.2 L127.9,234.8 L134.4,235.3 L137.9,235.9 L141.5,237.1 L144.4,238.6 L150.3,242.3 L152.7,243.6 L155.7,244.7 L158,245 L159.8,244.7 L161.6,244.1 L164,242.8 L166.3,241 L175.2,233.1 L177.6,230.9 L179.9,228.2 L185.3,221.4 L187,219.5 L188.2,218.3 L190,217 L191.8,215.9 L193.5,215.2 L195.3,214.8 L196.5,214.7 L198.3,214.7 L201.2,215.2 L204.8,216.4 L214.2,220.1 L219.6,221.9 L226.7,223.6 L233.8,224.8 L238.5,225.2 L243.8,225.5 L269.9,225.8 L296.5,226.7" fill="none" stroke="#f4694d" stroke-width="1.5" stroke-linejoin="round" clip-path="url(#cb)"/>
<path d="M60.4,236.6 L73.4,236.6 L78.2,236.7 L82.9,237.1 L90.6,238.1 L104.2,240.8 L109.5,241.6 L114.2,242 L124.9,242.3 L127.9,242.6 L130.2,243 L132,243.7 L133.8,244.6 L135,245.5 L136.7,247 L139.7,250.1 L148,259.8 L150.3,262.2 L152.7,264.3 L155.1,265.8 L156.9,266.6 L158,266.9 L159.2,267 L161,266.7 L162.8,265.9 L164,265.1 L165.1,264 L166.3,262.7 L167.5,261.1 L168.7,259.1 L171.1,254.3 L172.8,249.7 L174,246 L179.3,226.7 L181.7,219 L184.7,210.5 L187.6,203.6 L189.4,200.3 L190.6,198.3 L191.8,196.7 L192.9,195.3 L194.1,194.2 L195.3,193.4 L196.5,192.9 L197.7,192.7 L198.9,192.9 L200,193.3 L201.2,193.9 L203,195.3 L206,198.3 L213.7,207.8 L217.2,211.7 L219,213.3 L221.4,215 L223.1,215.9 L225.5,216.9 L228.5,217.6 L231.4,217.9 L240.9,218 L245,218.3 L248.6,218.9 L259.8,220.9 L269.9,222.1 L281.1,223.1 L296.5,224.2" fill="none" stroke="#c8282e" stroke-width="1.5" stroke-linejoin="round" clip-path="url(#cb)"/>
<line x1="60.4" y1="176.3" x2="296.5" y2="176.3" stroke="#262626" stroke-width="1.1"/>
<line x1="60.4" y1="283.5" x2="296.5" y2="283.5" stroke="#262626" stroke-width="1.1"/>
<line x1="60.4" y1="175.75" x2="60.4" y2="284.05" stroke="#262626" stroke-width="1.1"/>
<line x1="296.5" y1="175.75" x2="296.5" y2="284.05" stroke="#262626" stroke-width="1.1"/>
<line x1="60.4" y1="283.5" x2="60.4" y2="280.9" stroke="#262626" stroke-width="1.0"/>
<line x1="60.4" y1="176.3" x2="60.4" y2="178.9" stroke="#262626" stroke-width="1.0"/>
<text x="60.4" y="300.5" font-size="13.7" text-anchor="middle" fill="#262626" style="font-family:'Liberation Sans',sans-serif">-6</text>
<line x1="99.75" y1="283.5" x2="99.75" y2="280.9" stroke="#262626" stroke-width="1.0"/>
<line x1="99.75" y1="176.3" x2="99.75" y2="178.9" stroke="#262626" stroke-width="1.0"/>
<text x="99.75" y="300.5" font-size="13.7" text-anchor="middle" fill="#262626" style="font-family:'Liberation Sans',sans-serif">-4</text>
<line x1="139.1" y1="283.5" x2="139.1" y2="280.9" stroke="#262626" stroke-width="1.0"/>
<line x1="139.1" y1="176.3" x2="139.1" y2="178.9" stroke="#262626" stroke-width="1.0"/>
<text x="139.1" y="300.5" font-size="13.7" text-anchor="middle" fill="#262626" style="font-family:'Liberation Sans',sans-serif">-2</text>
<line x1="178.45" y1="283.5" x2="178.45" y2="280.9" stroke="#262626" stroke-width="1.0"/>
<line x1="178.45" y1="176.3" x2="178.45" y2="178.9" stroke="#262626" stroke-width="1.0"/>
<text x="178.45" y="300.5" font-size="13.7" text-anchor="middle" fill="#262626" style="font-family:'Liberation Sans',sans-serif">0</text>
<line x1="217.8" y1="283.5" x2="217.8" y2="280.9" stroke="#262626" stroke-width="1.0"/>
<line x1="217.8" y1="176.3" x2="217.8" y2="178.9" stroke="#262626" stroke-width="1.0"/>
<text x="217.8" y="300.5" font-size="13.7" text-anchor="middle" fill="#262626" style="font-family:'Liberation Sans',sans-serif">2</text>
<line x1="257.15" y1="283.5" x2="257.15" y2="280.9" stroke="#262626" stroke-width="1.0"/>
<line x1="257.15" y1="176.3" x2="257.15" y2="178.9" stroke="#262626" stroke-width="1.0"/>
<text x="257.15" y="300.5" font-size="13.7" text-anchor="middle" fill="#262626" style="font-family:'Liberation Sans',sans-serif">4</text>
<line x1="296.5" y1="283.5" x2="296.5" y2="280.9" stroke="#262626" stroke-width="1.0"/>
<line x1="296.5" y1="176.3" x2="296.5" y2="178.9" stroke="#262626" stroke-width="1.0"/>
<text x="296.5" y="300.5" font-size="13.7" text-anchor="middle" fill="#262626" style="font-family:'Liberation Sans',sans-serif">6</text>
<line x1="60.4" y1="265.63" x2="63" y2="265.63" stroke="#262626" stroke-width="1.0"/>
<line x1="296.5" y1="265.63" x2="293.9" y2="265.63" stroke="#262626" stroke-width="1.0"/>
<text x="55.9" y="270.53" font-size="13.7" text-anchor="end" fill="#262626" style="font-family:'Liberation Sans',sans-serif">-100</text>
<line x1="60.4" y1="229.9" x2="63" y2="229.9" stroke="#262626" stroke-width="1.0"/>
<line x1="296.5" y1="229.9" x2="293.9" y2="229.9" stroke="#262626" stroke-width="1.0"/>
<text x="55.9" y="234.8" font-size="13.7" text-anchor="end" fill="#262626" style="font-family:'Liberation Sans',sans-serif">0</text>
<line x1="60.4" y1="194.17" x2="63" y2="194.17" stroke="#262626" stroke-width="1.0"/>
<line x1="296.5" y1="194.17" x2="293.9" y2="194.17" stroke="#262626" stroke-width="1.0"/>
<text x="55.9" y="199.07" font-size="13.7" text-anchor="end" fill="#262626" style="font-family:'Liberation Sans',sans-serif">100</text>
<text x="0.5" y="174.3" font-size="16.3" font-weight="bold" fill="#000" style="font-family:'Liberation Sans',sans-serif">b</text>
<line x1="203" y1="237.4" x2="227.7" y2="237.4" stroke="#fcb29a" stroke-width="1.5"/>
<text x="230" y="242.3" font-size="13.7" fill="#262626" style="font-family:'Liberation Sans',sans-serif"><tspan font-style="italic">L</tspan>=5 mm</text>
<line x1="203" y1="252.7" x2="227.7" y2="252.7" stroke="#f4694d" stroke-width="1.5"/>
<text x="230" y="257.6" font-size="13.7" fill="#262626" style="font-family:'Liberation Sans',sans-serif"><tspan font-style="italic">L</tspan>=10 mm</text>
<line x1="203" y1="268.5" x2="227.7" y2="268.5" stroke="#c8282e" stroke-width="1.5"/>
<text x="230" y="273.4" font-size="13.7" fill="#262626" style="font-family:'Liberation Sans',sans-serif"><tspan font-style="italic">L</tspan>=25 mm</text>
<text x="23.9" y="129.6" font-size="14.9" text-anchor="start" fill="#262626" transform="rotate(-90 23.9 129.6)" style="font-family:'Liberation Sans',sans-serif">Ratio (|<tspan style="font-family:'Liberation Serif',serif;font-style:italic">α</tspan><tspan dy="7" font-size="12.6" font-style="italic">ETPA</tspan><tspan dy="-7" dx="0.8">/</tspan><tspan style="font-family:'Liberation Serif',serif;font-style:italic">γ</tspan><tspan dy="7.2" font-size="12.6" font-style="italic">eff</tspan><tspan dy="-7.2">|)</tspan></text>
<text x="16.3" y="265.8" font-size="14.9" text-anchor="start" fill="#262626" transform="rotate(-90 16.3 265.8)" style="font-family:'Liberation Sans',sans-serif">Ratio (<tspan style="font-family:'Liberation Serif',serif;font-style:italic">γ</tspan><tspan dy="7" font-size="12.6" font-style="italic">eff</tspan><tspan dy="-7">/</tspan><tspan style="font-family:'Liberation Serif',serif;font-style:italic">γ</tspan>)</text>
<text transform="translate(164.8 157.5) skewX(-16)" x="0" y="0" font-size="16" text-anchor="middle" fill="#262626" style="font-family:'Liberation Serif',serif">ξ</text>
<text x="173.2" y="157.5" font-size="15.5" fill="#262626" style="font-family:'Liberation Serif',serif">(<tspan font-style="italic">π</tspan>)</text>
<text transform="translate(164.8 318.3) skewX(-16)" x="0" y="0" font-size="16" text-anchor="middle" fill="#262626" style="font-family:'Liberation Serif',serif">ξ</text>
<text x="173.2" y="318.3" font-size="15.5" fill="#262626" style="font-family:'Liberation Serif',serif">(<tspan font-style="italic">π</tspan>)</text>
<g clip-path="url(#cc)">
<path d="M395,94 L395.3,87.3 L395.8,87.3 L396.1,91.4" fill="none" stroke="#d42424" stroke-width="1.3"/>
<path d="M395,91.6 L396.5,91.3 L418.8,90.1 L440,88 L454.6,85.1 L469.2,80.7 L483.8,74.1 L490.4,70.5 L491.8,69 L498.4,66.1 L507.2,63.2 L508.6,61.4 L521.8,56.3" fill="none" stroke="#d42424" stroke-width="1.5" stroke-linejoin="round"/>
<path d="M521.8,56.3 L522.5,46.4" stroke="#d42424" stroke-width="1.3"/>
<path d="M522.5,44.5 L522.7,48.7 L522.8,43.4 L523,48.7 L523.2,43.9 L523.4,50.3 L523.5,45.5 L523.7,50.3 L523.9,44.7 L524,51.5 L524.2,45.3 L524.4,49.9 L524.6,44 L524.7,49.2 L524.9,44 L525.1,50.2 L525.2,43.5 L525.4,50.4 L525.6,43.7 L525.8,50.8 L525.9,45.3 L526.1,50.8 L526.3,44.5 L526.4,48.7 L526.6,46 L526.8,49.5 L527,44.7 L527.1,50.8 L527.3,43.6 L527.5,48.7 L527.7,44.7 L527.8,51.3 L528,45 L528.2,49.3 L528.3,45 L528.5,48.9 L528.7,43.3 L528.8,50.1 L529,44.5 L529.2,51.5 L529.4,45.1 L529.5,49.2 L529.7,45 L529.9,50.9 L530.1,45.7 L530.2,50.2 L530.4,44.7 L530.6,49.5 L530.7,43.7 L530.9,49.3 L531.1,45.3 L531.3,49.4 L531.4,43.8 L531.6,49.4 L531.8,43.8 L531.9,51.5 L532.1,45.8 L532.3,49.2 L532.5,45.9 L532.6,50.4 L532.8,44.1 L533,51.8 L533.1,45.2 L533.3,49.7 L533.5,45.8 L533.7,51 L533.8,44 L534,49.9 L534.2,45.7 L534.3,49 L534.5,43.8 L534.7,50.4 L534.9,46 L535,50.6 L535.2,45.1 L535.4,51.8 L535.5,45.4 L535.7,49.1 L535.9,45.8 L536.1,49.2 L536.2,45.3 L536.4,51.1 L536.6,45.7 L536.7,51.3 L536.9,45.9 L537.1,51.7 L537.3,45.9 L537.4,51.4 L537.6,44.5 L537.8,51 L538,45.5 L538.1,51.4 L538.3,44.6 L538.5,51.9 L538.6,44.2 L538.8,50.7 L539,43.8 L539.2,50.1 L539.3,44.6 L539.5,49.8 L539.7,45.4 L539.8,50.7 L540,46.1 L540.2,50.1 L540.4,45.9 L540.5,51 L540.7,45.1 L540.9,51.4" fill="none" stroke="#d42424" stroke-width="0.9"/>
<path d="M540.7,35.3 L540.9,47 L541.1,38.1 L541.2,48 L541.4,37 L541.6,44.8 L541.8,35 L541.9,48.2 L542.1,35.4 L542.3,45.2 L542.5,36.9 L542.6,47.7 L542.8,36.2 L543,45.1 L543.2,36.1 L543.3,45.3 L543.5,38.9 L543.7,45 L543.9,36 L544.1,47.5 L544.2,35.8 L544.4,45.9 L544.6,38.5 L544.8,44.6 L544.9,35.6 L545.1,43.8 L545.3,36.4 L545.5,45 L545.7,34.5 L545.8,48 L546,35 L546.2,44 L546.4,37.5 L546.5,44.2 L546.7,37.3 L546.9,46.4 L547.1,36.6 L547.2,45.5 L547.4,38.4 L547.6,46.3 L547.8,38.5 L547.9,45.4 L548.1,38.2 L548.3,46 L548.5,37.5 L548.7,46.8 L548.8,36.7 L549,47.4 L549.2,34.5 L549.4,48.3 L549.5,37.6 L549.7,46.2 L549.9,38.6 L550.1,44.3" fill="none" stroke="#d42424" stroke-width="0.9"/>
<path d="M549.9,28.4 L550.1,39.9 L550.3,31.6 L550.4,38.4 L550.6,28.4 L550.8,39 L551,30.2 L551.1,40.3 L551.3,31.3 L551.5,40.5 L551.7,29.8 L551.8,38.6 L552,30 L552.2,38.3 L552.4,31.4 L552.5,36.6 L552.7,29.3 L552.9,38 L553.1,31.2 L553.2,39.7 L553.4,28 L553.6,36.6 L553.8,29.4 L553.9,39.6 L554.1,32.1 L554.3,38.3 L554.5,30.1 L554.6,37.5 L554.8,28.1 L555,37.8 L555.2,29.7 L555.4,40.6 L555.5,31 L555.7,36.8 L555.9,28.9 L556.1,38.1 L556.2,29.4 L556.4,37.6 L556.6,31.3 L556.8,40 L556.9,31.8 L557.1,38 L557.3,31.1 L557.5,37.3 L557.6,30 L557.8,37.5 L558,32 L558.2,40.5" fill="none" stroke="#d42424" stroke-width="0.9"/>
<path d="M558,42 L558.2,47.9 L558.3,42.1 L558.5,49.7 L558.7,40.6 L558.9,48.4 L559,41.4 L559.2,49.3 L559.4,41.7 L559.5,47.7 L559.7,41.8 L559.9,48 L560.1,39.8 L560.2,46.7 L560.4,42.1 L560.6,48.4 L560.8,42.1 L560.9,46.1 L561.1,38.7 L561.3,47.4 L561.4,41 L561.6,46 L561.8,40.8 L562,49.4 L562.1,40.1 L562.3,47.9 L562.5,40.1 L562.6,46 L562.8,39.5 L563,49.1 L563.2,40.2 L563.3,47.3 L563.5,41.9 L563.7,47.6 L563.9,39.1 L564,46.1 L564.2,40.1 L564.4,47.2 L564.6,40 L564.7,49.1 L564.9,40.9 L565.1,46.8 L565.2,38.8 L565.4,48.1 L565.6,39.5 L565.8,49.3 L565.9,38.9 L566.1,46 L566.3,41.7 L566.4,48.4 L566.6,41.1 L566.8,49.8 L567,41.8 L567.1,47.7 L567.3,41.4 L567.5,48.8 L567.7,39.6 L567.8,48.5 L568,42.1 L568.2,48.2" fill="none" stroke="#d42424" stroke-width="0.9"/>
<path d="M568,50.3 L572.5,50.8 L573,56.9 L588.2,56.4 L588.6,60.5 L604.2,58.9 L604.6,90.1 L629.9,91.6" fill="none" stroke="#d42424" stroke-width="1.5" stroke-linejoin="round"/>
<path d="M395,93.7 L489.6,93.7 L498.4,90.9 L507.2,87.3 L508.6,83.6 L515,80.5 L521.8,77" fill="none" stroke="#228b22" stroke-width="1.5" stroke-linejoin="round"/>
<path d="M522.3,81.9 L522.5,83.5 L522.7,80.8 L522.9,77.7 L523.1,80.1 L523.3,79.9 L523.6,80.8 L523.8,75.4 L524,80.2 L524.2,75.6 L524.4,80.5 L524.6,78.7 L524.8,80.4 L525,78.1 L525.2,79.2 L525.4,71.7 L525.7,79.7 L525.9,73.4 L526.1,79.7 L526.3,73.2 L526.5,78.7 L526.7,69.2 L526.9,79.4 L527.1,70 L527.3,77.8 L527.5,73.9 L527.8,78.1 L528,73.7 L528.2,79 L528.4,71.5 L528.6,77.2 L528.8,70.4 L529,78.6 L529.2,68.6 L529.4,76.7 L529.6,68.3 L529.9,76.7 L530.1,70.9 L530.3,78.1 L530.5,68.8 L530.7,77.2 L530.9,68.9 L531.1,76.6 L531.3,65.2 L531.5,75.7 L531.7,69.8 L532,76.6 L532.2,64.5 L532.4,76.4 L532.6,62.7 L532.8,76.8 L533,67.5 L533.2,74.9 L533.4,61.9 L533.6,75.6 L533.8,61.3 L534.1,75.5 L534.3,63.5 L534.5,74.9 L534.7,53.3 L534.9,74.8 L535.1,62.4 L535.3,75.1 L535.5,58.4 L535.7,73.5 L535.9,58.7 L536.2,74.5 L536.4,60.5 L536.6,74.8 L536.8,59.6 L537,74.2 L537.2,59.4 L537.4,74.1 L537.6,63 L537.8,74.3 L538,56.4 L538.3,73.8 L538.5,57.1 L538.7,73.6 L538.9,56 L539.1,73.4 L539.3,59.2 L539.5,72 L539.7,56.7 L539.9,71.7 L540.1,57.5 L540.4,72.3 L540.6,57.1 L540.8,72.9 L541,57.6 L541.2,71.8 L541.4,57.8 L541.6,72 L541.8,57.9 L542,72.1 L542.2,56.4 L542.5,70.2 L542.7,56.3 L542.9,71.8 L543.1,54.7 L543.3,71 L543.5,57.7 L543.7,71.4 L543.9,54.7 L544.1,69.6 L544.3,52.4 L544.6,70.9 L544.8,57.6 L545,70 L545.2,54.7 L545.4,69.9 L545.6,53.1 L545.8,69.3 L546,54.9 L546.2,68.5 L546.4,50.5 L546.7,69.5 L546.9,55.2 L547.1,68 L547.3,55.2 L547.5,69.3 L547.7,51.5 L547.9,67.4 L548.1,42.6 L548.3,67.6 L548.5,46.6 L548.8,67 L549,48.1 L549.2,68.1 L549.4,42.8 L549.6,68.4 L549.8,45.2 L550,67.6 L550.2,44.7 L550.4,67.3 L550.6,39.9 L550.9,67.8 L551.1,40.2 L551.3,66.4 L551.5,39 L551.7,67.2 L551.9,39.7 L552.1,67 L552.3,37.7 L552.5,67 L552.7,37.6 L553,66.3 L553.2,39.9 L553.4,66.2 L553.6,39.6 L553.8,66.3 L554,37 L554.2,66.3 L554.4,40.5 L554.6,64.5 L554.8,38.4 L555.1,65.4 L555.3,40.1 L555.5,64.6 L555.7,36.3 L555.9,64.1 L556.1,35.4 L556.3,65 L556.5,38.2 L556.7,64.2 L556.9,35.9 L557.2,63.7 L557.4,34.2 L557.6,63.1 L557.8,36.9 L558,63.2 L558.2,32 L558.4,62.6 L558.6,32.3 L558.8,62.3 L559,37.6 L559.3,62.5 L559.5,37 L559.7,62 L559.9,34.1 L560.1,62.1 L560.3,36 L560.5,62.5 L560.7,36.4 L560.9,62.2 L561.1,33.5 L561.4,61.6 L561.6,36.1 L561.8,60.9 L562,34.5 L562.2,62 L562.4,31.6 L562.6,61.5 L562.8,35.1 L563,61.7 L563.2,37.1 L563.5,61.1 L563.7,33.1 L563.9,59.7 L564.1,35.5 L564.3,60.5 L564.5,33.1 L564.7,59.7 L564.9,30 L565.1,59.8 L565.3,32.4 L565.6,59.9 L565.8,32.2 L566,60.2 L566.2,32.2 L566.4,59.7 L566.6,36.5 L566.8,59.4 L567,35.5 L567.2,58 L567.4,30.7 L567.7,57.9 L567.9,31.8 L568.1,58.4 L568.3,36.3 L568.5,59.1 L568.7,33.2 L568.9,57.3 L569.1,31.2 L569.3,57.6 L569.5,38.2" fill="none" stroke="#228b22" stroke-width="0.75"/>
<line x1="533.5" y1="55.9" x2="533.5" y2="72" stroke="#228b22" stroke-width="1.1"/>
<line x1="536.6" y1="55.4" x2="536.6" y2="70" stroke="#228b22" stroke-width="1.1"/>
<line x1="550.9" y1="31.4" x2="550.9" y2="50" stroke="#228b22" stroke-width="1.1"/>
<line x1="560.0" y1="28.3" x2="560.0" y2="48" stroke="#228b22" stroke-width="1.1"/>
<line x1="568.2" y1="28.3" x2="568.2" y2="48" stroke="#228b22" stroke-width="1.1"/>
<path d="M569.5,45 L570.5,58 L572.2,58.5 L572.2,40 L572.2,59.5 L573.2,56.9 C576,55.5 580.3,52.8 580.3,52.8 C583,50 585.4,46.7 588.3,43.6 L588.5,27.3 L588.5,54.3 L588.8,49 C592,46.5 595,44.2 598.7,42.6 C601,41.8 602.8,42 603.6,43.6 C604.2,44.8 604.4,46 604.5,47 L604.5,93.7 L629.9,93.7" fill="none" stroke="#228b22" stroke-width="1.5" stroke-linejoin="round"/>
</g>
<line x1="404" y1="28" x2="429" y2="28" stroke="#d42424" stroke-width="1.5"/>
<line x1="404" y1="42.5" x2="429" y2="42.5" stroke="#228b22" stroke-width="1.5"/>
<text x="431.8" y="32.4" font-size="12.2" fill="#262626" style="font-family:'Liberation Sans',sans-serif">FF</text>
<text x="431.8" y="46.9" font-size="12.2" fill="#262626" style="font-family:'Liberation Sans',sans-serif">SH</text>
<line x1="394.6" y1="14.9" x2="629.9" y2="14.9" stroke="#262626" stroke-width="1.1"/>
<line x1="394.6" y1="94.2" x2="629.9" y2="94.2" stroke="#262626" stroke-width="1.1"/>
<line x1="394.6" y1="14.35" x2="394.6" y2="94.75" stroke="#262626" stroke-width="1.1"/>
<line x1="629.9" y1="14.35" x2="629.9" y2="94.75" stroke="#262626" stroke-width="1.1"/>
<line x1="418.13" y1="94.2" x2="418.13" y2="91.6" stroke="#262626" stroke-width="1.0"/>
<line x1="418.13" y1="14.9" x2="418.13" y2="17.5" stroke="#262626" stroke-width="1.0"/>
<line x1="465.19" y1="94.2" x2="465.19" y2="91.6" stroke="#262626" stroke-width="1.0"/>
<line x1="465.19" y1="14.9" x2="465.19" y2="17.5" stroke="#262626" stroke-width="1.0"/>
<line x1="512.25" y1="94.2" x2="512.25" y2="91.6" stroke="#262626" stroke-width="1.0"/>
<line x1="512.25" y1="14.9" x2="512.25" y2="17.5" stroke="#262626" stroke-width="1.0"/>
<line x1="559.31" y1="94.2" x2="559.31" y2="91.6" stroke="#262626" stroke-width="1.0"/>
<line x1="559.31" y1="14.9" x2="559.31" y2="17.5" stroke="#262626" stroke-width="1.0"/>
<line x1="606.37" y1="94.2" x2="606.37" y2="91.6" stroke="#262626" stroke-width="1.0"/>
<line x1="606.37" y1="14.9" x2="606.37" y2="17.5" stroke="#262626" stroke-width="1.0"/>
<line x1="394.6" y1="94.2" x2="397.2" y2="94.2" stroke="#262626" stroke-width="1.0"/>
<line x1="629.9" y1="94.2" x2="627.3" y2="94.2" stroke="#262626" stroke-width="1.0"/>
<text x="390.1" y="99.1" font-size="13.7" text-anchor="end" fill="#262626" style="font-family:'Liberation Sans',sans-serif">0</text>
<line x1="394.6" y1="28.12" x2="397.2" y2="28.12" stroke="#262626" stroke-width="1.0"/>
<line x1="629.9" y1="28.12" x2="627.3" y2="28.12" stroke="#262626" stroke-width="1.0"/>
<text x="390.1" y="33.02" font-size="13.7" text-anchor="end" fill="#262626" style="font-family:'Liberation Sans',sans-serif">1</text>
<rect x="394" y="14.3" width="236.5" height="80.5" fill="url(#cov)"/>
<text x="592" y="34.4" font-size="13.7" fill="#379537" style="font-family:'Liberation Sans',sans-serif"><tspan font-size="11">×</tspan><tspan dx="1.6">203</tspan></text>
<line x1="606.4" y1="49.7" x2="613.2" y2="40.4" stroke="#379537" stroke-width="1.3"/>
<path d="M615.5,37.2 L609.6,40.2 L613.9,43.3 Z" fill="#379537"/>
<text x="344.5" y="10" font-size="16.3" font-weight="bold" fill="#000" style="font-family:'Liberation Sans',sans-serif">c</text>
<text x="358.5" y="56.9" font-size="14.9" text-anchor="middle" fill="#262626" transform="rotate(-90 358.5 56.9)" style="font-family:'Liberation Sans',sans-serif">Power</text>
<text x="376.6" y="56.9" font-size="14.9" text-anchor="middle" fill="#262626" transform="rotate(-90 376.6 56.9)" style="font-family:'Liberation Sans',sans-serif">(arb. units)</text>
<g clip-path="url(#cd)">
<rect x="394.2" y="109.7" width="239.1" height="80" fill="url(#dbg)"/>
<rect x="491" y="109.7" width="33" height="80" fill="#1c0000"/>
<line x1="491" y1="112.6" x2="524" y2="112.6" stroke="#680000" stroke-width="3.6"/>
<line x1="491" y1="112.6" x2="524" y2="112.6" stroke="#b00400" stroke-width="1.6"/>
<line x1="491" y1="122.0" x2="524" y2="122.0" stroke="#680000" stroke-width="3.6"/>
<line x1="491" y1="122.0" x2="524" y2="122.0" stroke="#b00400" stroke-width="1.6"/>
<line x1="491" y1="131.4" x2="524" y2="131.4" stroke="#680000" stroke-width="3.6"/>
<line x1="491" y1="131.4" x2="524" y2="131.4" stroke="#b00400" stroke-width="1.6"/>
<line x1="491" y1="140.8" x2="524" y2="140.8" stroke="#680000" stroke-width="3.6"/>
<line x1="491" y1="140.8" x2="524" y2="140.8" stroke="#b00400" stroke-width="1.6"/>
<line x1="491" y1="150.2" x2="524" y2="150.2" stroke="#680000" stroke-width="3.6"/>
<line x1="491" y1="150.2" x2="524" y2="150.2" stroke="#b00400" stroke-width="1.6"/>
<line x1="491" y1="159.6" x2="524" y2="159.6" stroke="#680000" stroke-width="3.6"/>
<line x1="491" y1="159.6" x2="524" y2="159.6" stroke="#b00400" stroke-width="1.6"/>
<line x1="491" y1="169.0" x2="524" y2="169.0" stroke="#680000" stroke-width="3.6"/>
<line x1="491" y1="169.0" x2="524" y2="169.0" stroke="#b00400" stroke-width="1.6"/>
<line x1="491" y1="178.4" x2="524" y2="178.4" stroke="#680000" stroke-width="3.6"/>
<line x1="491" y1="178.4" x2="524" y2="178.4" stroke="#b00400" stroke-width="1.6"/>
<line x1="491" y1="187.6" x2="524" y2="187.6" stroke="#680000" stroke-width="3.6"/>
<line x1="491" y1="187.6" x2="524" y2="187.6" stroke="#b00400" stroke-width="1.6"/>
<rect x="524" y="109.7" width="46" height="80" fill="#240000"/>
<line x1="525" y1="110" x2="524.3" y2="190" stroke="#400400" stroke-width="0.6" opacity="0.6"/>
<line x1="527.2" y1="110" x2="527.4" y2="190" stroke="#400400" stroke-width="0.6" opacity="0.3"/>
<line x1="529.4" y1="110" x2="528.7" y2="190" stroke="#400400" stroke-width="0.6" opacity="0.9"/>
<line x1="531.6" y1="110" x2="530.7" y2="190" stroke="#400400" stroke-width="0.6" opacity="0.4"/>
<line x1="533.8" y1="110" x2="534.7" y2="190" stroke="#400400" stroke-width="0.6" opacity="0.7"/>
<line x1="536" y1="110" x2="535.7" y2="190" stroke="#400400" stroke-width="0.6" opacity="0.6"/>
<line x1="538.2" y1="110" x2="538.5" y2="190" stroke="#400400" stroke-width="0.6" opacity="0.5"/>
<line x1="540.4" y1="110" x2="539.7" y2="190" stroke="#400400" stroke-width="0.6" opacity="0.8"/>
<line x1="542.6" y1="110" x2="542.9" y2="190" stroke="#400400" stroke-width="0.6" opacity="0.6"/>
<line x1="544.8" y1="110" x2="545.4" y2="190" stroke="#400400" stroke-width="0.6" opacity="0.6"/>
<line x1="547" y1="110" x2="548" y2="190" stroke="#400400" stroke-width="0.6" opacity="0.4"/>
<line x1="549.2" y1="110" x2="549.3" y2="190" stroke="#400400" stroke-width="0.6" opacity="0.6"/>
<line x1="551.4" y1="110" x2="551.1" y2="190" stroke="#400400" stroke-width="0.6" opacity="0.7"/>
<line x1="553.6" y1="110" x2="553.1" y2="190" stroke="#400400" stroke-width="0.6" opacity="0.8"/>
<line x1="555.8" y1="110" x2="556.5" y2="190" stroke="#400400" stroke-width="0.6" opacity="0.4"/>
<line x1="558" y1="110" x2="557.9" y2="190" stroke="#400400" stroke-width="0.6" opacity="0.5"/>
<line x1="560.2" y1="110" x2="559.4" y2="190" stroke="#400400" stroke-width="0.6" opacity="0.8"/>
<line x1="562.4" y1="110" x2="562.3" y2="190" stroke="#400400" stroke-width="0.6" opacity="0.4"/>
<line x1="564.6" y1="110" x2="564.9" y2="190" stroke="#400400" stroke-width="0.6" opacity="0.4"/>
<line x1="566.8" y1="110" x2="567.6" y2="190" stroke="#400400" stroke-width="0.6" opacity="0.4"/>
<path d="M524,118.3 L524.8,119.1 L525.6,119.1 L526.4,117.2 L527.2,117.1 L528,118 L529.6,118.6 L531.2,117.2 L532,118.9 L532.8,119.4 L534.4,117.6 L536,118 L536.8,119.3 L537.6,118.6 L538.4,116.8 L540.8,119.4 L542.4,117.4 L543.2,117.7 L544.8,119.3 L545.6,118.2 L546.4,117.6 L547.2,117.9 L548,119.8 L548.8,120.1 L549.6,119.1 L550.4,118.9 L552,121.3 L552.8,120.5 L553.6,120.6 L554.4,120 L556.8,122.4" fill="none" stroke="#d83000" stroke-width="1.5" opacity="0.9"/>
<path d="M524,122.9 L524.8,124.3 L525.6,124.7 L526.4,123 L527.2,122.8 L528,122.1 L529.6,124.3 L530.4,125 L531.2,123.3 L532.8,123 L535.2,123.7 L536,124.3 L538.4,122.3 L540,123.8 L540.8,124.1 L541.6,123.9 L542.4,122.8 L543.2,122.5 L544,123.2 L545.6,123.4 L546.4,124.7 L547.2,123.9 L548,123.8 L548.8,122.6 L550.4,123 L551.2,124.7 L552,125.1 L552.8,123.1 L553.6,122.5 L554.4,122.9 L555.2,122.9 L556,123.8 L556.8,124.1" fill="none" stroke="#801000" stroke-width="0.9" opacity="0.6"/>
<path d="M524,130.2 L524.8,130.5 L525.6,129 L526.4,128.8 L527.2,129.1 L528,130.3 L529.6,128.4 L531.2,129.2 L532,130.5 L534.4,128.8 L535.2,129.8 L536,130.2 L537.6,128.5 L538.4,128.4 L540,130.1 L540.8,129.7 L541.6,128.8 L542.4,128.5 L543.2,129 L544,130.3 L545.6,129 L546.4,129 L548.8,131.1 L549.6,129.9 L551.2,132.2 L552.8,131.6 L553.6,131 L554.4,131.6 L555.2,132.9 L556,133.3 L556.8,132.4" fill="none" stroke="#d83000" stroke-width="1.5" opacity="0.9"/>
<path d="M524,134.7 L524.8,134.7 L525.6,133.7 L526.4,133.9 L527.2,134.1 L528,135.2 L528.8,135.7 L531.2,133.9 L532,133.8 L534.4,135.5 L536,134.3 L536.8,133.3 L537.6,134.6 L539.2,135.1 L540,135.1 L540.8,134.2 L542.4,133.7 L543.2,134.1 L544.8,135.9 L546.4,133.7 L547.2,133.8 L548,133.5 L548.8,135.6 L549.6,134.8 L550.4,135.4 L551.2,134.8 L552,133.3 L554.4,135.4 L556,135.3 L556.8,134.3" fill="none" stroke="#801000" stroke-width="0.9" opacity="0.6"/>
<path d="M524,140.5 L524.8,139.4 L525.6,138.9 L526.4,138.9 L527.2,140.5 L528,140.2 L528.8,139 L529.6,138.8 L531.2,140.7 L533.6,138.5 L535.2,140.4 L536,139.4 L536.8,139.2 L537.6,138.4 L539.2,139.9 L540,139.6 L540.8,138.8 L541.6,139 L542.4,140.2 L544,140.5 L544.8,138.9 L545.6,138.1 L547.2,141 L548.8,139.9 L549.6,140.1 L551.2,141.5 L552,141.6 L552.8,140.8 L553.6,141 L555.2,143.9 L556,142.6 L556.8,142.1" fill="none" stroke="#d83000" stroke-width="1.5" opacity="0.9"/>
<path d="M524,144.6 L524.8,144.3 L525.6,144.9 L526.4,145.1 L527.2,145.9 L528,146.1 L529.6,143.8 L531.2,145.4 L532,145.6 L532.8,145.3 L533.6,145.6 L534.4,143.7 L536.8,144.7 L537.6,146.1 L538.4,145.5 L539.2,144.1 L541.6,144 L542.4,145.2 L543.2,145.7 L545.6,144 L547.2,145 L548,146.1 L551.2,143.7 L552,144.4 L552.8,146 L553.6,145.7 L556,143.8 L556.8,144.4" fill="none" stroke="#801000" stroke-width="0.9" opacity="0.6"/>
<path d="M524,150.2 L525.6,149.2 L526.4,151.2 L527.2,151 L528,149.8 L528.8,149.4 L529.6,149.7 L530.4,150.9 L532,150.4 L532.8,150.7 L533.6,149.4 L534.4,151.1 L535.2,151 L536.8,148.8 L537.6,149.6 L538.4,151.2 L540,150.6 L540.8,149.2 L541.6,150.1 L542.4,152.1 L544,149.6 L544.8,149.4 L546.4,151.5 L547.2,151.3 L548,150.2 L548.8,150.3 L549.6,152.3 L550.4,152.9 L551.2,151.4 L552.8,151.2 L553.6,152.9 L555.2,154.2 L556,153 L556.8,152.8" fill="none" stroke="#d83000" stroke-width="1.5" opacity="0.9"/>
<path d="M524,155.4 L525.6,156.4 L526.4,156.4 L528,154.6 L528.8,155.4 L530.4,156.2 L532,155.4 L533.6,153.6 L534.4,155.6 L535.2,156.2 L536.8,156.4 L539.2,153.9 L540,155.5 L541.6,156.9 L543.2,155.5 L544,154.2 L544.8,154.3 L545.6,156.1 L546.4,156.3 L547.2,156.4 L548,155.3 L549.6,154.2 L550.4,155.7 L552,156.4 L553.6,155 L554.4,154.8 L555.2,155.1 L556,156.1 L556.8,156.5" fill="none" stroke="#801000" stroke-width="0.9" opacity="0.6"/>
<path d="M524,160.7 L524.8,160.6 L525.6,162.5 L526.4,162.5 L527.2,162.2 L528,161 L528.8,160.7 L530.4,162.5 L532.8,160.5 L533.6,161.8 L534.4,162.4 L535.2,162.2 L536,159.9 L536.8,161.2 L538.4,162.6 L539.2,161.4 L540,160.9 L541.6,162.3 L542.4,162.6 L544,160.4 L545.6,162.2 L546.4,162.2 L548,161.2 L549.6,163.4 L551.2,163.3 L552,162.9 L553.6,164.9 L554.4,164.7 L555.2,163.8 L556,163.6 L556.8,164.9" fill="none" stroke="#d83000" stroke-width="1.5" opacity="0.9"/>
<path d="M524,167.6 L524.8,166.6 L525.6,166.4 L526.4,165.4 L527.2,166.3 L528,166.5 L529.6,167.5 L531.2,165.5 L532.8,167.4 L533.6,166.7 L534.4,168.3 L535.2,166.9 L537.6,165.6 L538.4,167.4 L539.2,167.7 L540.8,166.8 L541.6,165.6 L542.4,165.9 L543.2,166.9 L544,166.6 L544.8,167.4 L545.6,167.3 L548,166 L549.6,167.7 L551.2,166.8 L553.6,166.5 L555.2,167.8 L556,166.6 L556.8,166.6" fill="none" stroke="#801000" stroke-width="0.9" opacity="0.6"/>
<path d="M524,171.1 L524.8,173.1 L525.6,173.4 L526.4,172.8 L528,170.6 L528.8,172.7 L529.6,173.8 L530.4,172.5 L531.2,171.9 L532,171.8 L532.8,172 L533.6,173.5 L534.4,173.1 L535.2,171.7 L536,171.6 L536.8,172.9 L538.4,172.5 L540,171.2 L540.8,173.1 L541.6,173 L542.4,171.7 L544,171.4 L544.8,172.9 L546.4,172.8 L547.2,171.5 L549.6,174.1 L550.4,173.9 L551.2,173 L552,173.6 L553.6,175.8 L555.2,174 L556.8,175.7" fill="none" stroke="#d83000" stroke-width="1.5" opacity="0.9"/>
<path d="M524,176.7 L524.8,176.4 L526.4,177.9 L528,178.4 L529.6,176.9 L531.2,177.2 L532.8,178.5 L534.4,177.4 L535.2,176.2 L536,177.5 L536.8,177.4 L537.6,178.2 L538.4,177.6 L539.2,177.8 L540.8,177.2 L541.6,177.6 L542.4,177.4 L543.2,178 L544,177.7 L544.8,176.8 L545.6,177.2 L546.4,177 L548,178.4 L550.4,176.6 L552,177.3 L553.6,178.7 L554.4,177.4 L556.8,176.3" fill="none" stroke="#801000" stroke-width="0.9" opacity="0.6"/>
<path d="M524,183.1 L524.8,184.6 L525.6,184.6 L527.2,182.6 L528,183.3 L528.8,184.7 L530.4,183.2 L532,183.3 L532.8,184.1 L533.6,184 L534.4,183.2 L535.2,182.8 L536.8,184.6 L538.4,182.6 L539.2,182.8 L540.8,183.9 L542.4,182.5 L543.2,182.7 L544.8,184.5 L545.6,184.3 L546.4,182.8 L548,184.6 L548.8,184.8 L549.6,184.6 L550.4,183.7 L552,185.4 L552.8,186.9 L554.4,184.5 L556,187.6 L556.8,187.1" fill="none" stroke="#d83000" stroke-width="1.5" opacity="0.9"/>
<path d="M524,188.7 L524.8,188.3 L525.6,189.6 L526.4,188.6 L527.2,188.8 L528,187.3 L528.8,186.9 L530.4,190.2 L531.2,189.2 L532,189.3 L533.6,187.8 L535.2,189.6 L536,189 L536.8,189.6 L538.4,187.5 L540,189.3 L540.8,188.9 L541.6,190.2 L543.2,188.3 L544,188.5 L544.8,188.3 L546.4,190 L547.2,189.9 L548,189.1 L548.8,187.5 L549.6,187.3 L550.4,188.9 L551.2,188.8 L552,189.6 L554.4,187.4 L555.2,188.8 L556,188.4 L556.8,189.4" fill="none" stroke="#801000" stroke-width="0.9" opacity="0.6"/>
<path d="M556.5,112.5 L559.7,112.8 L562.8,113.8 L566,115.8 L568.5,118" fill="none" stroke="#ff4a00" stroke-width="1.6" opacity="0.95"/>
<path d="M556.5,124 L559.7,124.3 L562.8,125.3 L566,127.3 L568.5,129.5" fill="none" stroke="#ff4a00" stroke-width="1.6" opacity="0.95"/>
<path d="M556.5,129.9 L559.7,130.2 L562.8,131.2 L566,133.2 L568.5,135.4" fill="none" stroke="#ff4a00" stroke-width="1.6" opacity="0.95"/>
<path d="M556.5,140.1 L559.7,140.4 L562.8,141.4 L566,143.4 L568.5,145.6" fill="none" stroke="#ff4a00" stroke-width="1.6" opacity="0.95"/>
<path d="M556.5,150.8 L559.7,151.1 L562.8,152.1 L566,154.1 L568.5,156.3" fill="none" stroke="#ff4a00" stroke-width="1.6" opacity="0.95"/>
<path d="M556.5,162.1 L559.7,162.4 L562.8,163.4 L566,165.4 L568.5,167.6" fill="none" stroke="#ff4a00" stroke-width="1.6" opacity="0.95"/>
<path d="M556.5,172.8 L559.7,173.1 L562.8,174.1 L566,176.1 L568.5,178.3" fill="none" stroke="#ff4a00" stroke-width="1.6" opacity="0.95"/>
<path d="M556.5,184 L559.7,184.3 L562.8,185.3 L566,187.3 L568.5,189.5" fill="none" stroke="#ff4a00" stroke-width="1.6" opacity="0.95"/>
<line x1="555.6" y1="110" x2="555.6" y2="190" stroke="#701000" stroke-width="0.8" stroke-dasharray="2,1"/>
<line x1="569.6" y1="110" x2="569.6" y2="190" stroke="#d03000" stroke-width="1" stroke-dasharray="1.5,1.5"/>
<path d="M570,114.6 L586,114.4 C589,114.2 590.5,113 591.5,110" fill="none" stroke="#f03800" stroke-width="2.8"/>
<path d="M570,114.6 L586,114.4 C589,114.2 590.5,113 591.5,110" fill="none" stroke="#ff9a00" stroke-width="1.1"/>
<line x1="576" y1="136.4" x2="607.8" y2="136.4" stroke="#f03000" stroke-width="2.8"/>
<line x1="576" y1="136.4" x2="607.8" y2="136.4" stroke="#ff9000" stroke-width="1.1"/>
<line x1="570.5" y1="158.9" x2="607.8" y2="158.9" stroke="#f03000" stroke-width="2.8"/>
<line x1="570.5" y1="158.9" x2="607.8" y2="158.9" stroke="#ff9000" stroke-width="1.1"/>
<line x1="576" y1="177.1" x2="607.8" y2="177.1" stroke="#f03000" stroke-width="2.8"/>
<line x1="576" y1="177.1" x2="607.8" y2="177.1" stroke="#ff9000" stroke-width="1.1"/>
<path d="M571,129.9 C576,129.9 576,142.9 571,142.9" fill="none" stroke="#ff4000" stroke-width="1.4"/>
<path d="M571,170.6 C576,170.6 576,183.6 571,183.6" fill="none" stroke="#ff4000" stroke-width="1.4"/>
</g>
<line x1="394.2" y1="109.7" x2="633.3" y2="109.7" stroke="#262626" stroke-width="1.1"/>
<line x1="394.2" y1="189.7" x2="633.3" y2="189.7" stroke="#262626" stroke-width="1.1"/>
<line x1="394.2" y1="109.15" x2="394.2" y2="190.25" stroke="#262626" stroke-width="1.1"/>
<line x1="633.3" y1="109.15" x2="633.3" y2="190.25" stroke="#262626" stroke-width="1.1"/>
<line x1="394.2" y1="189.7" x2="396.8" y2="189.7" stroke="#262626" stroke-width="1.0"/>
<line x1="633.3" y1="189.7" x2="630.7" y2="189.7" stroke="#262626" stroke-width="1.0"/>
<text x="389.7" y="194.6" font-size="13.7" text-anchor="end" fill="#262626" style="font-family:'Liberation Sans',sans-serif">-5</text>
<line x1="394.2" y1="149.7" x2="396.8" y2="149.7" stroke="#262626" stroke-width="1.0"/>
<line x1="633.3" y1="149.7" x2="630.7" y2="149.7" stroke="#262626" stroke-width="1.0"/>
<text x="389.7" y="154.6" font-size="13.7" text-anchor="end" fill="#262626" style="font-family:'Liberation Sans',sans-serif">0</text>
<line x1="394.2" y1="109.7" x2="396.8" y2="109.7" stroke="#262626" stroke-width="1.0"/>
<line x1="633.3" y1="109.7" x2="630.7" y2="109.7" stroke="#262626" stroke-width="1.0"/>
<text x="389.7" y="114.6" font-size="13.7" text-anchor="end" fill="#262626" style="font-family:'Liberation Sans',sans-serif">5</text>
<text x="409" y="155.3" font-size="13.7" fill="#fff" style="font-family:'Liberation Sans',sans-serif">FF</text>
<rect x="639.2" y="109.7" width="13.5" height="80" fill="url(#cbd)" stroke="#9a9a9a" stroke-width="0.8"/>
<line x1="652.7" y1="189.7" x2="650.5" y2="189.7" stroke="#262626" stroke-width="0.9"/>
<text x="656.9" y="193.9" font-size="13.7" text-anchor="start" fill="#262626" style="font-family:'Liberation Sans',sans-serif">0</text>
<line x1="652.7" y1="158.08" x2="650.5" y2="158.08" stroke="#262626" stroke-width="0.9"/>
<text x="656.9" y="162.28" font-size="13.7" text-anchor="start" fill="#262626" style="font-family:'Liberation Sans',sans-serif">2</text>
<line x1="652.7" y1="126.46" x2="650.5" y2="126.46" stroke="#262626" stroke-width="0.9"/>
<text x="656.9" y="130.66" font-size="13.7" text-anchor="start" fill="#262626" style="font-family:'Liberation Sans',sans-serif">4</text>
<text x="645.9" y="104.1" font-size="13.4" text-anchor="middle" fill="#262626" style="font-family:'Liberation Sans',sans-serif">kW</text>
<text x="344.5" y="111.8" font-size="16.3" font-weight="bold" fill="#000" style="font-family:'Liberation Sans',sans-serif">d</text>
<text x="371.6" y="149.7" font-size="14.9" text-anchor="middle" fill="#262626" transform="rotate(-90 371.6 149.7)" style="font-family:'Liberation Sans',sans-serif">Fast time (ps)</text>
<g clip-path="url(#ce)">
<rect x="394.2" y="205" width="239.1" height="80" fill="#008066"/>
<line x1="495" y1="207.89999999999998" x2="524" y2="207.89999999999998" stroke="#0e8a68" stroke-width="1.2"/>
<line x1="495" y1="217.3" x2="524" y2="217.3" stroke="#0e8a68" stroke-width="1.2"/>
<line x1="495" y1="226.7" x2="524" y2="226.7" stroke="#0e8a68" stroke-width="1.2"/>
<line x1="495" y1="236.10000000000002" x2="524" y2="236.10000000000002" stroke="#0e8a68" stroke-width="1.2"/>
<line x1="495" y1="245.5" x2="524" y2="245.5" stroke="#0e8a68" stroke-width="1.2"/>
<line x1="495" y1="254.89999999999998" x2="524" y2="254.89999999999998" stroke="#0e8a68" stroke-width="1.2"/>
<line x1="495" y1="264.3" x2="524" y2="264.3" stroke="#0e8a68" stroke-width="1.2"/>
<line x1="495" y1="273.7" x2="524" y2="273.7" stroke="#0e8a68" stroke-width="1.2"/>
<line x1="495" y1="282.9" x2="524" y2="282.9" stroke="#0e8a68" stroke-width="1.2"/>
<path d="M525,213.8 L526.6,212.3 L527.4,212.7 L528.2,214 L529,214.1 L530.6,212.1 L532.2,214.2 L533,214.2 L534.6,212 L535.4,213.2 L536.2,213.8 L537.8,213.1 L538.6,211.9 L540.2,213.7 L541,213.7 L542.6,212.3 L543.4,212.7 L544.2,214.1 L545,214.2 L545.8,212.3 L546.6,212.4 L547.4,213 L548.2,214.6 L550.6,213.7 L552.2,215.5 L553,215.8 L553.8,214.7 L554.6,214.4 L555.4,216.1 L556.2,216.7" fill="none" stroke="#5aad66" stroke-width="0.9" opacity="0.9"/>
<path d="M525,219.6 L525.8,219.4 L526.6,217.6 L527.4,217.9 L528.2,217.2 L529.8,218.9 L530.6,218.4 L531.4,218.7 L532.2,218 L533,218 L533.8,217.3 L534.6,218.8 L535.4,218.7 L536.2,219 L537,218.2 L537.8,218.4 L538.6,217.9 L539.4,219.1 L540.2,219.1 L541,219.5 L541.8,219.2 L542.6,217.9 L543.4,217.6 L544.2,218.3 L545,218.3 L545.8,219.2 L547.4,218.8 L548.2,217.7 L549,217.5 L550.6,218.8 L552.2,219.3 L553,217.7 L553.8,217.2 L554.6,217.2 L555.4,218.8 L556.2,218.9" fill="none" stroke="#2a9566" stroke-width="0.8" opacity="0.7"/>
<path d="M525,224.7 L525.8,223.6 L528.2,225 L529,225.2 L529.8,223.5 L530.6,223.7 L531.4,224.8 L532.2,225.3 L534.6,223.7 L536.2,224.9 L537,224.7 L537.8,223.7 L540.2,225.3 L541.8,223.6 L544.2,225.5 L545,225.2 L545.8,223.9 L546.6,223.8 L547.4,226.2 L548.2,226.2 L549,225 L550.6,225.6 L551.4,226.7 L552.2,227 L553,226.1 L553.8,226.1 L554.6,227.3 L556.2,228.4" fill="none" stroke="#5aad66" stroke-width="0.9" opacity="0.9"/>
<path d="M525,230.5 L525.8,228.6 L529,230.2 L529.8,230.2 L531.4,228.8 L533,230.3 L534.6,230.8 L536.2,229.4 L537.8,229.8 L539.4,230.9 L541,229.3 L542.6,229.5 L543.4,230.5 L544.2,230.5 L545,229.9 L545.8,230.7 L547.4,228.6 L548.2,230.1 L549,230.3 L549.8,229.9 L550.6,230.1 L551.4,229.3 L552.2,229.7 L553,228.9 L554.6,230.4 L555.4,230.4 L556.2,229.6" fill="none" stroke="#2a9566" stroke-width="0.8" opacity="0.7"/>
<path d="M525,234.8 L525.8,234.6 L527.4,235.6 L529.8,234 L532.2,236.3 L533.8,233.9 L535.4,236.5 L536.2,234.7 L537,234.3 L537.8,234.2 L538.6,235.5 L539.4,236 L541,234.4 L542.6,236.2 L544.2,235 L545,235.3 L545.8,234.1 L547.4,236.4 L549,235.5 L549.8,235.8 L551.4,237.8 L552.2,237.1 L553.8,236.9 L555.4,238.4 L556.2,238.5" fill="none" stroke="#5aad66" stroke-width="0.9" opacity="0.9"/>
<path d="M525,239.4 L525.8,239.4 L526.6,240.7 L527.4,241.1 L528.2,241.1 L529,239.5 L531.4,240.3 L533,241.6 L534.6,240 L535.4,239.7 L536.2,240.6 L537.8,241.1 L540.2,239.5 L541,240.9 L541.8,240.4 L542.6,241.6 L543.4,241.5 L544.2,240.3 L545,240.1 L545.8,238.7 L547.4,241.1 L548.2,240.1 L549.8,240.4 L550.6,239.4 L551.4,239.3 L552.2,240.3 L553.8,241.3 L555.4,239.6 L556.2,239.3" fill="none" stroke="#2a9566" stroke-width="0.8" opacity="0.7"/>
<path d="M525,245.1 L526.6,246.8 L527.4,247 L529,244.6 L530.6,247 L531.4,246.7 L533,244.5 L534.6,246.7 L535.4,246.5 L536.2,245.4 L537,245.2 L538.6,247.2 L539.4,246.9 L541,245.4 L542.6,246.9 L543.4,246.6 L544.2,245.3 L545,245.4 L545.8,246.6 L546.6,246.8 L547.4,246.2 L548.2,246.4 L549,246.2 L549.8,247.7 L550.6,247.8 L551.4,248.5 L552.2,247.4 L553,247.4 L554.6,249.5 L556.2,248.1" fill="none" stroke="#5aad66" stroke-width="0.9" opacity="0.9"/>
<path d="M525,251.4 L525.8,252.5 L527.4,250.7 L529,249.8 L529.8,251.7 L530.6,251.8 L532.2,251.1 L533,250.1 L533.8,250.8 L534.6,250.8 L536.2,251.6 L537,251.6 L538.6,250.2 L539.4,250.1 L540.2,251.9 L541,251.5 L541.8,252.3 L543.4,250.2 L544.2,250.2 L545.8,252.1 L548.2,251.7 L549,250.3 L549.8,250.2 L550.6,251 L552.2,251.6 L553.8,250 L554.6,250.6 L555.4,249.9 L556.2,251.2" fill="none" stroke="#2a9566" stroke-width="0.8" opacity="0.7"/>
<path d="M525,256.4 L525.8,257.2 L526.6,257.3 L527.4,256.4 L529,256 L529.8,256.9 L531.4,256.2 L532.2,255.2 L533.8,256.7 L534.6,257.1 L535.4,256 L537,255.5 L537.8,257 L538.6,257.7 L539.4,256 L540.2,255.8 L541.8,257.5 L542.6,257.2 L543.4,255.4 L544.2,255.3 L546.6,256.9 L547.4,255.8 L548.2,255.5 L549.8,258.3 L550.6,257.9 L551.4,257 L552.2,257.2 L553.8,259.4 L554.6,259.3 L555.4,258.3 L556.2,258.7" fill="none" stroke="#5aad66" stroke-width="0.9" opacity="0.9"/>
<path d="M525,261.9 L526.6,260.4 L527.4,260.9 L528.2,262 L529.8,262 L530.6,260.3 L531.4,259.7 L533.8,262.7 L534.6,262.6 L537,260.1 L537.8,261.4 L538.6,261.6 L539.4,262.5 L542.6,260.6 L545.8,262.5 L546.6,260.9 L548.2,261.3 L549.8,262.6 L550.6,261.7 L552.2,261.5 L553,260.5 L555.4,262.4 L556.2,261.4" fill="none" stroke="#2a9566" stroke-width="0.8" opacity="0.7"/>
<path d="M525,268 L525.8,268 L526.6,266.9 L528.2,266.9 L529.8,268.3 L531.4,266.3 L532.2,266.9 L533,268 L533.8,268.4 L535.4,266.2 L536.2,266.6 L537,268.1 L537.8,268.5 L539.4,266.2 L541,268.1 L541.8,268.2 L542.6,266.6 L543.4,266.2 L544.2,266.7 L545,268 L545.8,267.3 L546.6,267.5 L547.4,266.8 L549.8,269 L550.6,268.7 L551.4,267.4 L553,270.4 L555.4,269 L556.2,270.6" fill="none" stroke="#5aad66" stroke-width="0.9" opacity="0.9"/>
<path d="M525,271.8 L525.8,272.2 L526.6,273.6 L528.2,273.4 L529,271.7 L529.8,271.4 L531.4,272.8 L533,273.5 L533.8,272.2 L534.6,272 L535.4,271.1 L536.2,272.2 L537.8,272.9 L538.6,273 L539.4,273 L540.2,271.3 L541,271.5 L541.8,272.8 L542.6,272.9 L543.4,273.9 L545,272 L545.8,271.7 L546.6,272.7 L548.2,273.4 L549,273.1 L549.8,271.7 L550.6,271.3 L551.4,272.3 L553.8,273.4 L556.2,271.2" fill="none" stroke="#2a9566" stroke-width="0.8" opacity="0.7"/>
<path d="M525,279.2 L526.6,277.5 L527.4,277.5 L529,279.3 L530.6,277.6 L532.2,277.9 L533,278.5 L533.8,278.7 L534.6,277.8 L537,279.4 L537.8,278.1 L538.6,277.7 L539.4,277.8 L541,278.8 L543.4,276.6 L544.2,278.7 L545,279.1 L546.6,277.6 L549,280.1 L550.6,278.4 L552.2,281.3 L554.6,279.3 L555.4,281.4 L556.2,281.9" fill="none" stroke="#5aad66" stroke-width="0.9" opacity="0.9"/>
<path d="M525,283.8 L525.8,283.9 L526.6,283.5 L527.4,282.3 L529,282.9 L529.8,282.7 L530.6,283.7 L531.4,283.8 L533,282.9 L533.8,283.1 L536.2,284.7 L537,283.4 L537.8,283 L539.4,282.9 L540.2,283.4 L541.8,283.4 L542.6,283.9 L544.2,282.5 L545.8,283.1 L546.6,284.3 L547.4,284.4 L548.2,283.9 L549,282.7 L549.8,282.6 L550.6,282.9 L551.4,284.5 L552.2,284.9 L553,283.4 L554.6,282.6 L556.2,282.7" fill="none" stroke="#2a9566" stroke-width="0.8" opacity="0.7"/>
<path d="M556.5,213.7 L559.7,214 L562.8,215 L566,217 L568.5,219.2" fill="none" stroke="#80c066" stroke-width="1.0" opacity="0.9"/>
<path d="M556.5,225.1 L559.7,225.4 L562.8,226.4 L566,228.4 L568.5,230.6" fill="none" stroke="#80c066" stroke-width="1.0" opacity="0.9"/>
<path d="M556.5,235.6 L559.7,235.9 L562.8,236.9 L566,238.9 L568.5,241.1" fill="none" stroke="#80c066" stroke-width="1.0" opacity="0.9"/>
<path d="M556.5,246.5 L559.7,246.8 L562.8,247.8 L566,249.8 L568.5,252" fill="none" stroke="#80c066" stroke-width="1.0" opacity="0.9"/>
<path d="M556.5,256.8 L559.7,257.1 L562.8,258.1 L566,260.1 L568.5,262.3" fill="none" stroke="#80c066" stroke-width="1.0" opacity="0.9"/>
<path d="M556.5,267.7 L559.7,268 L562.8,269 L566,271 L568.5,273.2" fill="none" stroke="#80c066" stroke-width="1.0" opacity="0.9"/>
<path d="M556.5,278.7 L559.7,279 L562.8,280 L566,282 L568.5,284.2" fill="none" stroke="#80c066" stroke-width="1.0" opacity="0.9"/>
<line x1="569.6" y1="205" x2="569.6" y2="285" stroke="#70b866" stroke-width="0.9" stroke-dasharray="1.5,1.5"/>
<path d="M571,209.9 L586,209.7 C589,209.5 590.5,208 591.5,205" fill="none" stroke="#c0dc66" stroke-width="1.5"/>
<line x1="577" y1="231.8" x2="607.8" y2="231.8" stroke="#c8e066" stroke-width="1.4"/>
<line x1="570.5" y1="254.1" x2="607.8" y2="254.1" stroke="#c8e066" stroke-width="1.4"/>
<line x1="577" y1="272.3" x2="607.8" y2="272.3" stroke="#c8e066" stroke-width="1.4"/>
<path d="M571,225.3 C576,225.3 576,238.3 571,238.3" fill="none" stroke="#8cc466" stroke-width="1"/>
<path d="M571,265.8 C576,265.8 576,278.8 571,278.8" fill="none" stroke="#8cc466" stroke-width="1"/>
</g>
<line x1="394.2" y1="205" x2="633.3" y2="205" stroke="#262626" stroke-width="1.1"/>
<line x1="394.2" y1="285" x2="633.3" y2="285" stroke="#262626" stroke-width="1.1"/>
<line x1="394.2" y1="204.45" x2="394.2" y2="285.55" stroke="#262626" stroke-width="1.1"/>
<line x1="633.3" y1="204.45" x2="633.3" y2="285.55" stroke="#262626" stroke-width="1.1"/>
<line x1="418.11" y1="285" x2="418.11" y2="282.4" stroke="#262626" stroke-width="1.0"/>
<line x1="418.11" y1="205" x2="418.11" y2="207.6" stroke="#262626" stroke-width="1.0"/>
<text x="418.11" y="302" font-size="13.7" text-anchor="middle" fill="#262626" style="font-family:'Liberation Sans',sans-serif">8</text>
<line x1="465.93" y1="285" x2="465.93" y2="282.4" stroke="#262626" stroke-width="1.0"/>
<line x1="465.93" y1="205" x2="465.93" y2="207.6" stroke="#262626" stroke-width="1.0"/>
<text x="465.93" y="302" font-size="13.7" text-anchor="middle" fill="#262626" style="font-family:'Liberation Sans',sans-serif">4</text>
<line x1="513.75" y1="285" x2="513.75" y2="282.4" stroke="#262626" stroke-width="1.0"/>
<line x1="513.75" y1="205" x2="513.75" y2="207.6" stroke="#262626" stroke-width="1.0"/>
<text x="513.75" y="302" font-size="13.7" text-anchor="middle" fill="#262626" style="font-family:'Liberation Sans',sans-serif">0</text>
<line x1="561.57" y1="285" x2="561.57" y2="282.4" stroke="#262626" stroke-width="1.0"/>
<line x1="561.57" y1="205" x2="561.57" y2="207.6" stroke="#262626" stroke-width="1.0"/>
<text x="561.57" y="302" font-size="13.7" text-anchor="middle" fill="#262626" style="font-family:'Liberation Sans',sans-serif">-4</text>
<line x1="609.39" y1="285" x2="609.39" y2="282.4" stroke="#262626" stroke-width="1.0"/>
<line x1="609.39" y1="205" x2="609.39" y2="207.6" stroke="#262626" stroke-width="1.0"/>
<text x="609.39" y="302" font-size="13.7" text-anchor="middle" fill="#262626" style="font-family:'Liberation Sans',sans-serif">-8</text>
<line x1="394.2" y1="285" x2="396.8" y2="285" stroke="#262626" stroke-width="1.0"/>
<line x1="633.3" y1="285" x2="630.7" y2="285" stroke="#262626" stroke-width="1.0"/>
<text x="389.7" y="289.9" font-size="13.7" text-anchor="end" fill="#262626" style="font-family:'Liberation Sans',sans-serif">-5</text>
<line x1="394.2" y1="245" x2="396.8" y2="245" stroke="#262626" stroke-width="1.0"/>
<line x1="633.3" y1="245" x2="630.7" y2="245" stroke="#262626" stroke-width="1.0"/>
<text x="389.7" y="249.9" font-size="13.7" text-anchor="end" fill="#262626" style="font-family:'Liberation Sans',sans-serif">0</text>
<line x1="394.2" y1="205" x2="396.8" y2="205" stroke="#262626" stroke-width="1.0"/>
<line x1="633.3" y1="205" x2="630.7" y2="205" stroke="#262626" stroke-width="1.0"/>
<text x="389.7" y="209.9" font-size="13.7" text-anchor="end" fill="#262626" style="font-family:'Liberation Sans',sans-serif">5</text>
<text x="409" y="248.2" font-size="13.7" fill="#fff" style="font-family:'Liberation Sans',sans-serif">SH</text>
<rect x="639.7" y="205" width="13.7" height="80" fill="url(#cbe)" stroke="#9a9a9a" stroke-width="0.8"/>
<line x1="653.4" y1="285" x2="651.2" y2="285" stroke="#262626" stroke-width="0.9"/>
<text x="657.6" y="289.2" font-size="13.7" text-anchor="start" fill="#262626" style="font-family:'Liberation Sans',sans-serif">0</text>
<line x1="653.4" y1="218.88" x2="651.2" y2="218.88" stroke="#262626" stroke-width="0.9"/>
<text x="657.6" y="223.08" font-size="13.7" text-anchor="start" fill="#262626" style="font-family:'Liberation Sans',sans-serif">50</text>
<text x="646.5" y="201.3" font-size="13.4" text-anchor="middle" fill="#262626" style="font-family:'Liberation Sans',sans-serif">W</text>
<text x="344.5" y="207.3" font-size="16.3" font-weight="bold" fill="#000" style="font-family:'Liberation Sans',sans-serif">e</text>
<text x="371.6" y="245" font-size="14.9" text-anchor="middle" fill="#262626" transform="rotate(-90 371.6 245)" style="font-family:'Liberation Sans',sans-serif">Fast time (ps)</text>
<text x="513.9" y="318.4" font-size="14.9" text-anchor="middle" fill="#262626" style="font-family:'Liberation Sans',sans-serif">Relative phase detuning <tspan style="font-family:'Liberation Serif',serif;font-style:normal">Δ</tspan><tspan dy="3.5" font-size="10" style="font-family:'Liberation Serif',serif;font-style:normal">1</tspan></text>
<line x1="58.8" y1="337.4" x2="293.8" y2="337.4" stroke="#262626" stroke-width="1.1"/>
<line x1="58.8" y1="444.9" x2="293.8" y2="444.9" stroke="#262626" stroke-width="1.1"/>
<line x1="58.8" y1="336.85" x2="58.8" y2="445.45" stroke="#d42424" stroke-width="1.1"/>
<line x1="293.8" y1="336.85" x2="293.8" y2="445.45" stroke="#228b22" stroke-width="1.1"/>
<g clip-path="url(#cf2)">
<path d="M58.8,444.9 L101.1,444.8 L111.1,444.5 L118.7,444.1 L125.2,443.4 L130.8,442.2 L133.1,441.5 L135.5,440.6 L137.5,439.6 L139.6,438.4 L141.3,437.2 L143.1,435.7 L144.9,434 L146.3,432.4 L149.3,428.5 L152.2,423.7 L155.2,417.7 L158.1,410.6 L160.7,403.4 L166.9,385.7 L169.8,378.3 L171.6,374.9 L173.1,372.7 L173.9,371.8 L174.8,371.1 L175.7,370.8 L176.3,370.7 L176.9,370.8 L177.8,371.1 L178.7,371.8 L179.5,372.7 L181,374.9 L182.8,378.3 L185.7,385.7 L191.9,403.4 L194.5,410.6 L197.4,417.7 L200.4,423.7 L203.3,428.5 L206.3,432.4 L207.7,434 L209.5,435.7 L211.3,437.2 L213,438.4 L215.1,439.6 L217.1,440.6 L219.5,441.5 L221.8,442.2 L227.4,443.4 L233.9,444.1 L241.5,444.5 L251.5,444.8 L293.8,444.9" fill="none" stroke="#d42424" stroke-width="1.5" stroke-linejoin="round"/>
<path d="M58.8,444.9 L114,444.9 L123.7,444.7 L130.2,444.5 L136.1,443.9 L140.8,443 L142.8,442.4 L144.6,441.6 L146.3,440.7 L147.8,439.7 L149.6,438.2 L151,436.7 L152.5,434.8 L153.7,433.1 L155.2,430.4 L156.3,428 L158.7,422 L160.7,415.4 L163.1,406.3 L165.1,397 L169.8,374.2 L171.9,365.6 L173.1,361.8 L174.2,359 L174.8,358 L175.4,357.4 L176.3,357 L177.2,357.4 L177.8,358 L178.4,359 L179.5,361.8 L180.7,365.6 L182.8,374.2 L187.5,397 L189.5,406.3 L191.9,415.4 L193.9,422 L196.3,428 L197.4,430.4 L198.9,433.1 L200.1,434.8 L201.6,436.7 L203,438.2 L204.8,439.7 L206.3,440.7 L208,441.6 L209.8,442.4 L211.8,443 L216.5,443.9 L222.4,444.5 L228.9,444.7 L238.6,444.9 L293.8,444.9" fill="none" stroke="#d42424" stroke-width="1.5" stroke-linejoin="round" stroke-dasharray="5.2,4.2"/>
<path d="M58.8,444.9 L147.2,444.9 L150.4,444.7 L152.8,444.4 L154.6,443.8 L156,443 L157.2,442 L158.1,440.9 L159,439.6 L159.8,437.9 L160.7,435.9 L161.6,433.3 L163.1,428 L164.6,421.2 L166,412.9 L170.7,381.2 L172.5,370.7 L173.7,365.3 L174.5,362.4 L175.4,360.6 L176,360 L176.3,360 L176.6,360 L177.2,360.6 L178.1,362.4 L178.9,365.3 L180.1,370.7 L181.9,381.2 L186.6,412.9 L188.1,421.2 L189.5,428 L191,433.3 L191.9,435.9 L192.8,437.9 L193.6,439.6 L194.5,440.9 L195.4,442 L196.6,443 L198,443.8 L199.8,444.4 L202.1,444.7 L205.4,444.9 L293.8,444.9" fill="none" stroke="#228b22" stroke-width="1.5" stroke-linejoin="round"/>
</g>
<line x1="58.8" y1="444.9" x2="58.8" y2="442.3" stroke="#262626" stroke-width="1.0"/>
<line x1="58.8" y1="337.4" x2="58.8" y2="340" stroke="#262626" stroke-width="1.0"/>
<text x="58.8" y="461.9" font-size="13.7" text-anchor="middle" fill="#262626" style="font-family:'Liberation Sans',sans-serif">-1</text>
<line x1="117.55" y1="444.9" x2="117.55" y2="442.3" stroke="#262626" stroke-width="1.0"/>
<line x1="117.55" y1="337.4" x2="117.55" y2="340" stroke="#262626" stroke-width="1.0"/>
<text x="117.55" y="461.9" font-size="13.7" text-anchor="middle" fill="#262626" style="font-family:'Liberation Sans',sans-serif">-0.5</text>
<line x1="176.3" y1="444.9" x2="176.3" y2="442.3" stroke="#262626" stroke-width="1.0"/>
<line x1="176.3" y1="337.4" x2="176.3" y2="340" stroke="#262626" stroke-width="1.0"/>
<text x="176.3" y="461.9" font-size="13.7" text-anchor="middle" fill="#262626" style="font-family:'Liberation Sans',sans-serif">0</text>
<line x1="235.05" y1="444.9" x2="235.05" y2="442.3" stroke="#262626" stroke-width="1.0"/>
<line x1="235.05" y1="337.4" x2="235.05" y2="340" stroke="#262626" stroke-width="1.0"/>
<text x="235.05" y="461.9" font-size="13.7" text-anchor="middle" fill="#262626" style="font-family:'Liberation Sans',sans-serif">0.5</text>
<line x1="293.8" y1="444.9" x2="293.8" y2="442.3" stroke="#262626" stroke-width="1.0"/>
<line x1="293.8" y1="337.4" x2="293.8" y2="340" stroke="#262626" stroke-width="1.0"/>
<text x="293.8" y="461.9" font-size="13.7" text-anchor="middle" fill="#262626" style="font-family:'Liberation Sans',sans-serif">1</text>
<line x1="58.8" y1="444.9" x2="61.4" y2="444.9" stroke="#d42424" stroke-width="1.0"/>
<text x="54.3" y="449.8" font-size="13.7" text-anchor="end" fill="#d42424" style="font-family:'Liberation Sans',sans-serif">0</text>
<line x1="58.8" y1="391.15" x2="61.4" y2="391.15" stroke="#d42424" stroke-width="1.0"/>
<text x="54.3" y="396.05" font-size="13.7" text-anchor="end" fill="#d42424" style="font-family:'Liberation Sans',sans-serif">2</text>
<line x1="58.8" y1="337.4" x2="61.4" y2="337.4" stroke="#d42424" stroke-width="1.0"/>
<text x="54.3" y="342.3" font-size="13.7" text-anchor="end" fill="#d42424" style="font-family:'Liberation Sans',sans-serif">4</text>
<line x1="293.8" y1="444.9" x2="291.2" y2="444.9" stroke="#228b22" stroke-width="1"/>
<text x="298.4" y="449.8" font-size="13.7" text-anchor="start" fill="#228b22" style="font-family:'Liberation Sans',sans-serif">0</text>
<line x1="293.8" y1="409.07" x2="291.2" y2="409.07" stroke="#228b22" stroke-width="1"/>
<text x="298.4" y="413.97" font-size="13.7" text-anchor="start" fill="#228b22" style="font-family:'Liberation Sans',sans-serif">20</text>
<line x1="293.8" y1="373.23" x2="291.2" y2="373.23" stroke="#228b22" stroke-width="1"/>
<text x="298.4" y="378.13" font-size="13.7" text-anchor="start" fill="#228b22" style="font-family:'Liberation Sans',sans-serif">40</text>
<line x1="293.8" y1="337.4" x2="291.2" y2="337.4" stroke="#228b22" stroke-width="1"/>
<text x="298.4" y="342.3" font-size="13.7" text-anchor="start" fill="#228b22" style="font-family:'Liberation Sans',sans-serif">60</text>
<line x1="201" y1="351.4" x2="226.5" y2="351.4" stroke="#d42424" stroke-width="1.5"/>
<text x="228.9" y="355.7" font-size="12" fill="#262626" style="font-family:'Liberation Sans',sans-serif">FF-CTWE</text>
<line x1="201" y1="365.5" x2="226.5" y2="365.5" stroke="#d42424" stroke-width="1.5" stroke-dasharray="5.2,4.2"/>
<text x="228.9" y="369.8" font-size="12" fill="#262626" style="font-family:'Liberation Sans',sans-serif">FF-SMFE</text>
<line x1="201" y1="380.0" x2="226.5" y2="380.0" stroke="#228b22" stroke-width="1.5"/>
<text x="228.9" y="384.3" font-size="12" fill="#262626" style="font-family:'Liberation Sans',sans-serif">SH-CTWE</text>
<text x="-0.3" y="331.5" font-size="16.3" font-weight="bold" fill="#000" style="font-family:'Liberation Sans',sans-serif">f</text>
<text x="41.6" y="391.1" font-size="14.9" text-anchor="middle" fill="#d42424" transform="rotate(-90 41.6 391.1)" style="font-family:'Liberation Sans',sans-serif">Power (kW)</text>
<text x="330" y="391.1" font-size="14.9" text-anchor="middle" fill="#228b22" transform="rotate(-90 330 391.1)" style="font-family:'Liberation Sans',sans-serif">Power (W)</text>
<text x="176.4" y="480.5" font-size="14.9" text-anchor="middle" fill="#262626" style="font-family:'Liberation Sans',sans-serif">Time (ps)</text>
<g clip-path="url(#cg)">
<path d="M398,445.7 L440,445.7 L495.1,400.6 L501,395.8 L504.9,392.9" fill="none" stroke="#d42424" stroke-width="1.4" stroke-linejoin="round" stroke-dasharray="5.2,4.2"/>
<path d="M522.2,392.9 L526.1,395.8 L532,400.6 L587.1,445.7 L629.1,445.7" fill="none" stroke="#d42424" stroke-width="1.4" stroke-linejoin="round" stroke-dasharray="5.2,4.2"/>
<path d="M398,445.7 L455.2,445.7 L494.7,403.4 L503.2,394.5 L506.4,391.5 L509.1,389.4 L511.4,388.2 L512.6,388 L513.5,387.9 L514.5,388 L515.7,388.2 L518,389.4 L520.7,391.5 L523.9,394.5 L532.4,403.4 L571.9,445.7 L629.1,445.7" fill="none" stroke="#d42424" stroke-width="1.5" stroke-linejoin="round"/>
<path d="M398,445.7 L405.3,445.7 L409,432.2 L410.7,426.8 L412.6,421.4 L414.8,416.1 L416.9,411.5 L419.2,407 L421.7,402.6 L424.6,398.1 L427.9,393.4 L431.5,388.6 L435.7,383.5 L440.6,378.1 L445.4,372.9 L450.2,368.2 L454.6,364.1 L457.9,361.3 L461.2,358.8 L464.4,356.4 L467.5,354.5 L470.6,352.7 L473.9,351 L477.2,349.6 L480.4,348.4 L483.7,347.4 L487.2,346.5 L490.8,345.8 L494.7,345.2 L503.3,344.4 L513.5,344.1 L523.8,344.4 L532.4,345.2 L536.3,345.8 L539.9,346.5 L543.4,347.4 L546.7,348.4 L549.9,349.6 L553.2,351 L556.5,352.7 L559.6,354.5 L562.7,356.4 L565.9,358.8 L569.2,361.3 L572.5,364.1 L576.9,368.2 L581.7,372.9 L586.5,378.1 L591.4,383.5 L595.6,388.6 L599.2,393.4 L602.5,398.1 L605.4,402.6 L607.9,407 L610.2,411.5 L612.3,416.1 L614.5,421.4 L616.4,426.8 L618.1,432.2 L621.8,445.7 L629.1,445.7" fill="none" stroke="#228b22" stroke-width="1.5" stroke-linejoin="round"/>
<line x1="513.55" y1="387.87" x2="513.55" y2="337.6" stroke="#d42424" stroke-width="1.2"/>
<line x1="513.55" y1="343.73" x2="513.55" y2="337.6" stroke="#228b22" stroke-width="1.2"/>
<path d="M398.5,441.5 C400.5,440.5 402,440.8 404,442.7" fill="none" stroke="#228b22" stroke-width="1.3"/>
<path d="M628.6,441.5 C626.6,440.5 625.1,440.8 623.1,442.7" fill="none" stroke="#228b22" stroke-width="1.3"/>
</g>
<line x1="398" y1="337.6" x2="629.1" y2="337.6" stroke="#262626" stroke-width="1.1"/>
<line x1="398" y1="442.7" x2="629.1" y2="442.7" stroke="#262626" stroke-width="1.1"/>
<line x1="398" y1="337.05" x2="398" y2="443.25" stroke="#d42424" stroke-width="1.1"/>
<line x1="629.1" y1="337.05" x2="629.1" y2="443.25" stroke="#228b22" stroke-width="1.1"/>
<line x1="398" y1="442.7" x2="398" y2="440.1" stroke="#262626" stroke-width="1.0"/>
<line x1="398" y1="337.6" x2="398" y2="340.2" stroke="#262626" stroke-width="1.0"/>
<text x="398" y="459.7" font-size="13.7" text-anchor="middle" fill="#262626" style="font-family:'Liberation Sans',sans-serif">-6</text>
<line x1="436.52" y1="442.7" x2="436.52" y2="440.1" stroke="#262626" stroke-width="1.0"/>
<line x1="436.52" y1="337.6" x2="436.52" y2="340.2" stroke="#262626" stroke-width="1.0"/>
<text x="436.52" y="459.7" font-size="13.7" text-anchor="middle" fill="#262626" style="font-family:'Liberation Sans',sans-serif">-4</text>
<line x1="475.03" y1="442.7" x2="475.03" y2="440.1" stroke="#262626" stroke-width="1.0"/>
<line x1="475.03" y1="337.6" x2="475.03" y2="340.2" stroke="#262626" stroke-width="1.0"/>
<text x="475.03" y="459.7" font-size="13.7" text-anchor="middle" fill="#262626" style="font-family:'Liberation Sans',sans-serif">-2</text>
<line x1="513.55" y1="442.7" x2="513.55" y2="440.1" stroke="#262626" stroke-width="1.0"/>
<line x1="513.55" y1="337.6" x2="513.55" y2="340.2" stroke="#262626" stroke-width="1.0"/>
<text x="513.55" y="459.7" font-size="13.7" text-anchor="middle" fill="#262626" style="font-family:'Liberation Sans',sans-serif">0</text>
<line x1="552.07" y1="442.7" x2="552.07" y2="440.1" stroke="#262626" stroke-width="1.0"/>
<line x1="552.07" y1="337.6" x2="552.07" y2="340.2" stroke="#262626" stroke-width="1.0"/>
<text x="552.07" y="459.7" font-size="13.7" text-anchor="middle" fill="#262626" style="font-family:'Liberation Sans',sans-serif">2</text>
<line x1="590.58" y1="442.7" x2="590.58" y2="440.1" stroke="#262626" stroke-width="1.0"/>
<line x1="590.58" y1="337.6" x2="590.58" y2="340.2" stroke="#262626" stroke-width="1.0"/>
<text x="590.58" y="459.7" font-size="13.7" text-anchor="middle" fill="#262626" style="font-family:'Liberation Sans',sans-serif">4</text>
<line x1="629.1" y1="442.7" x2="629.1" y2="440.1" stroke="#262626" stroke-width="1.0"/>
<line x1="629.1" y1="337.6" x2="629.1" y2="340.2" stroke="#262626" stroke-width="1.0"/>
<text x="629.1" y="459.7" font-size="13.7" text-anchor="middle" fill="#262626" style="font-family:'Liberation Sans',sans-serif">6</text>
<line x1="398" y1="407.67" x2="400.6" y2="407.67" stroke="#d42424" stroke-width="1"/>
<line x1="629.1" y1="407.67" x2="626.5" y2="407.67" stroke="#228b22" stroke-width="1"/>
<line x1="398" y1="372.63" x2="400.6" y2="372.63" stroke="#d42424" stroke-width="1"/>
<line x1="629.1" y1="372.63" x2="626.5" y2="372.63" stroke="#228b22" stroke-width="1"/>
<line x1="538.3" y1="351.6" x2="562.7" y2="351.6" stroke="#d42424" stroke-width="1.5"/>
<text x="564.3" y="355.9" font-size="12" fill="#262626" style="font-family:'Liberation Sans',sans-serif">FF-CTWE</text>
<line x1="538.3" y1="365.4" x2="562.7" y2="365.4" stroke="#d42424" stroke-width="1.5" stroke-dasharray="5.2,4.2"/>
<text x="564.3" y="369.7" font-size="12" fill="#262626" style="font-family:'Liberation Sans',sans-serif">FF-SMFE</text>
<line x1="538.3" y1="378.9" x2="562.7" y2="378.9" stroke="#228b22" stroke-width="1.5"/>
<text x="564.3" y="383.2" font-size="12" fill="#262626" style="font-family:'Liberation Sans',sans-serif">SH-CTWE</text>
<text x="344.5" y="332" font-size="16.3" font-weight="bold" fill="#000" style="font-family:'Liberation Sans',sans-serif">g</text>
<text x="390.8" y="390.1" font-size="14.9" text-anchor="middle" fill="#d42424" transform="rotate(-90 390.8 390.1)" style="font-family:'Liberation Sans',sans-serif">Power (20 dB/div)</text>
<text x="646.2" y="390.1" font-size="14.9" text-anchor="middle" fill="#228b22" transform="rotate(-90 646.2 390.1)" style="font-family:'Liberation Sans',sans-serif">Power (20 dB/div)</text>
<text x="513.5" y="477.8" font-size="14.9" text-anchor="middle" fill="#262626" style="font-family:'Liberation Sans',sans-serif">Frequency (THz)</text>
<rect x="55.1" y="498.4" width="236.8" height="108.8" fill="url(#g1)"/>
<line x1="55.1" y1="498.4" x2="291.9" y2="498.4" stroke="#262626" stroke-width="1.1"/>
<line x1="55.1" y1="607.2" x2="291.9" y2="607.2" stroke="#262626" stroke-width="1.1"/>
<line x1="55.1" y1="497.85" x2="55.1" y2="607.75" stroke="#262626" stroke-width="1.1"/>
<line x1="291.9" y1="497.85" x2="291.9" y2="607.75" stroke="#262626" stroke-width="1.1"/>
<line x1="55.1" y1="607.2" x2="55.1" y2="604.6" stroke="#262626" stroke-width="1.0"/>
<text x="55.1" y="623.4" font-size="13.7" text-anchor="middle" fill="#262626" style="font-family:'Liberation Sans',sans-serif">0</text>
<line x1="102.46" y1="607.2" x2="102.46" y2="604.6" stroke="#262626" stroke-width="1.0"/>
<text x="102.46" y="623.4" font-size="13.7" text-anchor="middle" fill="#262626" style="font-family:'Liberation Sans',sans-serif">5</text>
<line x1="149.82" y1="607.2" x2="149.82" y2="604.6" stroke="#262626" stroke-width="1.0"/>
<text x="149.82" y="623.4" font-size="13.7" text-anchor="middle" fill="#262626" style="font-family:'Liberation Sans',sans-serif">10</text>
<line x1="197.18" y1="607.2" x2="197.18" y2="604.6" stroke="#262626" stroke-width="1.0"/>
<text x="197.18" y="623.4" font-size="13.7" text-anchor="middle" fill="#262626" style="font-family:'Liberation Sans',sans-serif">15</text>
<line x1="244.54" y1="607.2" x2="244.54" y2="604.6" stroke="#262626" stroke-width="1.0"/>
<text x="244.54" y="623.4" font-size="13.7" text-anchor="middle" fill="#262626" style="font-family:'Liberation Sans',sans-serif">20</text>
<line x1="291.9" y1="607.2" x2="291.9" y2="604.6" stroke="#262626" stroke-width="1.0"/>
<text x="291.9" y="623.4" font-size="13.7" text-anchor="middle" fill="#262626" style="font-family:'Liberation Sans',sans-serif">25</text>
<line x1="55.1" y1="607.2" x2="57.7" y2="607.2" stroke="#262626" stroke-width="1.0"/>
<text x="50.6" y="612.1" font-size="13.7" text-anchor="end" fill="#262626" style="font-family:'Liberation Sans',sans-serif">-1</text>
<line x1="55.1" y1="552.8" x2="57.7" y2="552.8" stroke="#262626" stroke-width="1.0"/>
<text x="50.6" y="557.7" font-size="13.7" text-anchor="end" fill="#262626" style="font-family:'Liberation Sans',sans-serif">0</text>
<line x1="55.1" y1="498.4" x2="57.7" y2="498.4" stroke="#262626" stroke-width="1.0"/>
<text x="50.6" y="503.3" font-size="13.7" text-anchor="end" fill="#262626" style="font-family:'Liberation Sans',sans-serif">1</text>
<text x="65.4" y="526.9" font-size="13.7" fill="#fff" style="font-family:'Liberation Sans',sans-serif">FF</text>
<rect x="305.9" y="499.2" width="13.7" height="107.1" fill="url(#cbh)" stroke="#9a9a9a" stroke-width="0.8"/>
<line x1="319.6" y1="606.3" x2="317.4" y2="606.3" stroke="#262626" stroke-width="0.9"/>
<text x="323.8" y="610.5" font-size="13.7" text-anchor="start" fill="#262626" style="font-family:'Liberation Sans',sans-serif">0</text>
<line x1="319.6" y1="570.6" x2="317.4" y2="570.6" stroke="#262626" stroke-width="0.9"/>
<text x="323.8" y="574.8" font-size="13.7" text-anchor="start" fill="#262626" style="font-family:'Liberation Sans',sans-serif">1</text>
<line x1="319.6" y1="534.9" x2="317.4" y2="534.9" stroke="#262626" stroke-width="0.9"/>
<text x="323.8" y="539.1" font-size="13.7" text-anchor="start" fill="#262626" style="font-family:'Liberation Sans',sans-serif">2</text>
<line x1="319.6" y1="499.2" x2="317.4" y2="499.2" stroke="#262626" stroke-width="0.9"/>
<text x="323.8" y="503.4" font-size="13.7" text-anchor="start" fill="#262626" style="font-family:'Liberation Sans',sans-serif">3</text>
<text x="312.7" y="491.8" font-size="13.4" text-anchor="middle" fill="#262626" style="font-family:'Liberation Sans',sans-serif">kW</text>
<text x="0.5" y="490.8" font-size="16.3" font-weight="bold" fill="#000" style="font-family:'Liberation Sans',sans-serif">h</text>
<text x="34.4" y="553.3" font-size="14.9" text-anchor="middle" fill="#262626" transform="rotate(-90 34.4 553.3)" style="font-family:'Liberation Sans',sans-serif">Time (ps)</text>
<text x="174.2" y="642" font-size="14.9" text-anchor="middle" fill="#262626" style="font-family:'Liberation Sans',sans-serif">Propagation distance (mm)</text>
<rect x="55" y="656.5" width="236.6" height="108.9" fill="#008066"/>
<rect x="55" y="689.17" width="3" height="43.56" fill="url(#g2)" shape-rendering="crispEdges"/>
<rect x="58" y="689.17" width="3" height="43.56" fill="url(#g3)" shape-rendering="crispEdges"/>
<rect x="61" y="689.17" width="3" height="43.56" fill="url(#g4)" shape-rendering="crispEdges"/>
<rect x="64" y="689.17" width="3" height="43.56" fill="url(#g5)" shape-rendering="crispEdges"/>
<rect x="67" y="689.17" width="3" height="43.56" fill="url(#g6)" shape-rendering="crispEdges"/>
<rect x="70" y="689.17" width="3" height="43.56" fill="url(#g7)" shape-rendering="crispEdges"/>
<rect x="73" y="689.17" width="3" height="43.56" fill="url(#g8)" shape-rendering="crispEdges"/>
<rect x="76" y="689.17" width="3" height="43.56" fill="url(#g9)" shape-rendering="crispEdges"/>
<rect x="79" y="689.17" width="3" height="43.56" fill="url(#g10)" shape-rendering="crispEdges"/>
<rect x="82" y="689.17" width="3" height="43.56" fill="url(#g11)" shape-rendering="crispEdges"/>
<rect x="85" y="689.17" width="3" height="43.56" fill="url(#g12)" shape-rendering="crispEdges"/>
<rect x="88" y="689.17" width="3" height="43.56" fill="url(#g13)" shape-rendering="crispEdges"/>
<rect x="91" y="689.17" width="3" height="43.56" fill="url(#g14)" shape-rendering="crispEdges"/>
<rect x="94" y="689.17" width="3" height="43.56" fill="url(#g15)" shape-rendering="crispEdges"/>
<rect x="97" y="689.17" width="3" height="43.56" fill="url(#g16)" shape-rendering="crispEdges"/>
<rect x="100" y="689.17" width="3" height="43.56" fill="url(#g17)" shape-rendering="crispEdges"/>
<rect x="103" y="689.17" width="3" height="43.56" fill="url(#g18)" shape-rendering="crispEdges"/>
<rect x="106" y="689.17" width="3" height="43.56" fill="url(#g19)" shape-rendering="crispEdges"/>
<rect x="109" y="689.17" width="3" height="43.56" fill="url(#g20)" shape-rendering="crispEdges"/>
<rect x="112" y="689.17" width="3" height="43.56" fill="url(#g21)" shape-rendering="crispEdges"/>
<rect x="115" y="689.17" width="3" height="43.56" fill="url(#g22)" shape-rendering="crispEdges"/>
<rect x="118" y="689.17" width="3" height="43.56" fill="url(#g23)" shape-rendering="crispEdges"/>
<rect x="121" y="689.17" width="3" height="43.56" fill="url(#g24)" shape-rendering="crispEdges"/>
<rect x="124" y="689.17" width="3" height="43.56" fill="url(#g25)" shape-rendering="crispEdges"/>
<rect x="127" y="689.17" width="3" height="43.56" fill="url(#g26)" shape-rendering="crispEdges"/>
<rect x="130" y="689.17" width="3" height="43.56" fill="url(#g27)" shape-rendering="crispEdges"/>
<rect x="133" y="689.17" width="3" height="43.56" fill="url(#g28)" shape-rendering="crispEdges"/>
<rect x="136" y="689.17" width="3" height="43.56" fill="url(#g29)" shape-rendering="crispEdges"/>
<rect x="139" y="689.17" width="3" height="43.56" fill="url(#g30)" shape-rendering="crispEdges"/>
<rect x="142" y="689.17" width="3" height="43.56" fill="url(#g31)" shape-rendering="crispEdges"/>
<rect x="145" y="689.17" width="3" height="43.56" fill="url(#g32)" shape-rendering="crispEdges"/>
<rect x="148" y="689.17" width="3" height="43.56" fill="url(#g33)" shape-rendering="crispEdges"/>
<rect x="151" y="689.17" width="3" height="43.56" fill="url(#g34)" shape-rendering="crispEdges"/>
<rect x="154" y="689.17" width="3" height="43.56" fill="url(#g35)" shape-rendering="crispEdges"/>
<rect x="157" y="689.17" width="3" height="43.56" fill="url(#g36)" shape-rendering="crispEdges"/>
<rect x="160" y="689.17" width="3" height="43.56" fill="url(#g37)" shape-rendering="crispEdges"/>
<rect x="163" y="689.17" width="3" height="43.56" fill="url(#g38)" shape-rendering="crispEdges"/>
<rect x="166" y="689.17" width="3" height="43.56" fill="url(#g39)" shape-rendering="crispEdges"/>
<rect x="169" y="689.17" width="3" height="43.56" fill="url(#g40)" shape-rendering="crispEdges"/>
<rect x="172" y="689.17" width="3" height="43.56" fill="url(#g41)" shape-rendering="crispEdges"/>
<rect x="175" y="689.17" width="3" height="43.56" fill="url(#g42)" shape-rendering="crispEdges"/>
<rect x="178" y="689.17" width="3" height="43.56" fill="url(#g43)" shape-rendering="crispEdges"/>
<rect x="181" y="689.17" width="3" height="43.56" fill="url(#g44)" shape-rendering="crispEdges"/>
<rect x="184" y="689.17" width="3" height="43.56" fill="url(#g45)" shape-rendering="crispEdges"/>
<rect x="187" y="689.17" width="3" height="43.56" fill="url(#g46)" shape-rendering="crispEdges"/>
<rect x="190" y="689.17" width="3" height="43.56" fill="url(#g47)" shape-rendering="crispEdges"/>
<rect x="193" y="689.17" width="3" height="43.56" fill="url(#g48)" shape-rendering="crispEdges"/>
<rect x="196" y="689.17" width="3" height="43.56" fill="url(#g49)" shape-rendering="crispEdges"/>
<rect x="199" y="689.17" width="3" height="43.56" fill="url(#g50)" shape-rendering="crispEdges"/>
<rect x="202" y="689.17" width="3" height="43.56" fill="url(#g51)" shape-rendering="crispEdges"/>
<rect x="205" y="689.17" width="3" height="43.56" fill="url(#g52)" shape-rendering="crispEdges"/>
<rect x="208" y="689.17" width="3" height="43.56" fill="url(#g53)" shape-rendering="crispEdges"/>
<rect x="211" y="689.17" width="3" height="43.56" fill="url(#g54)" shape-rendering="crispEdges"/>
<rect x="214" y="689.17" width="3" height="43.56" fill="url(#g55)" shape-rendering="crispEdges"/>
<rect x="217" y="689.17" width="3" height="43.56" fill="url(#g56)" shape-rendering="crispEdges"/>
<rect x="220" y="689.17" width="3" height="43.56" fill="url(#g57)" shape-rendering="crispEdges"/>
<rect x="223" y="689.17" width="3" height="43.56" fill="url(#g58)" shape-rendering="crispEdges"/>
<rect x="226" y="689.17" width="3" height="43.56" fill="url(#g59)" shape-rendering="crispEdges"/>
<rect x="229" y="689.17" width="3" height="43.56" fill="url(#g60)" shape-rendering="crispEdges"/>
<rect x="232" y="689.17" width="3" height="43.56" fill="url(#g61)" shape-rendering="crispEdges"/>
<rect x="235" y="689.17" width="3" height="43.56" fill="url(#g62)" shape-rendering="crispEdges"/>
<rect x="238" y="689.17" width="3" height="43.56" fill="url(#g63)" shape-rendering="crispEdges"/>
<rect x="241" y="689.17" width="3" height="43.56" fill="url(#g64)" shape-rendering="crispEdges"/>
<rect x="244" y="689.17" width="3" height="43.56" fill="url(#g65)" shape-rendering="crispEdges"/>
<rect x="247" y="689.17" width="3" height="43.56" fill="url(#g66)" shape-rendering="crispEdges"/>
<rect x="250" y="689.17" width="3" height="43.56" fill="url(#g67)" shape-rendering="crispEdges"/>
<rect x="253" y="689.17" width="3" height="43.56" fill="url(#g68)" shape-rendering="crispEdges"/>
<rect x="256" y="689.17" width="3" height="43.56" fill="url(#g69)" shape-rendering="crispEdges"/>
<rect x="259" y="689.17" width="3" height="43.56" fill="url(#g70)" shape-rendering="crispEdges"/>
<rect x="262" y="689.17" width="3" height="43.56" fill="url(#g71)" shape-rendering="crispEdges"/>
<rect x="265" y="689.17" width="3" height="43.56" fill="url(#g72)" shape-rendering="crispEdges"/>
<rect x="268" y="689.17" width="3" height="43.56" fill="url(#g73)" shape-rendering="crispEdges"/>
<rect x="271" y="689.17" width="3" height="43.56" fill="url(#g74)" shape-rendering="crispEdges"/>
<rect x="274" y="689.17" width="3" height="43.56" fill="url(#g75)" shape-rendering="crispEdges"/>
<rect x="277" y="689.17" width="3" height="43.56" fill="url(#g76)" shape-rendering="crispEdges"/>
<rect x="280" y="689.17" width="3" height="43.56" fill="url(#g77)" shape-rendering="crispEdges"/>
<rect x="283" y="689.17" width="3" height="43.56" fill="url(#g78)" shape-rendering="crispEdges"/>
<rect x="286" y="689.17" width="3" height="43.56" fill="url(#g79)" shape-rendering="crispEdges"/>
<rect x="289" y="689.17" width="2.6" height="43.56" fill="url(#g80)" shape-rendering="crispEdges"/>
<line x1="55" y1="656.5" x2="291.6" y2="656.5" stroke="#262626" stroke-width="1.1"/>
<line x1="55" y1="765.4" x2="291.6" y2="765.4" stroke="#262626" stroke-width="1.1"/>
<line x1="55" y1="655.95" x2="55" y2="765.95" stroke="#262626" stroke-width="1.1"/>
<line x1="291.6" y1="655.95" x2="291.6" y2="765.95" stroke="#262626" stroke-width="1.1"/>
<line x1="55" y1="765.4" x2="55" y2="762.8" stroke="#262626" stroke-width="1.0"/>
<text x="55" y="782.4" font-size="13.7" text-anchor="middle" fill="#262626" style="font-family:'Liberation Sans',sans-serif">0</text>
<line x1="102.32" y1="765.4" x2="102.32" y2="762.8" stroke="#262626" stroke-width="1.0"/>
<text x="102.32" y="782.4" font-size="13.7" text-anchor="middle" fill="#262626" style="font-family:'Liberation Sans',sans-serif">5</text>
<line x1="149.64" y1="765.4" x2="149.64" y2="762.8" stroke="#262626" stroke-width="1.0"/>
<text x="149.64" y="782.4" font-size="13.7" text-anchor="middle" fill="#262626" style="font-family:'Liberation Sans',sans-serif">10</text>
<line x1="196.96" y1="765.4" x2="196.96" y2="762.8" stroke="#262626" stroke-width="1.0"/>
<text x="196.96" y="782.4" font-size="13.7" text-anchor="middle" fill="#262626" style="font-family:'Liberation Sans',sans-serif">15</text>
<line x1="244.28" y1="765.4" x2="244.28" y2="762.8" stroke="#262626" stroke-width="1.0"/>
<text x="244.28" y="782.4" font-size="13.7" text-anchor="middle" fill="#262626" style="font-family:'Liberation Sans',sans-serif">20</text>
<line x1="291.6" y1="765.4" x2="291.6" y2="762.8" stroke="#262626" stroke-width="1.0"/>
<text x="291.6" y="782.4" font-size="13.7" text-anchor="middle" fill="#262626" style="font-family:'Liberation Sans',sans-serif">25</text>
<line x1="55" y1="765.4" x2="57.6" y2="765.4" stroke="#262626" stroke-width="1.0"/>
<text x="50.5" y="770.3" font-size="13.7" text-anchor="end" fill="#262626" style="font-family:'Liberation Sans',sans-serif">-1</text>
<line x1="55" y1="710.95" x2="57.6" y2="710.95" stroke="#262626" stroke-width="1.0"/>
<text x="50.5" y="715.85" font-size="13.7" text-anchor="end" fill="#262626" style="font-family:'Liberation Sans',sans-serif">0</text>
<line x1="55" y1="656.5" x2="57.6" y2="656.5" stroke="#262626" stroke-width="1.0"/>
<text x="50.5" y="661.4" font-size="13.7" text-anchor="end" fill="#262626" style="font-family:'Liberation Sans',sans-serif">1</text>
<text x="65.4" y="680.8" font-size="13.7" fill="#fff" style="font-family:'Liberation Sans',sans-serif">SH</text>
<rect x="305.2" y="657.4" width="13.7" height="107.4" fill="url(#cbi)" stroke="#9a9a9a" stroke-width="0.8"/>
<line x1="318.9" y1="764.8" x2="316.7" y2="764.8" stroke="#262626" stroke-width="0.9"/>
<text x="323.1" y="769" font-size="13.7" text-anchor="start" fill="#262626" style="font-family:'Liberation Sans',sans-serif">0</text>
<line x1="318.9" y1="729" x2="316.7" y2="729" stroke="#262626" stroke-width="0.9"/>
<text x="323.1" y="733.2" font-size="13.7" text-anchor="start" fill="#262626" style="font-family:'Liberation Sans',sans-serif">50</text>
<line x1="318.9" y1="693.2" x2="316.7" y2="693.2" stroke="#262626" stroke-width="0.9"/>
<text x="323.1" y="697.4" font-size="13.7" text-anchor="start" fill="#262626" style="font-family:'Liberation Sans',sans-serif">100</text>
<line x1="318.9" y1="657.4" x2="316.7" y2="657.4" stroke="#262626" stroke-width="0.9"/>
<text x="323.1" y="661.6" font-size="13.7" text-anchor="start" fill="#262626" style="font-family:'Liberation Sans',sans-serif">150</text>
<text x="313" y="651.2" font-size="13.4" text-anchor="middle" fill="#262626" style="font-family:'Liberation Sans',sans-serif">W</text>
<text x="0.5" y="647.5" font-size="16.3" font-weight="bold" fill="#000" style="font-family:'Liberation Sans',sans-serif">i</text>
<text x="34.4" y="711" font-size="14.9" text-anchor="middle" fill="#262626" transform="rotate(-90 34.4 711)" style="font-family:'Liberation Sans',sans-serif">Time (ps)</text>
<text x="173.5" y="799.6" font-size="14.9" text-anchor="middle" fill="#262626" style="font-family:'Liberation Sans',sans-serif">Propagation distance (mm)</text>
<rect x="391.2" y="498.5" width="242.7" height="109" fill="url(#g81)"/>
<line x1="391.2" y1="553" x2="633.9" y2="553" stroke="#ffc040" stroke-width="0.7" opacity="0.7"/>
<line x1="391.2" y1="498.5" x2="633.9" y2="498.5" stroke="#262626" stroke-width="1.1"/>
<line x1="391.2" y1="607.5" x2="633.9" y2="607.5" stroke="#262626" stroke-width="1.1"/>
<line x1="391.2" y1="497.95" x2="391.2" y2="608.05" stroke="#262626" stroke-width="1.1"/>
<line x1="633.9" y1="497.95" x2="633.9" y2="608.05" stroke="#262626" stroke-width="1.1"/>
<line x1="391.2" y1="607.5" x2="391.2" y2="604.9" stroke="#262626" stroke-width="1.0"/>
<text x="391.2" y="624.5" font-size="13.7" text-anchor="middle" fill="#262626" style="font-family:'Liberation Sans',sans-serif">0</text>
<line x1="439.74" y1="607.5" x2="439.74" y2="604.9" stroke="#262626" stroke-width="1.0"/>
<text x="439.74" y="624.5" font-size="13.7" text-anchor="middle" fill="#262626" style="font-family:'Liberation Sans',sans-serif">5</text>
<line x1="488.28" y1="607.5" x2="488.28" y2="604.9" stroke="#262626" stroke-width="1.0"/>
<text x="488.28" y="624.5" font-size="13.7" text-anchor="middle" fill="#262626" style="font-family:'Liberation Sans',sans-serif">10</text>
<line x1="536.82" y1="607.5" x2="536.82" y2="604.9" stroke="#262626" stroke-width="1.0"/>
<text x="536.82" y="624.5" font-size="13.7" text-anchor="middle" fill="#262626" style="font-family:'Liberation Sans',sans-serif">15</text>
<line x1="585.36" y1="607.5" x2="585.36" y2="604.9" stroke="#262626" stroke-width="1.0"/>
<text x="585.36" y="624.5" font-size="13.7" text-anchor="middle" fill="#262626" style="font-family:'Liberation Sans',sans-serif">20</text>
<line x1="633.9" y1="607.5" x2="633.9" y2="604.9" stroke="#262626" stroke-width="1.0"/>
<text x="633.9" y="624.5" font-size="13.7" text-anchor="middle" fill="#262626" style="font-family:'Liberation Sans',sans-serif">25</text>
<line x1="391.2" y1="607.5" x2="393.8" y2="607.5" stroke="#262626" stroke-width="1.0"/>
<text x="386.7" y="612.4" font-size="13.7" text-anchor="end" fill="#262626" style="font-family:'Liberation Sans',sans-serif">-6</text>
<line x1="391.2" y1="553" x2="393.8" y2="553" stroke="#262626" stroke-width="1.0"/>
<text x="386.7" y="557.9" font-size="13.7" text-anchor="end" fill="#262626" style="font-family:'Liberation Sans',sans-serif">0</text>
<line x1="391.2" y1="498.5" x2="393.8" y2="498.5" stroke="#262626" stroke-width="1.0"/>
<text x="386.7" y="503.4" font-size="13.7" text-anchor="end" fill="#262626" style="font-family:'Liberation Sans',sans-serif">6</text>
<text x="401.4" y="526.9" font-size="13.7" fill="#fff" style="font-family:'Liberation Sans',sans-serif">FF</text>
<rect x="647.6" y="499.2" width="13.7" height="107.1" fill="url(#cbj)" stroke="#9a9a9a" stroke-width="0.8"/>
<line x1="661.3" y1="606.3" x2="659.1" y2="606.3" stroke="#262626" stroke-width="0.9"/>
<text x="665.5" y="610.5" font-size="13.7" text-anchor="start" fill="#262626" style="font-family:'Liberation Sans',sans-serif">-80</text>
<line x1="661.3" y1="579.52" x2="659.1" y2="579.52" stroke="#262626" stroke-width="0.9"/>
<text x="665.5" y="583.73" font-size="13.7" text-anchor="start" fill="#262626" style="font-family:'Liberation Sans',sans-serif">-60</text>
<line x1="661.3" y1="552.75" x2="659.1" y2="552.75" stroke="#262626" stroke-width="0.9"/>
<text x="665.5" y="556.95" font-size="13.7" text-anchor="start" fill="#262626" style="font-family:'Liberation Sans',sans-serif">-40</text>
<line x1="661.3" y1="525.98" x2="659.1" y2="525.98" stroke="#262626" stroke-width="0.9"/>
<text x="665.5" y="530.18" font-size="13.7" text-anchor="start" fill="#262626" style="font-family:'Liberation Sans',sans-serif">-20</text>
<line x1="661.3" y1="499.2" x2="659.1" y2="499.2" stroke="#262626" stroke-width="0.9"/>
<text x="665.5" y="503.4" font-size="13.7" text-anchor="start" fill="#262626" style="font-family:'Liberation Sans',sans-serif">0</text>
<text x="653" y="491.9" font-size="13.4" text-anchor="middle" fill="#262626" style="font-family:'Liberation Sans',sans-serif">dB</text>
<text x="344.5" y="490.8" font-size="16.3" font-weight="bold" fill="#000" style="font-family:'Liberation Sans',sans-serif">j</text>
<text x="369.3" y="553" font-size="14.9" text-anchor="middle" fill="#262626" transform="rotate(-90 369.3 553)" style="font-family:'Liberation Sans',sans-serif">Frequency (THz)</text>
<text x="512.5" y="641.4" font-size="14.9" text-anchor="middle" fill="#262626" style="font-family:'Liberation Sans',sans-serif">Propagation distance (mm)</text>
<rect x="391" y="657.3" width="4" height="108.5" fill="url(#g82)" shape-rendering="crispEdges"/>
<rect x="395" y="657.3" width="4" height="108.5" fill="url(#g83)" shape-rendering="crispEdges"/>
<rect x="399" y="657.3" width="4" height="108.5" fill="url(#g84)" shape-rendering="crispEdges"/>
<rect x="403" y="657.3" width="4" height="108.5" fill="url(#g85)" shape-rendering="crispEdges"/>
<rect x="407" y="657.3" width="4" height="108.5" fill="url(#g86)" shape-rendering="crispEdges"/>
<rect x="411" y="657.3" width="4" height="108.5" fill="url(#g87)" shape-rendering="crispEdges"/>
<rect x="415" y="657.3" width="4" height="108.5" fill="url(#g88)" shape-rendering="crispEdges"/>
<rect x="419" y="657.3" width="4" height="108.5" fill="url(#g89)" shape-rendering="crispEdges"/>
<rect x="423" y="657.3" width="4" height="108.5" fill="url(#g90)" shape-rendering="crispEdges"/>
<rect x="427" y="657.3" width="4" height="108.5" fill="url(#g91)" shape-rendering="crispEdges"/>
<rect x="431" y="657.3" width="4" height="108.5" fill="url(#g92)" shape-rendering="crispEdges"/>
<rect x="435" y="657.3" width="4" height="108.5" fill="url(#g93)" shape-rendering="crispEdges"/>
<rect x="439" y="657.3" width="4" height="108.5" fill="url(#g94)" shape-rendering="crispEdges"/>
<rect x="443" y="657.3" width="4" height="108.5" fill="url(#g95)" shape-rendering="crispEdges"/>
<rect x="447" y="657.3" width="4" height="108.5" fill="url(#g96)" shape-rendering="crispEdges"/>
<rect x="451" y="657.3" width="4" height="108.5" fill="url(#g97)" shape-rendering="crispEdges"/>
<rect x="455" y="657.3" width="4" height="108.5" fill="url(#g98)" shape-rendering="crispEdges"/>
<rect x="459" y="657.3" width="4" height="108.5" fill="url(#g99)" shape-rendering="crispEdges"/>
<rect x="463" y="657.3" width="4" height="108.5" fill="url(#g100)" shape-rendering="crispEdges"/>
<rect x="467" y="657.3" width="4" height="108.5" fill="url(#g101)" shape-rendering="crispEdges"/>
<rect x="471" y="657.3" width="4" height="108.5" fill="url(#g102)" shape-rendering="crispEdges"/>
<rect x="475" y="657.3" width="4" height="108.5" fill="url(#g103)" shape-rendering="crispEdges"/>
<rect x="479" y="657.3" width="4" height="108.5" fill="url(#g104)" shape-rendering="crispEdges"/>
<rect x="483" y="657.3" width="4" height="108.5" fill="url(#g105)" shape-rendering="crispEdges"/>
<rect x="487" y="657.3" width="4" height="108.5" fill="url(#g106)" shape-rendering="crispEdges"/>
<rect x="491" y="657.3" width="4" height="108.5" fill="url(#g107)" shape-rendering="crispEdges"/>
<rect x="495" y="657.3" width="4" height="108.5" fill="url(#g108)" shape-rendering="crispEdges"/>
<rect x="499" y="657.3" width="4" height="108.5" fill="url(#g109)" shape-rendering="crispEdges"/>
<rect x="503" y="657.3" width="4" height="108.5" fill="url(#g110)" shape-rendering="crispEdges"/>
<rect x="507" y="657.3" width="4" height="108.5" fill="url(#g111)" shape-rendering="crispEdges"/>
<rect x="511" y="657.3" width="4" height="108.5" fill="url(#g112)" shape-rendering="crispEdges"/>
<rect x="515" y="657.3" width="4" height="108.5" fill="url(#g113)" shape-rendering="crispEdges"/>
<rect x="519" y="657.3" width="4" height="108.5" fill="url(#g114)" shape-rendering="crispEdges"/>
<rect x="523" y="657.3" width="4" height="108.5" fill="url(#g115)" shape-rendering="crispEdges"/>
<rect x="527" y="657.3" width="4" height="108.5" fill="url(#g116)" shape-rendering="crispEdges"/>
<rect x="531" y="657.3" width="4" height="108.5" fill="url(#g117)" shape-rendering="crispEdges"/>
<rect x="535" y="657.3" width="4" height="108.5" fill="url(#g118)" shape-rendering="crispEdges"/>
<rect x="539" y="657.3" width="4" height="108.5" fill="url(#g119)" shape-rendering="crispEdges"/>
<rect x="543" y="657.3" width="4" height="108.5" fill="url(#g120)" shape-rendering="crispEdges"/>
<rect x="547" y="657.3" width="4" height="108.5" fill="url(#g121)" shape-rendering="crispEdges"/>
<rect x="551" y="657.3" width="4" height="108.5" fill="url(#g122)" shape-rendering="crispEdges"/>
<rect x="555" y="657.3" width="4" height="108.5" fill="url(#g123)" shape-rendering="crispEdges"/>
<rect x="559" y="657.3" width="4" height="108.5" fill="url(#g124)" shape-rendering="crispEdges"/>
<rect x="563" y="657.3" width="4" height="108.5" fill="url(#g125)" shape-rendering="crispEdges"/>
<rect x="567" y="657.3" width="4" height="108.5" fill="url(#g126)" shape-rendering="crispEdges"/>
<rect x="571" y="657.3" width="4" height="108.5" fill="url(#g127)" shape-rendering="crispEdges"/>
<rect x="575" y="657.3" width="4" height="108.5" fill="url(#g128)" shape-rendering="crispEdges"/>
<rect x="579" y="657.3" width="4" height="108.5" fill="url(#g129)" shape-rendering="crispEdges"/>
<rect x="583" y="657.3" width="4" height="108.5" fill="url(#g130)" shape-rendering="crispEdges"/>
<rect x="587" y="657.3" width="4" height="108.5" fill="url(#g131)" shape-rendering="crispEdges"/>
<rect x="591" y="657.3" width="4" height="108.5" fill="url(#g132)" shape-rendering="crispEdges"/>
<rect x="595" y="657.3" width="4" height="108.5" fill="url(#g133)" shape-rendering="crispEdges"/>
<rect x="599" y="657.3" width="4" height="108.5" fill="url(#g134)" shape-rendering="crispEdges"/>
<rect x="603" y="657.3" width="4" height="108.5" fill="url(#g135)" shape-rendering="crispEdges"/>
<rect x="607" y="657.3" width="4" height="108.5" fill="url(#g136)" shape-rendering="crispEdges"/>
<rect x="611" y="657.3" width="4" height="108.5" fill="url(#g137)" shape-rendering="crispEdges"/>
<rect x="615" y="657.3" width="4" height="108.5" fill="url(#g138)" shape-rendering="crispEdges"/>
<rect x="619" y="657.3" width="4" height="108.5" fill="url(#g139)" shape-rendering="crispEdges"/>
<rect x="623" y="657.3" width="4" height="108.5" fill="url(#g140)" shape-rendering="crispEdges"/>
<rect x="627" y="657.3" width="4" height="108.5" fill="url(#g141)" shape-rendering="crispEdges"/>
<rect x="631" y="657.3" width="2.7" height="108.5" fill="url(#g142)" shape-rendering="crispEdges"/>
<g clip-path="url(#ck)">
<path d="M463.9,650 L495,661.2 L541.5,678.8 L549.3,681.6 L570.7,688.9 L592,696.9 L599.8,700.2 L605.6,703.2 L607.5,704.4 L611.4,707.1 L617.2,711.5" fill="none" stroke="url(#klg)" stroke-width="3.2" filter="url(#kb1)"/>
<path d="M459.1,645.1 L492.2,657 L534.7,673.1 L551.2,679.1" fill="none" stroke="url(#klg2)" stroke-width="6" filter="url(#kb3)"/>
<ellipse cx="565.8" cy="687.2" rx="2.6" ry="1.3" fill="#2a9066" opacity="0.6" filter="url(#kb2)"/>
<ellipse cx="575.5" cy="690.7" rx="2.6" ry="1.3" fill="#2a9066" opacity="0.6" filter="url(#kb2)"/>
<ellipse cx="585.2" cy="694.3" rx="2.6" ry="1.3" fill="#2a9066" opacity="0.6" filter="url(#kb2)"/>
<ellipse cx="594.9" cy="698.1" rx="2.6" ry="1.3" fill="#2a9066" opacity="0.6" filter="url(#kb2)"/>
<ellipse cx="604.1" cy="702.4" rx="2.6" ry="1.3" fill="#2a9066" opacity="0.6" filter="url(#kb2)"/>
<ellipse cx="612.4" cy="707.8" rx="2.6" ry="1.3" fill="#2a9066" opacity="0.6" filter="url(#kb2)"/>
<path d="M463.9,773.1 L495,761.9 L541.5,744.3 L549.3,741.5 L570.7,734.2 L592,726.2 L599.8,722.9 L605.6,719.9 L607.5,718.7 L611.4,716 L617.2,711.5" fill="none" stroke="url(#klg)" stroke-width="3.2" filter="url(#kb1)"/>
<path d="M459.1,778 L492.2,766.1 L534.7,750 L551.2,744" fill="none" stroke="url(#klg2)" stroke-width="6" filter="url(#kb3)"/>
<ellipse cx="565.8" cy="735.9" rx="2.6" ry="1.3" fill="#2a9066" opacity="0.6" filter="url(#kb2)"/>
<ellipse cx="575.5" cy="732.4" rx="2.6" ry="1.3" fill="#2a9066" opacity="0.6" filter="url(#kb2)"/>
<ellipse cx="585.2" cy="728.8" rx="2.6" ry="1.3" fill="#2a9066" opacity="0.6" filter="url(#kb2)"/>
<ellipse cx="594.9" cy="725" rx="2.6" ry="1.3" fill="#2a9066" opacity="0.6" filter="url(#kb2)"/>
<ellipse cx="604.1" cy="720.7" rx="2.6" ry="1.3" fill="#2a9066" opacity="0.6" filter="url(#kb2)"/>
<ellipse cx="612.4" cy="715.3" rx="2.6" ry="1.3" fill="#2a9066" opacity="0.6" filter="url(#kb2)"/>
</g>
<line x1="391.2" y1="657.3" x2="633.7" y2="657.3" stroke="#262626" stroke-width="1.1"/>
<line x1="391.2" y1="765.8" x2="633.7" y2="765.8" stroke="#262626" stroke-width="1.1"/>
<line x1="391.2" y1="656.75" x2="391.2" y2="766.35" stroke="#262626" stroke-width="1.1"/>
<line x1="633.7" y1="656.75" x2="633.7" y2="766.35" stroke="#262626" stroke-width="1.1"/>
<line x1="391.2" y1="765.8" x2="391.2" y2="763.2" stroke="#262626" stroke-width="1.0"/>
<text x="391.2" y="782.8" font-size="13.7" text-anchor="middle" fill="#262626" style="font-family:'Liberation Sans',sans-serif">0</text>
<line x1="439.7" y1="765.8" x2="439.7" y2="763.2" stroke="#262626" stroke-width="1.0"/>
<text x="439.7" y="782.8" font-size="13.7" text-anchor="middle" fill="#262626" style="font-family:'Liberation Sans',sans-serif">5</text>
<line x1="488.2" y1="765.8" x2="488.2" y2="763.2" stroke="#262626" stroke-width="1.0"/>
<text x="488.2" y="782.8" font-size="13.7" text-anchor="middle" fill="#262626" style="font-family:'Liberation Sans',sans-serif">10</text>
<line x1="536.7" y1="765.8" x2="536.7" y2="763.2" stroke="#262626" stroke-width="1.0"/>
<text x="536.7" y="782.8" font-size="13.7" text-anchor="middle" fill="#262626" style="font-family:'Liberation Sans',sans-serif">15</text>
<line x1="585.2" y1="765.8" x2="585.2" y2="763.2" stroke="#262626" stroke-width="1.0"/>
<text x="585.2" y="782.8" font-size="13.7" text-anchor="middle" fill="#262626" style="font-family:'Liberation Sans',sans-serif">20</text>
<line x1="633.7" y1="765.8" x2="633.7" y2="763.2" stroke="#262626" stroke-width="1.0"/>
<text x="633.7" y="782.8" font-size="13.7" text-anchor="middle" fill="#262626" style="font-family:'Liberation Sans',sans-serif">25</text>
<line x1="391.2" y1="765.8" x2="393.8" y2="765.8" stroke="#262626" stroke-width="1.0"/>
<text x="386.7" y="770.7" font-size="13.7" text-anchor="end" fill="#262626" style="font-family:'Liberation Sans',sans-serif">-6</text>
<line x1="391.2" y1="711.55" x2="393.8" y2="711.55" stroke="#262626" stroke-width="1.0"/>
<text x="386.7" y="716.45" font-size="13.7" text-anchor="end" fill="#262626" style="font-family:'Liberation Sans',sans-serif">0</text>
<line x1="391.2" y1="657.3" x2="393.8" y2="657.3" stroke="#262626" stroke-width="1.0"/>
<text x="386.7" y="662.2" font-size="13.7" text-anchor="end" fill="#262626" style="font-family:'Liberation Sans',sans-serif">6</text>
<text x="401.4" y="680.9" font-size="13.7" fill="#fff" style="font-family:'Liberation Sans',sans-serif">SH</text>
<rect x="647.7" y="657.3" width="14" height="107.5" fill="url(#cbk)" stroke="#9a9a9a" stroke-width="0.8"/>
<line x1="661.7" y1="764.8" x2="659.5" y2="764.8" stroke="#262626" stroke-width="0.9"/>
<text x="665.9" y="769" font-size="13.7" text-anchor="start" fill="#262626" style="font-family:'Liberation Sans',sans-serif">-80</text>
<line x1="661.7" y1="737.92" x2="659.5" y2="737.92" stroke="#262626" stroke-width="0.9"/>
<text x="665.9" y="742.12" font-size="13.7" text-anchor="start" fill="#262626" style="font-family:'Liberation Sans',sans-serif">-60</text>
<line x1="661.7" y1="711.05" x2="659.5" y2="711.05" stroke="#262626" stroke-width="0.9"/>
<text x="665.9" y="715.25" font-size="13.7" text-anchor="start" fill="#262626" style="font-family:'Liberation Sans',sans-serif">-40</text>
<line x1="661.7" y1="684.17" x2="659.5" y2="684.17" stroke="#262626" stroke-width="0.9"/>
<text x="665.9" y="688.38" font-size="13.7" text-anchor="start" fill="#262626" style="font-family:'Liberation Sans',sans-serif">-20</text>
<line x1="661.7" y1="657.3" x2="659.5" y2="657.3" stroke="#262626" stroke-width="0.9"/>
<text x="665.9" y="661.5" font-size="13.7" text-anchor="start" fill="#262626" style="font-family:'Liberation Sans',sans-serif">0</text>
<text x="653" y="651" font-size="13.4" text-anchor="middle" fill="#262626" style="font-family:'Liberation Sans',sans-serif">dB</text>
<text x="344.5" y="648.5" font-size="16.3" font-weight="bold" fill="#000" style="font-family:'Liberation Sans',sans-serif">k</text>
<text x="369.3" y="711.5" font-size="14.9" text-anchor="middle" fill="#262626" transform="rotate(-90 369.3 711.5)" style="font-family:'Liberation Sans',sans-serif">Frequency (THz)</text>
<text x="512.5" y="799.6" font-size="14.9" text-anchor="middle" fill="#262626" style="font-family:'Liberation Sans',sans-serif">Propagation distance (mm)</text></svg></body></html>
